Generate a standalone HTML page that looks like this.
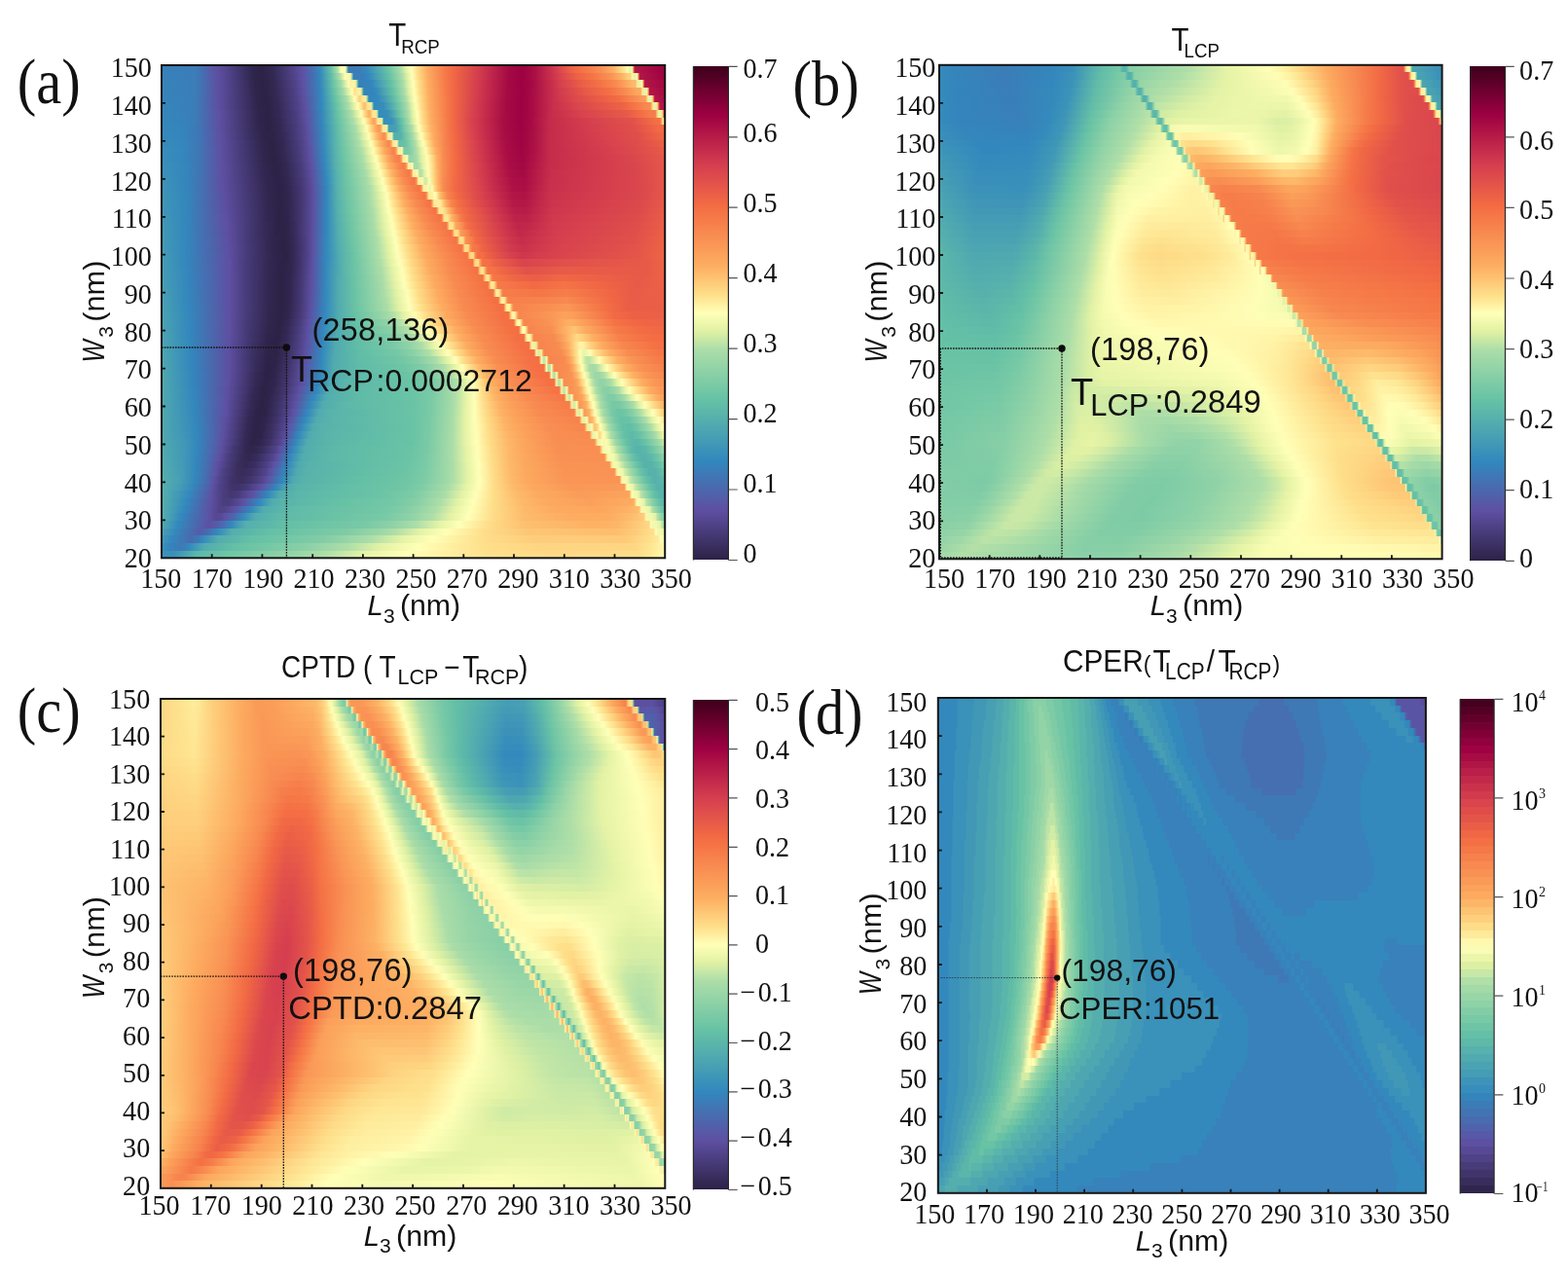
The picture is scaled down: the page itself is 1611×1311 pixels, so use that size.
<!DOCTYPE html>
<html lang="en"><head><meta charset="utf-8"><title>Figure</title>
<style>
html,body{margin:0;padding:0;background:#fff}
#fig{position:relative;width:1611px;height:1311px;overflow:hidden;background:#fff;font-family:"Liberation Sans",sans-serif}
.hm{position:absolute;overflow:hidden}
.hm i{position:absolute;left:0;width:100%;height:8.4px;display:block}
.cb{position:absolute}
#ov{position:absolute;left:0;top:0}
#ov text{fill:#111}
.s{font-family:"Liberation Serif",serif}
.a{font-family:"Liberation Sans",sans-serif}

</style></head>
<body>
<div id="fig">
<div class="hm" style="left:166.0px;top:67.0px;width:517.2px;height:506.3px"><i style="top:0.00px;background:linear-gradient(90deg,#3880b9 0%,#3a7db8 6.8%,#5b53a4 10.5%,#5c4d9e 11.5%,#433771 15.2%,#30264e 18%,#2c2246 19.8%,#332852 22%,#51438a 26.2%,#5e4fa2 27.8%,#4076b5 30.5%,#338abc 31.5%,#5ab5aa 33.2%,#6cc4a5 33.8%,#afdea8 35%,#c8e8a6 35.2%,#eef8ad 35.5%,#feffb8 35.8%,#fffdb4 36.5%,#97d5a7 36.8%,#4ba3b2 37%,#3d79b6 37.2%,#3a7db8 39.5%,#348abc 40.8%,#67c2a5 45%,#a9dca8 47.5%,#ddf0a4 48.5%,#fcfeb6 49.5%,#fffbb2 49.8%,#fede8a 50.8%,#fdab60 52.8%,#f67b49 56.2%,#f26b44 57.8%,#d1394e 63.5%,#a50944 69%,#9e0142 71.8%,#aa0f45 74.2%,#d53e4f 78.5%,#ec6046 81.2%,#f57245 83.5%,#f99153 87.5%,#fdae61 89.8%,#fee28d 91.8%,#fee795 92%,#fee795 92.2%,#fffbb3 92.5%,#ebf6aa 92.8%,#e7f4a8 93.2%,#ecf7ab 93.5%,#f7844e 93.8%,#b21747 94%,#9e0142 99.8%,#9e0142 100%)"></i><i style="top:7.67px;background:linear-gradient(90deg,#3781ba 0%,#3b7db8 6.8%,#5c52a3 10.8%,#5a4c9c 11.8%,#42366f 15.5%,#30254d 18.2%,#2c2246 20%,#332853 22.2%,#51448b 26.5%,#5d50a3 28%,#3d79b6 30.8%,#3288bd 31.5%,#63bfa6 33.8%,#a4daa8 35.2%,#b2e0a8 35.5%,#ddf0a4 36%,#ecf6ab 36.2%,#feffb7 36.5%,#fff7ad 36.8%,#fff8ad 37.5%,#9fd8a7 37.8%,#4fa9b0 38%,#3b7db8 38.2%,#397fb9 40.2%,#3389bd 41.2%,#65c1a5 45.2%,#a9dca8 47.8%,#def0a4 48.8%,#fdfeb7 49.8%,#fff2a5 50.2%,#fedc88 51%,#fdae61 52.8%,#f67b4a 56.2%,#f16844 58%,#cf384e 63.5%,#a50944 69%,#9e0142 71.8%,#ab0f45 74.2%,#d9434e 79.2%,#ec6146 82.5%,#f57145 85.2%,#f98f53 89%,#fdb164 91.5%,#fed07d 92.8%,#fed07e 93.2%,#fff0a2 93.5%,#ebf6aa 93.8%,#e7f4a8 94.2%,#f6fbb2 94.5%,#f67e4b 94.8%,#b21747 95%,#9e0242 100%)"></i><i style="top:15.34px;background:linear-gradient(90deg,#3683ba 0%,#3b7db8 6.8%,#5b53a4 10.8%,#5c4e9f 11.5%,#41356d 15.8%,#2f254c 18.5%,#2c2246 20.2%,#332953 22.5%,#504288 26.5%,#5e4fa1 28%,#3b7db8 31%,#3387bc 31.5%,#59b4ab 33.5%,#6dc5a5 34.2%,#a6dba8 35.8%,#c6e7a6 36.2%,#d9efa5 36.5%,#fffeb6 37.2%,#fff1a4 37.5%,#feefa1 37.8%,#fff3a6 38%,#fff3a6 38.5%,#a6dba8 38.8%,#54aead 39%,#3880b9 39.2%,#3683bb 41.2%,#3288bd 41.8%,#68c3a5 45.8%,#a9dca8 48%,#dff1a4 49%,#ffffb8 50%,#fee18d 51%,#fdac60 53%,#f67949 56.5%,#f16944 58%,#d0394e 63.2%,#a60a44 68.8%,#9e0142 71.5%,#a70b44 73.8%,#d7424e 79.5%,#eb6046 83.8%,#f57245 87.2%,#f88c51 90.5%,#fdb264 93.2%,#fdbb6c 93.8%,#fdbb6c 94.2%,#fee694 94.5%,#eaf5a9 94.8%,#e7f4a8 95.2%,#fffeb7 95.5%,#f57748 95.8%,#b21747 96%,#a20643 100%)"></i><i style="top:23.01px;background:linear-gradient(90deg,#3584bb 0%,#3b7db8 6.8%,#5c51a3 11%,#554792 12.8%,#30264e 18.5%,#2c2246 20.2%,#322851 22.5%,#4a3d7e 26%,#5d50a2 28.2%,#3880b9 31.2%,#348abc 31.8%,#65c1a5 34.2%,#a8dca8 36.2%,#e5f3a6 37.2%,#fbfdb5 37.8%,#fff7ac 38%,#fee998 38.2%,#fee18d 38.5%,#feee9f 39%,#feee9f 39.5%,#b1dfa8 39.8%,#58b3ab 40%,#3683bb 40.2%,#3485bc 42%,#368cbb 42.8%,#65c1a5 46%,#a8dca8 48.2%,#e1f1a4 49.2%,#fffeb6 50.2%,#fedf8a 51.2%,#fdae61 53%,#f67a49 56.5%,#f16944 58%,#d13a4e 63%,#a60a44 68.8%,#9e0142 71.8%,#a90e45 74%,#d23a4e 79%,#e75948 84.2%,#f57145 89.2%,#f88c51 92.2%,#fca85e 94.5%,#fca85e 95.2%,#fede89 95.5%,#e7f4a8 95.8%,#e7f4a8 96.2%,#fff4a8 96.5%,#f57145 96.8%,#b21747 97%,#a60a44 100%)"></i><i style="top:30.68px;background:linear-gradient(90deg,#3585bb 0%,#3a7eb8 6.5%,#5d50a2 11.2%,#41356c 16%,#2f244b 19%,#2c2246 20.8%,#342954 23%,#514389 27%,#5d4ea0 28.2%,#4076b4 30.8%,#3389bd 31.8%,#66c2a5 34.5%,#aadca8 36.8%,#e3f2a5 37.8%,#f7fbb2 38.2%,#fffdb4 38.5%,#fee28d 39%,#fed481 39.2%,#fed27f 39.5%,#fedd88 39.8%,#fee997 40%,#fee997 40.5%,#c0e5a6 40.8%,#5db8a9 41%,#3386bc 41.2%,#3389bd 43%,#469eb4 44.5%,#68c3a5 46.5%,#a8dca8 48.5%,#e2f2a4 49.5%,#fbfdb5 50.2%,#fffcb3 50.5%,#fedc87 51.5%,#fdac60 53.2%,#f67848 56.8%,#f16944 58%,#d0394e 63%,#a70b44 68.5%,#9e0142 71.5%,#a80c44 73.8%,#cb334d 78.2%,#dc484c 82%,#f36c43 90.8%,#f88d52 94.2%,#fa9a58 95.5%,#fb9d59 96.2%,#fed783 96.5%,#e7f4a8 96.8%,#e7f4a8 97.2%,#fee999 97.5%,#f26a44 97.8%,#b21747 98%,#aa0e45 100%)"></i><i style="top:38.36px;background:linear-gradient(90deg,#3486bc 0%,#3a7eb8 6.5%,#5d50a3 11.2%,#41356e 16%,#2f254c 19%,#2c2246 21%,#342955 23.2%,#51438a 27.2%,#5e4fa2 28.5%,#3288bd 31.8%,#67c3a5 34.8%,#abdda8 37.2%,#e0f1a4 38.2%,#fdfeb6 39%,#fff6ab 39.2%,#fedb87 39.8%,#fdbf6f 40.2%,#fdc373 40.5%,#fee694 41%,#fee694 41.5%,#cdeaa6 41.8%,#61bda7 42%,#3389bd 42.2%,#368cbb 44%,#4ea7b0 45.5%,#6bc4a5 47%,#a8dca8 48.8%,#e4f3a5 49.8%,#fdfeb6 50.5%,#fff1a3 51%,#fee08b 51.5%,#fdae61 53.2%,#f67948 56.8%,#f16944 58%,#d33c4f 62.5%,#a60a44 68.5%,#9e0142 71.5%,#a80c44 73.8%,#c82f4c 77.8%,#da464d 82.8%,#ee6445 91.8%,#f57145 93.5%,#f88b51 96.5%,#f88b51 97%,#f99254 97.2%,#fed17f 97.5%,#e7f4a8 97.8%,#e7f4a8 98.2%,#fedf8a 98.5%,#ee6445 98.8%,#b21747 99%,#ae1346 100%)"></i><i style="top:46.03px;background:linear-gradient(90deg,#3387bc 0%,#3a7eb8 6.5%,#5e4fa2 11.5%,#30264d 19%,#2c2246 21%,#332853 23.2%,#4b3e80 26.8%,#5d51a3 28.8%,#3386bc 31.8%,#68c3a5 35%,#acdda8 37.8%,#ddf0a4 38.8%,#f9fcb4 39.5%,#fffbb3 39.8%,#fee28d 40.2%,#fdad61 41.2%,#fdb668 41.5%,#fee796 42%,#fee796 42.5%,#d4eda5 42.8%,#65c1a6 43%,#358cbb 43.2%,#378dbb 44.8%,#479fb3 45.8%,#67c2a5 47.2%,#a8dca8 49%,#e6f4a7 50%,#ffffb7 50.8%,#fedd88 51.8%,#fdab60 53.5%,#f57346 57.2%,#ed6346 58.5%,#d0394e 62.8%,#a70c44 68.2%,#9e0142 71.5%,#a80c44 73.8%,#c62d4b 77.5%,#d9454d 84.2%,#e75a48 92.5%,#f57145 95.8%,#f67d4b 97.2%,#f67d4b 98%,#f88850 98.2%,#fecd7b 98.5%,#e7f4a8 98.8%,#e7f4a8 99.2%,#fed582 99.5%,#ea5d47 99.8%,#b21747 100%)"></i><i style="top:53.70px;background:linear-gradient(90deg,#3288bd 0%,#3a7eb8 6.5%,#5e50a2 11.5%,#30254d 19.2%,#2c2246 21.2%,#332853 23.5%,#4c3f81 27%,#5e4fa1 28.8%,#3485bc 31.8%,#388fba 32.2%,#64c0a6 35%,#addea8 38.2%,#e5f3a6 39.5%,#feffb7 40.2%,#fff5aa 40.5%,#fedb87 41%,#fdb265 41.8%,#fba15b 42.2%,#fdab60 42.5%,#fee998 43%,#fee998 43.5%,#dcf0a4 43.8%,#6ac4a5 44%,#388eba 44.2%,#3a91b9 45.8%,#50a9af 46.8%,#6ac4a5 47.8%,#a8dca8 49.2%,#dcf0a4 50%,#fafdb5 50.8%,#fffbb2 51%,#fee08c 51.8%,#fdad60 53.5%,#f47044 57.5%,#d8424e 61.5%,#a80d44 68%,#9e0142 71.2%,#a50944 73.2%,#c42b4b 77.2%,#d7424e 85.8%,#e2524a 93.8%,#f46f44 98.2%,#f46f44 99%,#f7804c 99.2%,#feca79 99.5%,#e7f4a8 99.8%,#e7f4a8 100%)"></i><i style="top:61.37px;background:linear-gradient(90deg,#3389bc 0%,#3683bb 4.8%,#3e78b6 7.2%,#5d50a2 11.5%,#31264e 19.2%,#2c2246 21.2%,#322751 23.5%,#463a76 26.5%,#584a98 28.5%,#5d50a3 29%,#3288bd 32%,#5fbaa8 34.8%,#7acaa6 36.2%,#a9dca8 38.5%,#def0a4 39.8%,#ffffb8 40.8%,#fedc87 41.5%,#fdac60 42.5%,#fa9656 43.2%,#fba25c 43.5%,#fdc675 43.8%,#feea99 44%,#feea99 44.5%,#e6f4a7 44.8%,#7acaa6 45%,#459db4 45.2%,#469fb4 46.5%,#5ab5aa 47.5%,#72c7a6 48.2%,#addea8 49.8%,#e3f2a5 50.5%,#ffffb8 51.2%,#fee390 52%,#fdb365 53.5%,#f7864f 56%,#f26a44 58%,#d63f4f 62%,#a80c44 68.2%,#9f0242 71.5%,#a90d45 73.8%,#c42b4b 77.2%,#d7414e 86.5%,#e1504a 94.2%,#f26944 98.8%,#f26944 100%)"></i><i style="top:69.04px;background:linear-gradient(90deg,#348bbc 0%,#3485bc 4.2%,#3e78b6 7.2%,#5d51a3 11.5%,#3b3062 17.5%,#2e2449 20.2%,#2d2347 22.2%,#362b59 24.5%,#54468f 28.2%,#5d4ea0 29%,#3b7cb7 31.5%,#3486bc 32%,#3e95b8 32.8%,#61bca7 35%,#8ed2a7 37.5%,#addea8 39%,#e2f2a4 40.2%,#fffdb6 41.2%,#fedc88 42%,#fdae61 43%,#f88c51 44.2%,#fa9b58 44.5%,#fdc171 44.8%,#feeb9b 45%,#feeb9b 45.5%,#eef7ac 45.8%,#8bd0a7 46%,#53adae 46.2%,#57b2ac 47.5%,#66c2a5 48.2%,#a7dba8 50%,#d9eea5 50.8%,#f0f8ae 51.2%,#fafdb4 51.5%,#fffbb2 51.8%,#fede89 52.5%,#fdac60 54%,#f7804c 56.5%,#f16944 58.2%,#d63f4f 62.2%,#a90d45 68.2%,#9f0342 71.5%,#aa0e45 73.8%,#c42c4b 77.2%,#d7414e 87.5%,#e04f4b 94.8%,#ee6545 99.2%,#ee6545 100%)"></i><i style="top:76.71px;background:linear-gradient(90deg,#368cbb 0%,#3486bc 4.2%,#3e78b5 7.2%,#5e4fa2 11.8%,#30264e 19.8%,#2c2246 22%,#322751 24%,#473b78 27%,#5b4c9c 29%,#5e4fa2 29.2%,#3389bd 32.2%,#59b4ab 34.5%,#6ec5a5 36%,#aadda8 39.2%,#e4f3a6 40.8%,#fafdb5 41.5%,#fffcb3 41.8%,#fedc88 42.5%,#fdb163 43.5%,#f88a50 45%,#f7864e 45.2%,#fa9656 45.5%,#fdbd6e 45.8%,#feec9d 46%,#feec9d 46.5%,#f5fbb1 46.8%,#9bd7a7 47%,#62bea7 47.2%,#65c1a5 48.2%,#7acaa6 49%,#b0dfa8 50.5%,#e1f1a4 51.2%,#fdfeb7 52%,#feed9e 52.5%,#fed985 53%,#fdac60 54.2%,#f7854e 56.2%,#f26a44 58.2%,#d53f4f 62.5%,#a90d45 68.5%,#a00343 71.5%,#aa0f45 73.8%,#c42c4b 77.2%,#d7414e 88.5%,#e1504a 95.8%,#eb6046 99.8%,#eb6046 100%)"></i><i style="top:84.38px;background:linear-gradient(90deg,#378ebb 0%,#3486bc 4.5%,#4076b4 7.5%,#5d50a2 11.8%,#30264e 20%,#2c2246 22.2%,#322851 24.2%,#483b79 27.2%,#594b99 29%,#5c51a3 29.5%,#3387bc 32.2%,#58b2ab 34.5%,#6fc6a5 36.2%,#aedea8 39.8%,#dff1a4 41%,#fcfdb6 42%,#fffab1 42.2%,#fedd88 43%,#fdac60 44.2%,#f88850 45.8%,#f7814c 46.2%,#f99254 46.5%,#fdba6b 46.8%,#feee9f 47%,#feee9f 47.5%,#fbfdb5 47.8%,#aadda8 48%,#79caa6 48.2%,#7ccba6 49%,#8fd2a7 49.8%,#b4e0a7 50.8%,#ddf0a4 51.5%,#fffdb5 52.5%,#fedf8a 53.2%,#fdac60 54.5%,#f88b51 56%,#f36b44 58.2%,#d6404e 62.5%,#aa0e45 68.5%,#a10443 71.5%,#ab0f45 73.8%,#c42c4b 77.2%,#d7424e 90%,#e2514a 97%,#e85b48 100%)"></i><i style="top:92.05px;background:linear-gradient(90deg,#388fba 0%,#3386bc 4.5%,#4076b4 7.5%,#5d50a3 11.8%,#30264e 20.2%,#2c2246 22.5%,#322851 24.5%,#493c7b 27.5%,#5a4c9b 29.2%,#5e4fa2 29.5%,#3585bb 32.2%,#348abc 32.5%,#57b1ac 34.5%,#6dc5a5 36.2%,#abdda8 40%,#e3f2a4 41.5%,#fdfeb7 42.5%,#fff9af 42.8%,#fedd88 43.5%,#fdae61 44.8%,#f88b51 46.2%,#f67d4a 47.2%,#f88d52 47.5%,#fdb668 47.8%,#feefa1 48%,#feefa1 48.5%,#fffeb7 48.8%,#c5e7a6 49%,#93d4a7 49.2%,#94d4a7 49.8%,#a4daa8 50.5%,#acdda8 50.8%,#d7eea5 51.5%,#e2f2a4 51.8%,#fefeb7 52.8%,#fff0a2 53.2%,#feda86 53.8%,#fdac60 54.8%,#f88c51 56%,#f36c43 58.2%,#d7424e 62.5%,#aa0e45 68.8%,#a20543 71.8%,#b01446 74.2%,#c52c4b 77.2%,#d9444e 92.5%,#e55749 100%)"></i><i style="top:99.73px;background:linear-gradient(90deg,#3a91b9 0%,#3486bc 4.8%,#4273b3 7.8%,#5e4fa2 12%,#31274f 20.2%,#2c2246 22.8%,#322852 24.8%,#493c7c 27.8%,#5d51a3 29.8%,#3288bd 32.5%,#56b0ac 34.5%,#6ec5a5 36.5%,#a9dca8 40.2%,#e5f3a6 42%,#feffb8 43%,#fedd89 44%,#fdb063 45.2%,#f88a50 47%,#f67a49 48.2%,#f88a50 48.5%,#fdb365 48.8%,#fff0a3 49%,#fff0a3 49.5%,#fffbb2 49.8%,#d9eea5 50%,#a4daa8 50.2%,#a4daa8 50.8%,#a9dca8 51%,#c7e8a6 51.5%,#e5f3a6 52%,#fbfdb5 52.8%,#fffbb2 53%,#fee08b 53.8%,#fdaf62 54.8%,#f99154 55.8%,#f36b43 58.2%,#d7424e 62.8%,#aa0e45 69%,#a40743 71.8%,#b11647 74.2%,#c52d4b 77.2%,#da464d 94%,#e55649 100%)"></i><i style="top:107.40px;background:linear-gradient(90deg,#3b92b9 0%,#3486bc 4.8%,#4471b2 8%,#5e4fa2 12%,#31264f 20.5%,#2c2246 23%,#322852 25%,#4a3d7d 28%,#5a4b9a 29.5%,#5d4ea1 29.8%,#3485bc 32.5%,#3990ba 33%,#58b2ab 34.8%,#6cc4a5 36.5%,#a7dca8 40.5%,#bde4a7 41.2%,#e1f1a4 42.2%,#fffeb7 43.5%,#fede89 44.5%,#fdac60 46%,#f88c51 47.5%,#f57748 49.2%,#f7864f 49.5%,#fdb063 49.8%,#fff1a4 50%,#fff1a4 50.5%,#fff9af 50.8%,#e6f4a7 51%,#b8e2a7 51.2%,#b3e0a7 51.5%,#bbe3a7 51.8%,#dff1a4 52.2%,#f6fbb2 52.8%,#ffffb8 53%,#fed985 54%,#fdb365 54.8%,#f99153 55.8%,#f57145 57.8%,#df4d4b 61.5%,#cd354d 64.5%,#ab0f45 69.2%,#a60a44 72%,#b91f48 75%,#c72f4c 77.5%,#da464d 94.5%,#e55649 100%)"></i><i style="top:115.07px;background:linear-gradient(90deg,#3c93b8 0%,#3386bc 4.8%,#4471b2 8%,#5d4ea1 12.2%,#31264f 20.8%,#2c2246 23.2%,#31274f 25%,#463976 27.8%,#584996 29.5%,#5d50a2 30%,#3389bd 32.8%,#57b1ac 34.8%,#6ec5a5 36.8%,#a6dba8 40.8%,#b9e3a7 41.5%,#e3f3a5 42.8%,#fbfdb5 43.8%,#fffdb5 44%,#fede89 45%,#fdae61 46.5%,#f88b51 48.2%,#f57547 50.2%,#f7834d 50.5%,#fdad61 50.8%,#fff0a2 51%,#fff2a5 51.5%,#fff6ab 51.8%,#f0f8ad 52%,#d3eca5 52.2%,#cfeba5 52.5%,#dff1a4 52.8%,#fdfeb7 53.2%,#fedd89 54%,#fdab60 55%,#f88a51 56%,#f26b44 58.2%,#da454d 62.8%,#c52c4b 65.8%,#ab0f45 69.8%,#a90d45 72.2%,#c72f4c 77.2%,#db474d 95%,#e55649 100%)"></i><i style="top:122.74px;background:linear-gradient(90deg,#3e95b8 0%,#3386bc 4.8%,#466fb1 8.2%,#5e4fa2 12.2%,#31264f 21%,#2c2246 23.5%,#312750 25.2%,#443873 27.8%,#594b99 29.8%,#5c52a3 30.2%,#3386bc 32.8%,#56b0ac 34.8%,#6cc4a5 36.8%,#a5dba8 41%,#b6e1a7 41.8%,#e5f4a6 43.2%,#fcfeb6 44.2%,#fffcb4 44.5%,#fedf8a 45.5%,#fdab60 47.2%,#f88d52 48.8%,#f57346 51.2%,#f7804c 51.5%,#fcaa5f 51.8%,#feeb9b 52%,#feefa1 52.2%,#fff2a5 52.8%,#fafdb4 53%,#e8f5a8 53.2%,#edf7ab 53.5%,#fffdb5 53.8%,#feeb9c 54%,#fedc88 54.2%,#fdb063 55%,#f88a50 56%,#f26a44 58.2%,#db474d 62.8%,#c9314c 65.5%,#ad1246 69.8%,#ab0f45 72.2%,#c8304c 77.2%,#db474d 95.2%,#e55649 100%)"></i><i style="top:130.41px;background:linear-gradient(90deg,#3e96b7 0%,#3387bc 4.8%,#496baf 8.8%,#5d4ea0 12.5%,#312750 21%,#2c2246 23.5%,#31264e 25.2%,#443772 27.8%,#594a98 29.8%,#5c51a3 30.2%,#3386bc 32.8%,#449cb5 33.8%,#5bb5aa 35.2%,#71c6a5 37.2%,#a6dba8 41.2%,#b7e2a7 42%,#e5f3a6 43.5%,#fffeb7 44.8%,#fedc88 46%,#fdac60 47.8%,#f88d52 49.5%,#f57346 52.2%,#f67b4a 52.5%,#fca55d 52.8%,#fee18d 53%,#feed9d 53.2%,#feed9e 53.8%,#fff8ad 54%,#fcfeb6 54.2%,#fffbb2 54.5%,#fee592 54.8%,#fdc675 55.2%,#fdaa5f 55.8%,#f7854e 56.8%,#f36c43 58.5%,#df4e4b 62.2%,#cd354d 65.5%,#b11646 69.8%,#ae1346 72.2%,#ca324c 77.2%,#db474d 95%,#e65749 100%)"></i><i style="top:138.08px;background:linear-gradient(90deg,#3f97b7 0%,#3387bc 4.8%,#4b67ae 9.2%,#5e4fa2 12.5%,#322750 21%,#2c2246 23.8%,#322750 25.5%,#463976 28%,#594a98 29.8%,#5c52a3 30.2%,#3387bc 32.8%,#54aead 34.8%,#6bc4a5 37%,#a7dba8 41.5%,#b9e2a7 42.2%,#e5f3a6 43.8%,#ffffb8 45%,#fee08b 46.2%,#fdad61 48.2%,#f88b51 50.5%,#f57346 53.2%,#f57647 53.5%,#fb9f5a 53.8%,#fed683 54%,#feea9a 54.2%,#feec9d 55.2%,#fee694 55.5%,#fed481 55.8%,#fdac60 56.5%,#f7864f 57.5%,#f46e43 59%,#e2524a 62.2%,#ce364d 66%,#b41947 70%,#b21747 72.2%,#cc344d 77.5%,#dc494c 95%,#e75948 100%)"></i><i style="top:145.75px;background:linear-gradient(90deg,#4097b7 0%,#3387bc 4.8%,#4f62ab 10%,#5d4ea1 12.8%,#332853 20.8%,#2c2246 23.5%,#30254d 25.2%,#41356c 27.5%,#594b99 29.8%,#5d4ea0 30%,#3f77b5 32%,#3387bd 32.8%,#56b0ad 35%,#6dc5a5 37.2%,#a8dca8 41.8%,#bae3a7 42.5%,#e6f4a6 44%,#feffb7 45.2%,#fedd88 46.8%,#fdae61 48.8%,#f88c51 51.2%,#f57245 54.5%,#fa9957 54.8%,#fecc7a 55%,#fee896 55.2%,#fee896 55.8%,#fed17f 56.5%,#fdb667 57%,#fca35c 57.5%,#f77f4c 58.5%,#f26a44 60%,#de4b4c 64%,#cd354d 66.8%,#b71d48 70.2%,#b71c48 72.5%,#ce364d 77.5%,#dd4a4c 94.8%,#e85b48 100%)"></i><i style="top:153.42px;background:linear-gradient(90deg,#4098b6 0%,#3387bc 4.8%,#5a55a5 12%,#5d4ea0 13%,#332853 20.8%,#2c2246 23.5%,#2f254c 25.2%,#41356c 27.5%,#594b99 29.8%,#5d4ea0 30%,#3288bd 32.8%,#55afad 35%,#6ec5a5 37.5%,#a9dca8 42%,#e1f2a4 44%,#fdfeb7 45.5%,#fff6ab 46%,#fee08b 47%,#fdac60 49.5%,#f88a50 52.2%,#f57245 55.5%,#f99354 55.8%,#fdc271 56%,#fee593 56.2%,#fee593 56.8%,#feda86 57%,#fdbc6d 57.5%,#fca85e 58%,#f67949 59.5%,#f16844 60.8%,#d0394e 67%,#bb2249 70.2%,#bb2149 72.5%,#d0394e 77.8%,#de4c4b 94.5%,#e95d47 100%)"></i><i style="top:161.10px;background:linear-gradient(90deg,#4199b6 0%,#3387bc 4.8%,#5e4fa1 13%,#372c5a 20%,#2d2348 23%,#2d2348 24.8%,#372c5b 26.5%,#564893 29.5%,#5d4ea1 30%,#3288bd 32.8%,#54adad 35%,#6cc4a5 37.5%,#aadca8 42.2%,#e1f2a4 44.2%,#fdfeb6 45.8%,#fffdb4 46%,#fedd89 47.5%,#fdac60 50%,#f88a51 53%,#f57346 56.5%,#f88d52 56.8%,#fdb869 57%,#fee38f 57.2%,#fee38f 57.8%,#fed682 58%,#fdbd6d 58.2%,#fca85e 58.5%,#f88b51 59.8%,#f57446 60.5%,#f06745 61.5%,#cf384e 67.8%,#be254a 70.8%,#c1284a 73.2%,#d23b4e 77.8%,#df4e4b 94.5%,#ea5e47 100%)"></i><i style="top:168.77px;background:linear-gradient(90deg,#429ab6 0%,#3387bc 4.8%,#5d4ea0 13.2%,#3b2f61 19.2%,#2d2349 22.8%,#2d2347 24.8%,#372c5a 26.5%,#564893 29.5%,#5e4fa1 30%,#3288bd 32.8%,#55afad 35.2%,#6dc5a5 37.8%,#aadda8 42.5%,#e2f2a4 44.5%,#fcfeb6 46%,#fffdb6 46.2%,#fee08b 47.8%,#fdad61 50.5%,#f88950 54%,#f57346 57.5%,#f8874f 57.8%,#fdae61 58%,#fee08b 58.2%,#fee08b 58.8%,#fed481 59%,#fdb264 59.2%,#fa9a58 59.5%,#f7834d 60.8%,#f46f44 61.5%,#e65848 64%,#ce374d 68.5%,#c1284a 71.2%,#cb324d 74.8%,#d53e4f 78.8%,#e04e4b 94%,#ec6046 100%)"></i><i style="top:176.44px;background:linear-gradient(90deg,#439ab5 0%,#3387bc 4.8%,#5e4fa2 13.2%,#463975 17.2%,#30264e 21.8%,#2c2246 24.5%,#322852 26%,#4a3d7e 28.5%,#5a4b9a 29.8%,#5e4fa2 30%,#3389bd 32.8%,#54aead 35.2%,#6ec5a5 38%,#abdda8 42.8%,#e2f2a4 44.8%,#fffeb7 46.5%,#fedd89 48.2%,#fdab60 51.2%,#f8884f 55%,#f57346 58.5%,#f7824d 58.8%,#fca85e 59%,#fede89 59.2%,#fede89 59.8%,#fed481 60%,#fdab60 60.2%,#f98f53 60.5%,#f67b49 61.8%,#f46d43 62.2%,#e75948 64.5%,#d0384e 69%,#c52d4b 71.5%,#d6404e 78.8%,#e1514a 94.2%,#ed6246 100%)"></i><i style="top:184.11px;background:linear-gradient(90deg,#439bb5 0%,#3387bd 4.8%,#5d4ea0 13.5%,#493c7b 16.8%,#312750 21.5%,#2c2246 24.2%,#30264e 25.8%,#42366e 27.8%,#5a4b9b 29.8%,#5e4fa2 30%,#3389bd 32.8%,#55b0ad 35.5%,#6ec5a5 38.2%,#acdea8 43%,#e2f2a4 45%,#ffffb8 46.8%,#fee08b 48.5%,#fdac60 51.8%,#f88850 55.8%,#f57346 59.5%,#f67d4a 59.8%,#fba25b 60%,#fed582 60.2%,#fedc87 60.5%,#fed783 61%,#fca75e 61.2%,#f7854e 61.5%,#f67a49 61.8%,#f57346 62.8%,#ef6545 63.5%,#cf384e 69.8%,#ca324c 72%,#d7424e 78.8%,#e3534a 94.2%,#ee6445 100%)"></i><i style="top:191.78px;background:linear-gradient(90deg,#449cb5 0%,#3387bd 4.8%,#5c51a3 13.2%,#5a4b9b 14%,#433771 17.8%,#30264d 22%,#2c2246 24.8%,#332954 26.2%,#504288 29%,#5d50a2 30%,#3585bb 32.5%,#3389bd 32.8%,#54aead 35.5%,#6fc6a5 38.5%,#addea8 43.2%,#e2f2a4 45.2%,#feffb8 47%,#fedd89 49%,#fdac60 52.2%,#f88950 56.5%,#f57346 60.5%,#f67848 60.8%,#fb9c59 61%,#fecc7a 61.2%,#feda86 61.5%,#feda86 62%,#fca55d 62.2%,#f67f4b 62.5%,#f46e43 62.8%,#f46d43 63.8%,#ec6146 64.8%,#d8424e 69.2%,#cf374d 71.5%,#da464d 80.5%,#e55649 95%,#ef6545 100%)"></i><i style="top:199.45px;background:linear-gradient(90deg,#459db4 0%,#3386bc 5%,#5e4fa2 13.5%,#4c3e80 16.2%,#322852 21.2%,#2c2246 24.2%,#30264e 25.8%,#43366f 27.8%,#574996 29.5%,#5d51a3 30%,#3485bc 32.5%,#378dbb 33%,#57b1ac 35.8%,#6ec5a5 38.5%,#addea8 43.5%,#e2f2a4 45.5%,#fdfeb7 47.2%,#fff9af 47.8%,#fedc87 49.5%,#fdac60 52.8%,#f88950 57%,#f57245 61.8%,#fa9857 62%,#fec776 62.2%,#fedd89 62.5%,#fedd89 63%,#fdad61 63.2%,#f8874f 63.5%,#f57145 63.8%,#f47044 64.8%,#ed6346 66.2%,#d9444d 71.8%,#e1514a 80.5%,#e75a48 96.5%,#ee6445 100%)"></i><i style="top:207.12px;background:linear-gradient(90deg,#459eb4 0%,#3387bc 5%,#5e4fa2 13.5%,#4a3d7e 16.5%,#322852 21.2%,#2c2246 24.2%,#31264f 25.8%,#463976 28%,#584a97 29.5%,#5c52a3 30%,#3486bc 32.5%,#3e95b7 33.5%,#5bb5aa 36.2%,#73c7a6 39%,#aedea8 43.8%,#e5f3a6 46%,#fffeb7 47.8%,#fede89 49.8%,#fdac60 53.2%,#f88950 57.5%,#f57145 62.8%,#f99355 63%,#fdc271 63.2%,#fee18c 63.5%,#fee18c 64%,#fdb86a 64.2%,#f98f53 64.5%,#f57446 64.8%,#f57346 65.8%,#ef6645 67.8%,#e1514a 72.5%,#e85b48 79.5%,#e75a48 96.5%,#ee6345 100%)"></i><i style="top:214.79px;background:linear-gradient(90deg,#469fb4 0%,#3387bd 5%,#5e4fa2 13.5%,#4a3d7e 16.5%,#322851 21.2%,#2c2246 24%,#30254d 25.5%,#41356d 27.5%,#594b99 29.5%,#5d4ea1 29.8%,#3386bc 32.5%,#52acae 35.2%,#6cc4a5 38.5%,#a9dca8 43.8%,#e5f3a6 46.2%,#ffffb8 48%,#fedc88 50.2%,#fdac60 53.8%,#f88a50 58%,#f47044 63.8%,#f98e52 64%,#fdbc6d 64.2%,#fee592 64.5%,#fee592 65%,#fdc474 65.2%,#fa9756 65.5%,#f57748 65.8%,#f57346 67%,#ee6545 70.5%,#ea5d47 74%,#f06745 79.5%,#e75a48 95.5%,#ed6246 100%)"></i><i style="top:222.47px;background:linear-gradient(90deg,#479fb3 0%,#3386bc 5.2%,#5e4fa2 13.5%,#4a3d7d 16.5%,#322751 21.2%,#2c2246 24%,#30264e 25.5%,#42366f 27.5%,#5a4c9b 29.5%,#5e4fa2 29.8%,#3387bc 32.5%,#52acae 35.2%,#6cc4a5 38.5%,#a9dca8 44%,#e4f3a5 46.5%,#fefeb7 48.2%,#fff1a4 49.2%,#fede89 50.5%,#fdab60 54.2%,#f88a50 58.5%,#f47044 64.8%,#f88950 65%,#fdb567 65.2%,#fee897 65.5%,#fee897 66%,#fed07d 66.2%,#fb9f5a 66.5%,#f67a49 66.8%,#f26944 73.8%,#f57346 80.2%,#ee6345 88.8%,#e75a48 94.5%,#ec6146 100%)"></i><i style="top:230.14px;background:linear-gradient(90deg,#48a0b3 0%,#3387bc 5.2%,#5e4fa2 13.5%,#4a3d7d 16.5%,#322751 21.2%,#2c2246 24%,#31264e 25.5%,#433770 27.5%,#5b4c9d 29.5%,#5d50a3 29.8%,#3287bd 32.5%,#52acae 35.2%,#6dc5a5 38.8%,#aadca8 44.2%,#e3f3a5 46.8%,#fffeb6 48.8%,#fedd88 51%,#fdab60 54.8%,#f88a51 59%,#f47044 65.5%,#f46f44 65.8%,#f7844d 66%,#fdaf62 66.2%,#feec9d 66.5%,#feec9d 67%,#fedb87 67.2%,#fca65d 67.5%,#f7814c 67.8%,#f67d4a 68.2%,#f57647 74.8%,#f67e4b 80.5%,#f16844 88.5%,#e85b48 93.5%,#ec6046 100%)"></i><i style="top:237.81px;background:linear-gradient(90deg,#49a1b3 0%,#3387bd 5.2%,#5e4fa2 13.5%,#493c7b 16.8%,#322750 21.2%,#2c2246 24%,#31264f 25.5%,#463a76 27.8%,#5c4d9e 29.5%,#5856a6 30%,#3288bd 32.5%,#52acae 35.2%,#6dc5a5 38.8%,#aadda8 44.5%,#e3f2a5 47%,#ffffb8 49%,#fede8a 51.2%,#fdab60 55.2%,#f88b51 59.5%,#f47044 66.2%,#f46f44 66.8%,#f67e4b 67%,#fcaa5f 67.2%,#feec9d 67.5%,#fff0a2 67.8%,#fff0a2 68%,#fee795 68.2%,#fdae61 68.5%,#f88950 68.8%,#f7804c 69%,#f7834d 76%,#f88a50 80.5%,#f16944 89%,#e95c47 93.2%,#eb5f47 100%)"></i><i style="top:245.48px;background:linear-gradient(90deg,#49a2b2 0%,#3288bd 5.2%,#5e4fa2 13.5%,#493c7b 16.8%,#322750 21.2%,#2c2246 24%,#312750 25.5%,#473a78 27.8%,#5d4ea0 29.5%,#3288bd 32.5%,#52acae 35.2%,#6cc4a5 38.8%,#aadda8 44.8%,#e3f2a4 47.2%,#fefeb7 49.2%,#fedd88 51.8%,#fdab5f 55.8%,#f88b51 60%,#f47044 67%,#f46f44 67.8%,#f67848 68%,#fca55d 68.2%,#fee694 68.5%,#fff4a8 68.8%,#fff3a6 69.2%,#fdba6b 69.5%,#f99154 69.8%,#f7834d 70%,#f98e52 76.2%,#fa9656 80.8%,#f46e44 88.5%,#ea5e47 92.5%,#ea5e47 100%)"></i><i style="top:253.15px;background:linear-gradient(90deg,#4aa3b2 0%,#3387bc 5.5%,#5e4fa2 13.5%,#483c7a 16.8%,#31274f 21.2%,#2c2246 23.8%,#31264f 25.2%,#463976 27.5%,#5d50a3 29.5%,#3485bc 32.2%,#368dbb 32.8%,#52acae 35.2%,#6bc4a5 39%,#9bd7a7 44.2%,#addea8 45.8%,#e5f3a6 48.2%,#fffeb7 50.2%,#fede89 52.5%,#fdab60 56.5%,#f88b51 60.8%,#f47044 67.8%,#f46e44 68.8%,#f57245 69%,#fba05a 69.2%,#fedf8a 69.5%,#fff7ad 69.8%,#fff7ad 70.2%,#fdc474 70.5%,#fa9857 70.8%,#f7864e 71%,#fa9556 76.8%,#fba25c 80.2%,#fb9e59 81.8%,#f36b44 89.8%,#ec6146 93.5%,#eb6046 100%)"></i><i style="top:260.82px;background:linear-gradient(90deg,#4ba4b2 0%,#3387bd 5.5%,#5e4fa1 13.5%,#463a76 17%,#31274f 21%,#2c2246 23.5%,#312750 25%,#493c7b 27.5%,#5e4fa2 29.2%,#3387bd 32.2%,#51abaf 35%,#68c3a5 39.2%,#8ed2a7 44.5%,#addea8 47.2%,#e2f2a4 49.5%,#feffb8 51.5%,#fede89 53.8%,#fdab60 57.5%,#f88c51 61.5%,#f47045 68.5%,#f46f44 70%,#fb9e5a 70.2%,#fede8a 70.5%,#fffbb2 70.8%,#fffbb2 71.2%,#feca78 71.5%,#fa9a58 71.8%,#f7854e 72%,#f99254 77%,#fdb062 81%,#fdad61 82%,#f57245 90.2%,#f06744 94.2%,#ee6345 100%)"></i><i style="top:268.49px;background:linear-gradient(90deg,#4ba4b1 0%,#3287bd 5.5%,#5e4fa1 13.5%,#463975 17%,#31274f 20.8%,#2c2246 23.2%,#322750 24.8%,#483c7a 27.2%,#5d4ea0 29%,#3389bd 32.2%,#50aaaf 34.8%,#66c2a5 39.5%,#88cfa6 45.2%,#addea8 48.8%,#e3f2a5 51%,#fffeb6 53%,#fede89 55%,#fdac60 58.5%,#f88c51 62.5%,#f47044 69.5%,#f46e43 71%,#fb9e59 71.2%,#fedf8a 71.5%,#ffffb8 71.8%,#ffffb8 72.2%,#fece7c 72.5%,#fb9c59 72.8%,#f7854e 73%,#f98f53 77.5%,#fdb466 80.5%,#fdc575 82%,#fdba6b 83%,#fdab60 84.2%,#f67a49 90.5%,#f46c43 95%,#f06744 100%)"></i><i style="top:276.16px;background:linear-gradient(90deg,#4ca5b1 0%,#3386bc 5.8%,#5d4fa1 13.5%,#42366e 17.5%,#2f254c 21%,#2c2247 23.2%,#352a57 25%,#594a98 28.5%,#5d51a3 29%,#3386bc 32%,#4fa8b0 34.5%,#63bea7 39%,#7dcba6 45.2%,#9ed8a7 49%,#aedea8 50.2%,#e4f3a6 52.5%,#feffb8 54.2%,#fede89 56.2%,#fdad60 59.5%,#f88c51 63.5%,#f47044 70.5%,#f46e43 72%,#fb9f5a 72.2%,#fee795 72.5%,#f4fab0 72.8%,#f4fab0 73.2%,#fed784 73.5%,#fb9f5a 73.8%,#f7854e 74%,#f88b51 78%,#fba35c 79.8%,#fdb769 80.8%,#fed985 82.5%,#fed481 83.2%,#fdad61 85.8%,#f7814c 90.8%,#f47045 95.8%,#f36b43 100%)"></i><i style="top:283.83px;background:linear-gradient(90deg,#4da6b1 0%,#3387bc 5.8%,#5d4ea1 13.5%,#3f3369 17.8%,#2f254c 20.8%,#2c2246 22.8%,#342954 24.5%,#554791 28%,#5d50a2 28.8%,#3288bd 32%,#50aaaf 34.5%,#62bea7 39.2%,#79c9a6 46%,#93d4a7 49.5%,#aedea8 51.8%,#e5f4a6 54%,#fdfeb6 55.5%,#fffdb6 55.8%,#fede8a 57.5%,#fdad61 60.5%,#f88d52 64.2%,#f57145 71.2%,#f46e43 73%,#fba15b 73.2%,#feeea0 73.5%,#e8f5a8 73.8%,#e8f5a8 74.2%,#fee18d 74.5%,#fba25c 74.8%,#f7854e 75%,#f88b51 78.8%,#fba25c 80.2%,#fdad61 80.8%,#fee38f 82.5%,#fff1a4 83%,#fff4a9 83.2%,#fff1a3 83.8%,#fed985 84.8%,#fdab60 87.5%,#f8874f 91.5%,#f57245 97.8%,#f47044 100%)"></i><i style="top:291.51px;background:linear-gradient(90deg,#4da7b0 0%,#3387bd 5.8%,#5d4ea0 13.5%,#3b3062 18.2%,#2e2449 21%,#2d2347 22.8%,#362b58 24.5%,#574996 28%,#5e4fa2 28.5%,#3486bc 31.8%,#3a91b9 32.5%,#51abaf 34.5%,#62bea7 39.8%,#75c8a6 46.8%,#8cd1a7 50.2%,#afdfa8 53.2%,#e3f2a4 55.2%,#ffffb8 57%,#feda86 59%,#fdae61 61.5%,#f88d52 65.2%,#f57145 72.2%,#f46e43 74%,#fba25c 74.2%,#fff6ab 74.5%,#d9efa5 74.8%,#d9efa5 75.2%,#feec9c 75.5%,#fca65d 75.8%,#f7854e 76%,#f88c51 79.5%,#fca45c 80.8%,#fdb365 81.2%,#fee18d 82.5%,#fff8ae 83%,#fbfdb5 83.2%,#ecf6ab 83.8%,#eaf6a9 84.2%,#fffeb7 85.2%,#fee18d 86.2%,#fdae61 89%,#f88d52 92.5%,#f57747 98.5%,#f57547 100%)"></i><i style="top:299.18px;background:linear-gradient(90deg,#4ea7b0 0%,#3288bd 5.8%,#5d4ea0 13.5%,#382d5d 18.5%,#2d2348 21%,#2e2349 22.8%,#3a2f60 24.8%,#5a4b9a 28%,#5c52a3 28.5%,#3288bd 31.8%,#50aaaf 34.2%,#60bba8 39%,#70c6a5 47.2%,#84cea6 51%,#aadda8 54.5%,#e4f3a5 56.8%,#fdfeb6 58.2%,#fffdb5 58.5%,#fed985 60.2%,#fdac60 62.8%,#f88d52 66.2%,#f57145 73%,#f46e43 75%,#fca35c 75.2%,#fffdb5 75.5%,#c5e7a6 75.8%,#c5e7a6 76.2%,#fff7ac 76.5%,#fca95f 76.8%,#f7854e 77%,#f88a50 80%,#fb9e5a 81%,#fdae61 81.5%,#fedd89 82.5%,#fdfeb7 83.2%,#e4f3a6 83.8%,#c6e7a6 84.2%,#bce4a7 84.5%,#b9e2a7 84.8%,#c0e5a6 85.2%,#dff1a4 86%,#f9fcb4 86.8%,#fffdb5 87%,#fee490 88%,#fdb163 90.5%,#f99555 93.2%,#f67d4a 98.5%,#f67b49 100%)"></i><i style="top:306.85px;background:linear-gradient(90deg,#4fa8b0 0%,#3386bc 6%,#5d4ea0 13.5%,#362b58 18.8%,#2c2247 21%,#2f254b 22.8%,#3f3368 25%,#5d51a3 28.2%,#3389bd 31.8%,#51abae 34.2%,#60bba8 39.5%,#6ec5a5 48.2%,#82cda6 52.2%,#abdda8 56%,#e5f3a6 58.2%,#ffffb8 59.8%,#fedf8a 61.2%,#fdb163 63.5%,#f99053 66.8%,#f57245 73.5%,#f46e43 76%,#fca45d 76.2%,#fbfdb5 76.5%,#b2e0a7 76.8%,#b2e0a7 77.2%,#fbfdb5 77.5%,#fdaf61 77.8%,#f8874f 78%,#f98e52 80.8%,#fb9f5a 81.5%,#fdb164 82%,#fee491 83%,#fffcb4 83.5%,#f6fbb1 83.8%,#daefa5 84.2%,#b6e1a7 84.8%,#aadda8 85%,#a3daa8 85.8%,#addea8 86.5%,#ddf0a4 87.5%,#ffffb8 88.5%,#fee18d 89.8%,#fdae61 92.2%,#f99455 95%,#f7804c 99.8%,#f7804c 100%)"></i><i style="top:314.52px;background:linear-gradient(90deg,#4fa9af 0%,#3387bc 6%,#5d4ea0 13.5%,#342955 18.8%,#2c2247 20.8%,#2f254c 22.5%,#3f3368 24.8%,#5e50a2 28%,#3387bc 31.5%,#53acae 34.2%,#60bba8 40%,#6cc4a5 49.2%,#7dcba6 53.2%,#a1d9a8 56.8%,#b1dfa8 57.8%,#e2f2a4 59.5%,#fdfeb6 61%,#fffdb5 61.2%,#fedf8a 62.5%,#fdb265 64.5%,#f99254 67.5%,#f57446 74%,#f46e43 77%,#fba25b 77.2%,#ffffb7 77.5%,#b7e1a7 77.8%,#b7e1a7 78.2%,#fafdb4 78.5%,#fdb365 78.8%,#f88950 79%,#f99455 81.5%,#fca85e 82.2%,#fdb365 82.5%,#fee796 83.5%,#fffeb7 84%,#e8f5a8 84.5%,#d9efa5 84.8%,#b5e1a7 85.2%,#a9dca8 85.5%,#9ad6a7 86.2%,#9cd7a7 87%,#aedea8 88%,#e0f1a4 89%,#ffffb8 90%,#fedd88 91.5%,#fdae61 93.8%,#fa9756 96.2%,#f8864f 100%)"></i><i style="top:322.19px;background:linear-gradient(90deg,#50a9af 0%,#3287bd 6%,#5e4fa2 13.2%,#332853 18.8%,#2c2246 20.8%,#31264e 22.5%,#463975 25.2%,#5d50a2 27.8%,#3387bd 31.2%,#51abaf 33.8%,#5bb6aa 37%,#6bc4a5 50.2%,#7bcaa6 54%,#9fd8a7 57.5%,#addea8 58.5%,#e4f3a5 60.5%,#ffffb8 62%,#fedc87 63.5%,#fdb466 65.2%,#fba25b 66.8%,#f88b51 69.8%,#f57145 76.5%,#f46f44 78%,#fba05b 78.2%,#fff8af 78.5%,#bee4a7 78.8%,#bee4a7 79.2%,#fafdb5 79.5%,#fdb668 79.8%,#f88c51 80%,#fa9756 82%,#fca95f 82.8%,#fdc372 83.2%,#fede8a 83.8%,#fdfeb7 84.5%,#e7f4a7 85%,#c5e7a6 85.5%,#a8dca8 86%,#92d3a7 87%,#91d3a7 87.8%,#a3daa8 89%,#b1dfa8 89.5%,#e2f2a4 90.5%,#feffb7 91.5%,#fede89 93%,#fdac60 95.5%,#fa9656 98%,#f98e52 100%)"></i><i style="top:329.86px;background:linear-gradient(90deg,#50a9af 0%,#3387bc 6.2%,#5d4ea0 13.2%,#332853 18.5%,#2c2246 20.2%,#30254d 22%,#42366e 24.5%,#5b4c9c 27%,#5e4fa2 27.2%,#3288bd 30.8%,#52acae 33.2%,#5eb9a9 38.2%,#6ac4a5 50%,#7acaa6 53.8%,#a1d9a8 57.5%,#b0dfa8 58.5%,#e5f3a6 60.5%,#fefeb7 62%,#fff7ad 62.5%,#fedc87 63.8%,#fdb567 65.8%,#fca55d 67.2%,#f88b51 71.2%,#f57446 78%,#f57346 79%,#fba05b 79.2%,#fff4a7 79.5%,#c6e7a6 79.8%,#c6e7a6 80.2%,#fbfdb5 80.5%,#fdb96a 80.8%,#f98f53 81%,#fb9c59 82.8%,#fca95f 83.2%,#fdb466 83.5%,#fee18d 84.2%,#fff8ae 84.8%,#fbfdb5 85%,#e5f3a6 85.5%,#b2e0a8 86.2%,#9fd8a7 86.8%,#8ad0a7 87.8%,#88cfa6 88.8%,#99d6a7 90%,#a9dca8 90.8%,#e3f3a5 92%,#fefeb7 93%,#fedf8a 94.5%,#fdac60 97%,#fa9857 99.2%,#fa9556 100%)"></i><i style="top:337.53px;background:linear-gradient(90deg,#50a9af 0%,#3288bd 6.2%,#5e4fa2 13%,#342955 18%,#2d2247 19.8%,#2e2449 21.2%,#3a2f60 23.2%,#594b9a 26.5%,#5c52a3 27%,#338abc 30.2%,#53adae 32.8%,#5fbaa8 38.8%,#6ac4a5 50%,#79c9a6 53.5%,#9fd8a7 57.2%,#acdda8 58.2%,#e5f3a6 60.5%,#fdfeb6 62%,#fffdb5 62.2%,#fedb87 64%,#fdb567 66.2%,#fca45d 68%,#f88b51 72.5%,#f57748 79.8%,#f57748 80%,#fba05b 80.2%,#feefa1 80.5%,#ceeaa5 80.8%,#ceeaa5 81.2%,#fbfdb6 81.5%,#fdbc6d 81.8%,#f99254 82%,#fba25b 83.5%,#fdb466 84%,#fee490 84.8%,#fffcb3 85.2%,#f7fcb3 85.5%,#e2f2a4 86%,#aedea8 86.8%,#90d2a7 87.8%,#7fcca6 88.8%,#7fcca6 89.8%,#94d4a7 91.2%,#aadda8 92.2%,#e4f3a5 93.5%,#fdfeb7 94.5%,#fff6ab 95%,#fee08b 96%,#fdac60 98.5%,#fb9e59 100%)"></i><i style="top:345.20px;background:linear-gradient(90deg,#50a9af 0%,#3387bc 6.5%,#5d50a3 12.8%,#332852 18%,#2c2246 19.8%,#30264e 21.5%,#443772 24%,#584a97 26%,#5d50a3 26.5%,#3387bc 29.5%,#52abae 32%,#5db8a9 36.5%,#6ac3a5 50%,#7acaa6 53.5%,#a3daa8 57.5%,#b4e1a7 58.5%,#e6f4a6 60.5%,#fffeb7 62.2%,#fedb87 64.2%,#fdb567 66.8%,#fca45d 68.8%,#f88b51 74%,#f67b49 81%,#fba05b 81.2%,#feeb9a 81.5%,#d6eda5 81.8%,#d6eda5 82.2%,#fcfeb6 82.5%,#fdc070 82.8%,#fa9656 83%,#fca85e 84.2%,#fdb264 84.5%,#fee694 85.2%,#ffffb8 85.8%,#dcf0a4 86.5%,#aadda8 87.2%,#82cda6 88.8%,#75c8a6 89.8%,#78c9a6 91%,#8fd2a7 92.5%,#abdda8 93.8%,#e4f3a5 95%,#fcfeb6 96%,#fffdb4 96.2%,#fee18c 97.5%,#fdac60 100%)"></i><i style="top:352.88px;background:linear-gradient(90deg,#50a9af 0%,#3288bd 6.5%,#5a54a4 12.2%,#5e4fa1 12.8%,#342955 17.5%,#2c2247 19.2%,#2e244a 20.8%,#3b3062 22.8%,#574995 25.5%,#5e4fa2 26%,#3288bd 29%,#51aaaf 31.2%,#59b3ab 33.5%,#6ac4a5 50.2%,#7acaa6 53.5%,#a7dca8 57.8%,#c3e6a6 59%,#e2f2a4 60.2%,#ffffb8 62.2%,#fedb87 64.5%,#fdb567 67.2%,#fca45c 69.5%,#f88c51 75%,#f67e4b 82%,#fba15b 82.2%,#fee795 82.5%,#ddf0a4 82.8%,#ddf0a4 83.2%,#fdfeb7 83.5%,#fdc373 83.8%,#fa9b58 84%,#fdaf62 85%,#fed582 85.5%,#fee998 85.8%,#fff7ac 86%,#fbfdb6 86.2%,#e5f3a6 86.8%,#b3e0a7 87.5%,#9fd8a7 88%,#79c9a6 89.5%,#6bc4a5 90.8%,#6fc6a5 92%,#8ad0a7 93.8%,#addea8 95.2%,#e4f3a5 96.5%,#fbfdb6 97.5%,#fffeb6 97.8%,#fedc87 99.2%,#fecb79 100%)"></i><i style="top:360.55px;background:linear-gradient(90deg,#50a9af 0%,#3387bc 6.8%,#5955a5 12%,#5c4d9e 12.8%,#342955 17.2%,#2c2246 19%,#2f244b 20.5%,#3c3064 22.5%,#554792 25%,#5d4ea0 25.5%,#3485bc 28.2%,#378ebb 28.8%,#52abae 30.8%,#5bb6aa 34.5%,#69c3a5 50%,#79caa6 53.2%,#a8dca8 57.8%,#e2f2a4 60.2%,#feffb7 62.2%,#fedb86 64.8%,#fdb567 67.8%,#fca55d 70%,#f88d52 76%,#f7824d 83%,#fba15b 83.2%,#fee38f 83.5%,#e4f3a5 83.8%,#e4f3a5 84.2%,#fbfdb6 84.5%,#fed07d 84.8%,#fca95f 85%,#fdb466 85.5%,#fdbe6f 85.8%,#fed17e 86%,#fff6ab 86.5%,#fcfeb6 86.8%,#e6f4a7 87.2%,#b4e0a7 88%,#9fd8a7 88.5%,#77c9a6 90%,#66c2a5 91.2%,#68c3a5 92.8%,#83cda6 94.5%,#aadca8 96.2%,#e1f2a4 97.5%,#feffb8 98.8%,#fee490 100%)"></i><i style="top:368.22px;background:linear-gradient(90deg,#50a9af 0%,#368dbb 6%,#3386bc 7%,#565aa7 11.5%,#5d4ea0 12.5%,#342955 17%,#2c2246 18.8%,#2f244b 20.2%,#3d3165 22.2%,#544690 24.5%,#5c4d9e 25%,#5857a6 25.5%,#3387bc 27.8%,#50aaaf 30%,#58b2ab 32%,#69c3a5 50%,#7acaa6 53.2%,#a9dca8 57.8%,#e3f2a4 60.2%,#fdfeb7 62.2%,#fffab1 62.8%,#fede89 64.8%,#fdb567 68.2%,#fca55d 70.8%,#f98e52 76.8%,#f7864e 84%,#fba25b 84.2%,#fedf8a 84.5%,#e9f5a9 84.8%,#e9f5a9 85.2%,#fafdb4 85.5%,#fedd89 85.8%,#fdbe6f 86%,#fecf7d 86.5%,#fee08b 86.8%,#fff3a6 87%,#feffb7 87.2%,#dbefa5 88%,#a9dca8 88.8%,#77c9a6 90.5%,#65c1a5 91.5%,#62bda7 93%,#6bc4a5 94.2%,#92d3a7 96.2%,#aadca8 97.2%,#e2f2a4 98.5%,#ffffb8 99.8%,#fffab1 100%)"></i><i style="top:375.89px;background:linear-gradient(90deg,#50a9af 0%,#3b92b9 5.2%,#3387bd 7%,#4e64ac 10.5%,#5e4fa2 12.2%,#362b58 16.5%,#2d2247 18.2%,#2e244a 19.8%,#3b3062 21.8%,#564893 24.2%,#5d50a3 24.8%,#3288bd 27.2%,#51abaf 29.5%,#5ab4ab 32.5%,#69c3a5 50%,#7bcaa6 53.2%,#aadda8 57.8%,#e3f2a5 60.2%,#fffeb7 62.5%,#fedd89 65%,#fdb567 68.8%,#fca35c 71.8%,#f98e52 77.8%,#f88a50 85%,#fba25c 85.2%,#fedc88 85.5%,#edf7ac 85.8%,#edf7ac 86.2%,#f8fcb3 86.5%,#feeb9b 86.8%,#fed683 87%,#fedf8a 87.2%,#ffffb7 87.8%,#e0f1a4 88.5%,#addea8 89.2%,#78c9a6 91%,#64c0a6 92%,#5eb9a9 93.5%,#69c3a5 95.2%,#98d5a7 97.5%,#aadca8 98.2%,#e2f2a4 99.5%,#eff8ad 100%)"></i><i style="top:383.56px;background:linear-gradient(90deg,#50a9af 0%,#3f96b7 4.8%,#3288bd 7%,#4a69ae 10%,#5d50a2 12%,#342955 16.5%,#2d2348 18%,#2f254c 19.5%,#3d3165 21.5%,#564793 23.8%,#5d50a3 24.2%,#3485bb 26.5%,#388eba 27%,#52acae 29%,#5cb7a9 34.2%,#68c3a5 49.8%,#7acaa6 53%,#abdda8 57.8%,#e3f2a5 60.2%,#ffffb8 62.5%,#fedd88 65.2%,#fdb668 69%,#fca65d 71.8%,#f98f53 78%,#f88d52 86%,#fba35c 86.2%,#fed985 86.5%,#f2f9af 86.8%,#f2f9af 87.2%,#f8fcb3 87.5%,#fff8ad 87.8%,#fff0a2 88%,#fffdb5 88.2%,#edf7ac 88.8%,#e4f3a5 89%,#b4e0a7 89.8%,#9fd8a7 90.2%,#6dc5a5 92%,#5fbaa8 93%,#5bb5aa 94.5%,#67c2a5 96.2%,#9ed8a7 98.8%,#aadda8 99.2%,#cceaa6 100%)"></i><i style="top:391.23px;background:linear-gradient(90deg,#51abaf 0%,#3f96b7 4.8%,#3387bc 7%,#4c67ad 10%,#5e4fa2 11.8%,#42366f 14.5%,#322751 16.8%,#30254c 18.2%,#382c5b 20%,#51448b 22.8%,#5d4ea0 23.5%,#3485bc 26%,#388fba 26.5%,#52acae 28.5%,#5db8a9 33.8%,#69c3a5 49.2%,#79c9a6 52.8%,#aadda8 57.8%,#e5f3a6 60.5%,#fffeb7 62.8%,#fedc87 65.5%,#fdb667 69.2%,#fca65d 72%,#f99053 78.5%,#f98e52 87%,#fca75e 87.2%,#fedd89 87.5%,#f3fab0 87.8%,#f6fbb2 88.5%,#fafdb5 88.8%,#eff8ad 89.2%,#ddf0a4 89.8%,#afdfa8 90.5%,#70c6a5 92.5%,#61bca7 93.2%,#57b1ac 94.5%,#5cb7a9 96.2%,#6ac4a5 97.5%,#a4daa8 100%)"></i><i style="top:398.90px;background:linear-gradient(90deg,#52acae 0%,#4098b6 4.5%,#3288bd 6.8%,#4b67ad 9.8%,#5e4fa1 11.5%,#4b3e7f 13.2%,#372c59 15.8%,#322751 17.2%,#372c5a 19%,#4c3f81 21.5%,#574996 22.5%,#5c51a3 23%,#3486bc 25.5%,#3c93b8 26.2%,#52acae 28%,#5db8a9 33.2%,#69c3a5 48.8%,#79c9a6 52.5%,#a7dca8 57.5%,#c4e7a6 59%,#e4f3a5 60.5%,#feffb7 62.8%,#fede89 65.5%,#fdb768 69.2%,#fca85e 72%,#f99154 78.8%,#f98f53 88%,#fdab60 88.2%,#fee38f 88.5%,#f3fab0 88.8%,#f3fab0 89.8%,#dbefa5 90.5%,#b1dfa8 91.2%,#78c9a6 93%,#61bda7 94%,#56b0ad 95.5%,#5db7a9 97.2%,#6bc4a5 98.5%,#8dd1a7 100%)"></i><i style="top:406.57px;background:linear-gradient(90deg,#53adae 0%,#429ab6 4.2%,#3287bd 6.8%,#4b68ae 9.5%,#5d4ea0 11.2%,#4c3f81 12.8%,#392d5d 15.2%,#342955 16.8%,#3a2e5f 18.5%,#504389 21.2%,#5e4fa2 22.2%,#3486bc 25%,#50a9af 27.2%,#58b2ac 29.2%,#63bea7 41%,#6bc4a5 49%,#7ccba6 52.8%,#aadda8 57.8%,#e5f4a6 60.8%,#ffffb7 63%,#fedc88 65.8%,#fdb869 69.2%,#fca95f 72%,#f99354 79.2%,#f99154 89%,#fdb063 89.2%,#fee998 89.5%,#f3fab0 89.8%,#f3f9af 90.5%,#e3f3a5 91%,#a7dba8 92.2%,#66c2a5 94.5%,#57b1ac 96%,#58b3ab 97.5%,#68c3a5 99.2%,#78c9a6 100%)"></i><i style="top:414.25px;background:linear-gradient(90deg,#54aead 0%,#449cb5 4%,#3387bc 6.8%,#4a69ae 9.2%,#5c51a3 10.8%,#4d4083 12.2%,#3b2f61 14.8%,#372c5a 16.2%,#3d3164 18%,#53458d 20.8%,#5c4e9f 21.5%,#5160aa 22.5%,#3386bc 24.5%,#50a9af 26.8%,#58b2ab 28.8%,#63bea6 40%,#6cc4a5 48.5%,#7ccba6 52.5%,#aadda8 57.8%,#e4f3a6 60.8%,#fefeb7 63%,#feeb9b 64.8%,#fedb87 66%,#fdb769 69.5%,#fca95f 72.2%,#f99455 79.8%,#f99254 90%,#fdb668 90.2%,#feefa1 90.5%,#f3fab0 90.8%,#f0f8ae 91.5%,#e6f4a7 91.8%,#d6eda5 92%,#a7dca8 93%,#68c3a5 95.2%,#57b2ac 96.8%,#58b2ac 98.2%,#66c2a5 100%)"></i><i style="top:421.92px;background:linear-gradient(90deg,#55afad 0%,#48a0b3 3.5%,#3386bc 6.8%,#496aaf 9%,#5d50a3 10.5%,#4f4186 11.8%,#3d3165 14.2%,#3a2e5f 16%,#41356c 17.8%,#554791 20.2%,#5d50a2 21%,#3387bc 24%,#50a9af 26.2%,#58b2ab 28.2%,#63bfa6 39.2%,#6dc5a5 48%,#7ccba6 52.2%,#a7dca8 57.5%,#c1e6a6 59%,#e3f3a5 60.8%,#ffffb8 63.2%,#fedd88 66%,#fdb96a 69.5%,#fca95f 72.5%,#fa9555 80.2%,#f99455 91%,#fdbd6d 91.2%,#fff5a9 91.5%,#f3fab0 91.8%,#f3fab0 92.2%,#eff8ad 92.5%,#e3f3a5 92.8%,#ceeaa5 93%,#a9dca8 93.8%,#65c1a6 96.2%,#57b1ac 97.8%,#5ab5ab 99.5%,#5eb9a9 100%)"></i><i style="top:429.59px;background:linear-gradient(90deg,#56b0ad 0%,#429ab6 4%,#3387bd 6.2%,#4e64ac 9%,#5e50a2 10.2%,#504288 11.5%,#40346c 13.8%,#3e3268 15.2%,#463a76 17%,#594b99 19.2%,#5c51a3 19.8%,#3387bd 22.8%,#50a9af 25%,#58b3ab 27%,#64c0a6 38%,#6fc5a5 47.5%,#7fcca6 51.8%,#abdda8 57.2%,#e6f4a6 60.5%,#ffffb8 63%,#fede89 66%,#fdb96a 70%,#fca95f 73.5%,#fa9857 81.5%,#fa9a58 91.8%,#fb9d59 92%,#fec776 92.2%,#fffbb3 92.5%,#f3fab0 92.8%,#f3fab0 93.2%,#e5f4a6 93.8%,#ceeaa5 94%,#a7dba8 94.8%,#66c2a5 97%,#57b1ac 98.5%,#58b3ab 100%)"></i><i style="top:437.26px;background:linear-gradient(90deg,#56b0ad 0%,#3389bd 5.5%,#545ca8 9.2%,#5d50a2 10%,#4a3d7d 12.2%,#443771 13.8%,#483b79 15.2%,#5d50a3 18%,#3485bc 21%,#378ebb 21.5%,#51abae 23.5%,#5cb7aa 27.5%,#6bc4a5 43.8%,#7ccba6 50%,#a2d9a8 55.2%,#aedea8 56.5%,#e5f3a6 59.8%,#ffffb8 62.5%,#fede89 66%,#fdb96a 70.8%,#fcaa5f 74.8%,#fa9c59 83.2%,#fba35c 92.5%,#fca45c 92.8%,#fca95f 93%,#fed481 93.2%,#fcfeb6 93.5%,#f3fab0 93.8%,#f3fab0 94.2%,#e9f5a9 94.8%,#c0e5a6 95.2%,#b0dfa8 95.5%,#76c8a6 97.2%,#63bfa6 98%,#56b0ac 99.5%,#56b0ac 100%)"></i><i style="top:444.93px;background:linear-gradient(90deg,#56b0ad 0%,#3288bd 5%,#5a54a5 9.5%,#5d4ea0 10%,#4b3e7f 12.2%,#4a3d7e 13.5%,#584a97 15.5%,#5d50a3 16.2%,#3288bd 19.5%,#51aaaf 21.8%,#59b4ab 24.2%,#66c2a5 35.8%,#74c8a6 46.2%,#88cfa6 50.8%,#addea8 55.5%,#e5f3a6 59%,#ffffb8 62%,#fedd89 66%,#fdb96a 71.5%,#fcaa5f 76.5%,#fba05b 85.2%,#fdab60 93%,#fdae61 93.8%,#fdb96a 94%,#fedf8a 94.2%,#f8fcb3 94.5%,#f3fab0 95%,#eef7ac 95.5%,#e0f1a4 96%,#c3e6a6 96.2%,#b1dfa8 96.5%,#82cda6 97.8%,#65c1a6 98.8%,#57b1ac 100%)"></i><i style="top:452.60px;background:linear-gradient(90deg,#56b0ad 0%,#3288bd 4.5%,#5956a5 9.2%,#5c4d9f 10%,#504288 11.5%,#504389 12.5%,#5d51a3 14.5%,#3782ba 17.5%,#3387bc 17.8%,#52acae 20.2%,#60bba8 26.2%,#73c7a6 43.8%,#85cea6 49%,#acdda8 54.5%,#e5f3a6 58.2%,#ffffb8 61.5%,#fedd88 66%,#fdba6b 72%,#fdaa5f 78.5%,#fca65d 87.5%,#fdb265 92.8%,#fdbc6d 94.8%,#fec978 95%,#feea99 95.2%,#f4fab1 95.5%,#f2f9af 96.2%,#e7f4a7 97%,#b3e0a7 97.5%,#9cd7a7 98%,#68c3a5 99.5%,#5fbaa8 100%)"></i><i style="top:460.27px;background:linear-gradient(90deg,#56b0ad 0%,#3387bd 4%,#5857a6 9%,#5d4fa1 9.8%,#554791 10.8%,#584996 11.8%,#5e4fa2 12.5%,#496aaf 14.5%,#3389bc 16.2%,#51abae 18.5%,#5db8a9 22.8%,#6ac3a5 34.8%,#79caa6 44.8%,#90d3a7 49.8%,#aedea8 53.8%,#e5f3a6 57.5%,#ffffb8 61%,#fedc88 66%,#fdbb6c 72.2%,#fdac60 81%,#fdac60 89.2%,#fdbd6e 93.5%,#fecb7a 95.8%,#fed885 96%,#fff3a7 96.2%,#f3fab0 96.5%,#f2f9af 97.2%,#e8f5a8 97.8%,#e7f4a8 98%,#dff1a4 98.2%,#b9e2a7 98.5%,#a6dba8 98.8%,#75c8a6 100%)"></i><i style="top:467.94px;background:linear-gradient(90deg,#51abae 0%,#3389bd 3.2%,#555ba8 8.2%,#5e4fa2 9.5%,#535ea9 11.2%,#3386bc 13.8%,#429ab6 15%,#55afad 16.8%,#65c0a6 25.5%,#79c9a6 40.5%,#90d2a7 46.2%,#b0dfa8 51%,#e5f4a6 55.2%,#ffffb8 59.2%,#fedc88 65.2%,#fdbf6f 72.5%,#fdb163 86%,#fdb567 90.5%,#fed27f 96%,#fed784 96.8%,#fee491 97%,#fffab0 97.2%,#f3fab0 97.5%,#f2f9af 98.2%,#e8f5a8 98.8%,#e7f4a8 99%,#ddf0a4 99.2%,#b7e2a7 99.5%,#a6dba8 99.8%,#9bd7a7 100%)"></i><i style="top:475.62px;background:linear-gradient(90deg,#4aa3b2 0%,#3387bc 2.8%,#535da9 7.5%,#4b68ae 9%,#3287bd 11%,#54aead 14%,#64c0a6 21.5%,#7ecba6 36.5%,#9dd8a7 43.8%,#afdea8 46.5%,#e5f3a6 51.5%,#ffffb7 56.5%,#fedd89 64.2%,#fdc675 72.8%,#fdbd6d 90%,#fecb7a 94.2%,#fee18d 97.8%,#feed9e 98%,#fffeb7 98.2%,#f3fab0 98.5%,#f1f9af 99.2%,#e7f4a8 99.8%,#e7f4a8 100%)"></i><i style="top:483.29px;background:linear-gradient(90deg,#439bb5 0%,#3288bd 2%,#486baf 5.8%,#3e78b5 7.2%,#3289bd 8.2%,#53acae 11.2%,#64c0a6 17.8%,#83cda6 32.5%,#addea8 41.8%,#e5f3a6 47.8%,#ffffb7 53.8%,#fede89 64%,#fecd7b 74%,#feca78 92.2%,#fedf8b 97%,#feeb9b 98.8%,#fcfeb6 99.2%,#f3fab0 99.5%,#f3fab0 100%)"></i><i style="top:490.96px;background:linear-gradient(90deg,#3b93b9 0%,#3386bc 1.5%,#3d7ab6 3.5%,#3b7db8 4.5%,#3389bd 5.5%,#52abae 8.5%,#64c0a6 14.5%,#8ad0a7 28.8%,#aedea8 37%,#e5f3a6 43.8%,#ffffb7 51%,#fedf8b 64.2%,#fed582 75.5%,#fed683 94%,#fee490 97%,#fff5aa 99.8%,#fffdb5 100%)"></i><i style="top:498.63px;background:linear-gradient(90deg,#3e95b7 0%,#388fba 2.2%,#4098b6 3.5%,#5cb7aa 7%,#6dc5a5 12.5%,#96d5a7 26.8%,#b0dfa8 33%,#e5f3a6 40.2%,#ffffb8 48.5%,#fee08c 64.5%,#fed985 77.2%,#fedc88 94.8%,#fee693 97%,#fff9af 100%)"></i></div>
<div class="hm" style="left:965.0px;top:66.8px;width:516.6px;height:507.5px"><i style="top:0.00px;background:linear-gradient(90deg,#358bbc 0%,#3485bc 3%,#3b7cb7 12.8%,#3386bc 22.2%,#388fba 26.5%,#4ca5b1 29.2%,#60bca8 32.2%,#74c8a6 35.8%,#61bca7 36.2%,#56b0ad 36.5%,#56b0ad 37%,#5bb6aa 37.2%,#6cc4a5 37.5%,#85cea6 37.8%,#afdea8 49.5%,#e5f3a6 57%,#fffeb7 65.5%,#feed9e 69%,#feda86 71.5%,#fdab60 76.8%,#f26a44 87.5%,#e2524a 91.5%,#e04f4b 92.2%,#f88950 92.5%,#fedf8a 92.8%,#fff2a6 93%,#fff6aa 93.5%,#90d3a7 93.8%,#4ca5b1 94%,#388fba 99.8%,#388fba 100%)"></i><i style="top:7.69px;background:linear-gradient(90deg,#358bbc 0%,#3485bc 3%,#3b7db8 13.2%,#3387bd 22.5%,#3d94b8 27%,#5fbaa8 31.5%,#77c9a6 35.5%,#7fcca6 36.8%,#75c8a6 37%,#63bfa6 37.2%,#56b0ad 37.5%,#56b0ad 38%,#5bb6aa 38.2%,#70c6a5 38.5%,#8dd1a7 38.8%,#b0dfa8 48.5%,#e5f3a6 57%,#fffeb6 67.2%,#feed9d 70.2%,#feda86 72.5%,#fdab60 77.2%,#f26a44 87.5%,#e2514a 91.8%,#df4d4b 93.2%,#f88c51 93.5%,#fee693 93.8%,#fff2a6 94%,#fff2a6 94.2%,#fffcb4 94.5%,#8bd0a7 94.8%,#4ca5b1 95%,#388fba 100%)"></i><i style="top:15.38px;background:linear-gradient(90deg,#358bbc 0%,#3486bc 3%,#3a7db8 13.5%,#3288bd 22.2%,#3c93b8 26.5%,#60bba8 31.2%,#7dcba6 35.8%,#8bd0a7 37.8%,#7fcca6 38%,#66c2a5 38.2%,#56b0ad 38.5%,#56b0ad 39%,#5bb6aa 39.2%,#74c7a6 39.5%,#94d4a7 39.8%,#9bd7a7 40.8%,#b1dfa8 47%,#e4f3a6 56.5%,#fffdb6 69%,#feda86 73.5%,#fcaa5f 77.8%,#f26a44 87.5%,#e2524a 91.8%,#de4b4c 94.2%,#f98f53 94.5%,#feed9d 94.8%,#fff2a6 95%,#fff2a6 95.2%,#fbfdb5 95.5%,#86cea6 95.8%,#4ca5b1 96%,#3c94b8 100%)"></i><i style="top:23.07px;background:linear-gradient(90deg,#358bbc 0%,#3485bc 3.2%,#3a7eb8 14.2%,#348abc 23%,#3d94b8 26.2%,#61bca8 31%,#89d0a7 36.8%,#97d5a7 38.8%,#8ad0a7 39%,#6bc4a5 39.2%,#56b0ad 39.5%,#56b0ad 40%,#5bb6aa 40.2%,#78c9a6 40.5%,#9cd7a7 40.8%,#a2d9a8 41%,#b4e0a7 45.5%,#e4f3a5 55.5%,#f1f9af 64.8%,#fafdb5 69.2%,#fffeb7 70.2%,#fed682 74.8%,#fdab60 78%,#f26a44 87.5%,#e2514a 92%,#de4b4c 95.2%,#f99355 95.5%,#fff2a6 95.8%,#fff2a6 96.2%,#f5fbb1 96.5%,#80cca6 96.8%,#4ca5b1 97%,#4098b6 100%)"></i><i style="top:30.76px;background:linear-gradient(90deg,#358bbc 0%,#3485bc 3.2%,#397eb8 14.8%,#348abc 22.8%,#3e95b8 26%,#62bda7 30.8%,#97d5a7 38%,#a1d9a8 39.8%,#94d4a7 40%,#70c6a5 40.2%,#56b0ad 40.5%,#56b0ad 41%,#5bb6aa 41.2%,#7bcaa6 41.5%,#a3daa8 41.8%,#abdda8 42%,#d3eca5 49.8%,#e6f4a7 55%,#eef7ac 63.5%,#f2f9af 69.2%,#fffeb6 71.5%,#fed884 75.2%,#fdac60 78.2%,#f57446 86%,#ef6545 88.2%,#e1504a 92.2%,#dc494c 96%,#e04e4b 96.2%,#fa9756 96.5%,#fff2a6 96.8%,#fff2a6 97.2%,#eff8ad 97.5%,#7bcaa6 97.8%,#4ca5b1 98%,#449cb5 100%)"></i><i style="top:38.45px;background:linear-gradient(90deg,#358bbc 0%,#3485bc 3.2%,#397fb9 15%,#338abc 22.2%,#3d94b8 25.5%,#63bea7 30.5%,#95d5a7 37%,#abdda8 40.8%,#9dd8a7 41%,#76c8a6 41.2%,#58b2ac 41.5%,#57b2ac 42%,#5cb7aa 42.2%,#7fcca6 42.5%,#aadca8 42.8%,#bce4a7 43%,#d5eda5 48%,#e6f4a7 53.8%,#edf7ab 62.5%,#eaf6aa 69%,#fffeb7 72.5%,#fee592 75%,#fdad61 78.5%,#f67948 85.2%,#f16944 87.8%,#e1504a 92.2%,#dc484c 97%,#e2524a 97.2%,#fa9b58 97.5%,#fff2a6 97.8%,#fff2a6 98.2%,#e9f5a9 98.5%,#76c8a6 98.8%,#4ca5b1 99%,#48a1b3 100%)"></i><i style="top:46.14px;background:linear-gradient(90deg,#358bbc 0%,#3485bc 3.5%,#3980b9 15.8%,#348abc 22%,#3e95b7 25.2%,#66c2a5 30.5%,#8fd2a7 35.2%,#b1dfa8 40.8%,#bbe3a7 41.8%,#a7dba8 42%,#7fcca6 42.2%,#5db8a9 42.5%,#5bb6aa 43%,#5fbaa8 43.2%,#85cea6 43.5%,#b6e1a7 43.8%,#ceeba5 44%,#dff1a4 47.8%,#edf7ac 59.5%,#e9f5a9 64.5%,#e3f2a5 68.8%,#f4fab0 72%,#fffeb7 73.5%,#feeb9b 75.2%,#fed683 76.5%,#fdad61 78.8%,#f67a49 85%,#f16944 87.8%,#e04f4b 92.5%,#db474d 98%,#e45549 98.2%,#fb9f5a 98.5%,#fff2a6 98.8%,#fff2a6 99.2%,#e3f2a4 99.5%,#71c6a5 99.8%,#4ca5b1 100%)"></i><i style="top:53.83px;background:linear-gradient(90deg,#358bbc 0%,#3485bc 3.8%,#3880b9 16.2%,#348abc 21.8%,#3f97b7 25%,#68c3a5 30.2%,#8ed2a7 34.2%,#b0dfa8 40%,#cae9a6 42.8%,#b5e1a7 43%,#88cfa6 43.2%,#62bda7 43.5%,#5fbaa8 44%,#62bda7 44.2%,#8bd0a7 44.5%,#c4e7a6 44.8%,#e0f1a4 45%,#e8f5a8 49%,#ecf6ab 63%,#dbefa4 67%,#dbefa5 69.2%,#e8f5a8 71.5%,#fffeb6 74.5%,#fee997 76%,#feda86 76.8%,#fdae61 79%,#f67c4a 84.8%,#f16944 87.8%,#e04e4b 92.8%,#da464d 99%,#e75948 99.2%,#fba35c 99.5%,#fff2a6 99.8%,#fff2a6 100%)"></i><i style="top:61.52px;background:linear-gradient(90deg,#378ebb 0%,#3486bc 4.5%,#3682ba 16.8%,#348abc 21%,#3f97b7 24.5%,#68c3a5 29.8%,#8fd2a7 33.8%,#b0dfa8 39.2%,#e0f1a4 43.8%,#cdeaa6 44%,#92d3a7 44.2%,#67c3a5 44.5%,#63bfa6 45%,#65c1a6 45.2%,#93d4a7 45.5%,#ddf0a4 45.8%,#f4fab0 46%,#f9fcb4 48.8%,#f1f9af 62.8%,#def1a4 67.8%,#e4f3a5 70.2%,#ffffb7 74.2%,#feefa1 75.5%,#fedc88 76.5%,#fdad61 78.8%,#f67848 84.5%,#f16844 87%,#e04f4b 92%,#da464d 99.5%,#da464d 100%)"></i><i style="top:69.20px;background:linear-gradient(90deg,#3990ba 0%,#3387bc 5.8%,#3485bc 17.5%,#358bbc 20.8%,#3f97b7 24%,#69c3a5 29.2%,#90d2a7 33.2%,#b1dfa8 38.5%,#e5f3a6 43.2%,#eef7ac 44.8%,#e4f3a5 45%,#9cd7a7 45.2%,#70c6a5 45.5%,#68c3a5 45.8%,#68c3a5 46.2%,#9cd7a7 46.5%,#eef7ac 46.8%,#fff6ab 47%,#feefa1 48.8%,#fff6ab 55.2%,#fefeb7 59.8%,#e4f3a5 68%,#ebf6ab 71%,#feffb8 73.8%,#fff3a7 75%,#fed783 76.5%,#fdac60 78.5%,#f57547 84%,#f16844 86%,#e04f4b 91.5%,#da464d 100%)"></i><i style="top:76.89px;background:linear-gradient(90deg,#3c93b9 0%,#3387bd 7.5%,#3287bd 17.8%,#3e96b7 23.2%,#69c3a5 28.8%,#90d3a7 32.8%,#afdfa8 37.5%,#e4f3a5 42%,#f5fab1 45.2%,#f6fbb2 45.8%,#edf7ac 46%,#a4daa8 46.2%,#7acaa6 46.5%,#6ec5a5 46.8%,#6ec5a5 47.2%,#a4daa8 47.5%,#fdfeb6 47.8%,#fee18d 48%,#feda86 50.2%,#fee28e 54.2%,#feffb7 61.8%,#e9f5a9 67.5%,#eef7ac 70.8%,#ffffb7 73.5%,#fff0a2 75%,#fed17f 76.5%,#fdae61 78%,#f57647 83%,#f16844 85%,#e1504a 90.5%,#da464d 100%)"></i><i style="top:84.58px;background:linear-gradient(90deg,#3e95b8 0%,#3288bd 8.8%,#338abc 18%,#4098b7 23%,#69c3a5 28.2%,#91d3a7 32.2%,#b0dfa8 36.8%,#e5f3a6 41%,#f5fab1 44%,#fafdb5 46.8%,#f4fab0 47%,#aedea8 47.2%,#86cfa6 47.5%,#78c9a6 47.8%,#78c9a6 48.2%,#b2e0a8 48.5%,#fff1a3 48.8%,#fecd7b 49%,#fdc575 51%,#fed17f 54.5%,#fee592 57.5%,#fffeb7 62.2%,#edf7ac 67.5%,#f2f9af 70.8%,#ffffb8 73%,#fff0a3 74.8%,#fed17f 76.2%,#fdac60 77.8%,#f57446 82.2%,#f06745 84.2%,#e1504a 90%,#da464d 100%)"></i><i style="top:92.27px;background:linear-gradient(90deg,#4098b6 0%,#348abc 8.5%,#358bbc 18%,#429ab6 22.8%,#6ac4a5 27.8%,#94d4a7 32%,#b1dfa8 36%,#e4f3a5 39.8%,#f4fab1 42.5%,#fdfeb7 47.8%,#fafdb4 48%,#c4e6a6 48.2%,#9ad6a7 48.5%,#8ad0a7 48.8%,#8ad0a7 49.2%,#cfeba5 49.5%,#fedf8a 49.8%,#fdba6b 50%,#fdb265 52%,#fdbf6f 55.5%,#fee592 62.2%,#fffbb3 66.8%,#fffeb7 69.2%,#fff3a7 72%,#fedb87 75%,#fdb668 76.8%,#fca45c 77.8%,#f57145 82.2%,#e35449 88.2%,#db464d 97.8%,#da464d 100%)"></i><i style="top:99.96px;background:linear-gradient(90deg,#429ab5 0%,#358cbb 8.2%,#368cbb 17.8%,#429ab6 22.2%,#6ac4a5 27.2%,#97d5a7 31.8%,#afdfa8 35%,#e5f3a6 38.8%,#f4fab0 41%,#fffeb6 48.2%,#fffeb7 49%,#daefa5 49.2%,#afdfa8 49.5%,#9bd7a7 49.8%,#9bd7a7 50.2%,#e8f5a8 50.5%,#fecf7d 50.8%,#fcaa5f 51%,#fca55d 53.5%,#fdb264 58%,#fee592 67.8%,#fee693 70%,#fed380 73.8%,#fdc473 75.2%,#fca95f 76.8%,#f57446 81.8%,#ef6645 84%,#e04f4b 89.8%,#da464d 100%)"></i><i style="top:107.65px;background:linear-gradient(90deg,#459db4 0%,#378ebb 7.8%,#378ebb 17.5%,#449cb5 22%,#6bc4a5 26.8%,#98d5a7 31.2%,#b0dfa8 34.2%,#e4f3a5 37.5%,#f3fab0 39.5%,#fffeb6 47%,#fff7ad 50%,#eaf6aa 50.2%,#d5eda5 50.5%,#aedea8 50.8%,#aedea8 51.2%,#f9fcb4 51.5%,#fdbf6f 51.8%,#fb9e5a 52%,#fa9957 54.5%,#fdae61 62.8%,#fece7c 68.2%,#fecd7b 71%,#fdb768 74.8%,#fba05b 76.8%,#f47044 82%,#e2524a 88.5%,#da464d 99.2%,#da464d 100%)"></i><i style="top:115.34px;background:linear-gradient(90deg,#479fb3 0%,#398fba 7.5%,#388fba 17.2%,#449cb5 21.5%,#6bc4a5 26.2%,#9bd7a7 31%,#b1dfa8 33.5%,#def0a4 36%,#f1f9af 37.8%,#ffffb8 45.2%,#fff3a6 51%,#f6fbb2 51.2%,#f1f9af 51.5%,#d1eba5 51.8%,#d1eba5 52.2%,#fff3a6 52.5%,#fdae61 52.8%,#f99254 53%,#f88c51 55.5%,#fb9d59 63.2%,#fdb668 68.2%,#fdb96a 70.8%,#fba05a 75.8%,#f46d43 82.2%,#e1504a 89%,#da464d 100%)"></i><i style="top:123.03px;background:linear-gradient(90deg,#49a2b2 0%,#3a91b9 7.2%,#3990ba 17%,#469fb4 21.2%,#6bc4a5 25.8%,#a0d9a8 31%,#aedea8 32.5%,#d9efa5 34.8%,#eaf6aa 35.8%,#f4fab1 37.2%,#fffeb7 44.2%,#fff2a6 49.8%,#fff2a6 52%,#fdfeb7 52.2%,#fff9af 52.5%,#e8f5a8 52.8%,#e8f5a8 53.2%,#fee390 53.5%,#fca45c 53.8%,#f7864e 54%,#f7804c 56.5%,#f88a50 63.5%,#fca65d 69.5%,#fba25c 72.8%,#f88950 77.8%,#f26a44 82.8%,#e04f4b 89.2%,#da464d 100%)"></i><i style="top:130.72px;background:linear-gradient(90deg,#4ba4b1 0%,#3c94b8 7.2%,#3b93b9 16.8%,#49a1b3 21%,#6bc4a5 25.2%,#a4daa8 31%,#b2e0a7 32.2%,#daefa5 34.2%,#eef7ac 35.5%,#f9fcb4 37.8%,#fffeb6 42.2%,#fff1a4 50%,#fff3a6 53%,#fffeb7 53.2%,#feed9e 53.5%,#ecf7ab 53.8%,#ecf7ab 54.2%,#fee593 54.5%,#fca55d 54.8%,#f7824d 55%,#f67c4a 57.5%,#f7834d 64%,#fb9f5a 70%,#fa9957 73.5%,#f57547 81%,#f06745 84%,#e1504a 90%,#dc484c 100%)"></i><i style="top:138.41px;background:linear-gradient(90deg,#4da7b0 0%,#3f96b7 7.2%,#3e95b7 16.5%,#4ba4b1 20.8%,#6bc4a5 24.8%,#b0dfa8 31.8%,#dbefa4 34%,#f1f9af 35.5%,#ffffb7 39.2%,#fff0a2 50%,#fff4a7 54%,#fffcb4 54.2%,#fee18c 54.5%,#f0f8ae 54.8%,#f0f8ae 55.2%,#feeb9b 55.5%,#fca95f 55.8%,#f7814c 56%,#f67b4a 58.5%,#f7814c 64.8%,#fa9957 70.2%,#f99254 74.2%,#f16944 84.2%,#e2524a 90.8%,#dd4b4c 100%)"></i><i style="top:146.10px;background:linear-gradient(90deg,#4fa9af 0%,#4199b6 7%,#4098b6 16.2%,#4ea7b0 20.5%,#6bc4a5 24.2%,#addea8 31.2%,#ddf0a4 33.8%,#f5fab1 35.5%,#fffeb6 38.2%,#fff3a6 43.5%,#feefa1 52.5%,#fff4a9 55%,#fffab1 55.2%,#fed581 55.5%,#f4fab0 55.8%,#f4fab0 56.2%,#fff1a4 56.5%,#fdad61 56.8%,#f7814c 57%,#f67a49 59%,#f7804c 65.5%,#f99355 70.8%,#f7864e 77.2%,#f26944 85%,#e35449 91.8%,#df4d4b 100%)"></i><i style="top:153.79px;background:linear-gradient(90deg,#52abae 0%,#439bb5 7%,#439bb5 16%,#50aaaf 20.2%,#6dc5a5 24%,#afdfa8 31%,#e4f3a5 33.8%,#f8fcb3 35.5%,#fffeb7 37.2%,#fff0a3 41.8%,#feee9f 53.2%,#fff5aa 56%,#fff9af 56.2%,#fec977 56.5%,#f8fcb3 56.8%,#f8fcb3 57.2%,#fff6ac 57.5%,#fdb365 57.8%,#f7854e 58%,#f67d4a 58.2%,#f67a49 62.5%,#f67f4b 66.5%,#f98e52 71.2%,#f57547 82.2%,#f06745 86.5%,#e45549 93%,#e1504a 100%)"></i><i style="top:161.48px;background:linear-gradient(90deg,#54adae 0%,#469eb4 7%,#459eb4 15.8%,#53adae 20%,#6dc5a5 23.5%,#acdea8 30.5%,#e5f3a6 33.5%,#fafdb5 35.5%,#fffdb6 36.8%,#feed9d 41.2%,#feea9a 47.8%,#feed9e 54.5%,#fff8ae 57.2%,#fffeb6 57.5%,#fcfeb6 58.2%,#fffcb3 58.5%,#fdb96a 58.8%,#f88a50 59%,#f67c4a 59.2%,#f67848 65.2%,#f8884f 72%,#f46f44 84.2%,#e65749 93.8%,#e3534a 100%)"></i><i style="top:169.17px;background:linear-gradient(90deg,#56b0ad 0%,#48a0b3 7%,#48a0b3 15.5%,#55afad 19.8%,#6dc5a5 23%,#aedea8 30.2%,#e6f4a6 33.2%,#fcfdb6 35.2%,#fffdb5 36.2%,#feea99 40.8%,#fee693 44.8%,#feec9c 55%,#fff8ae 58.2%,#fffcb3 58.5%,#feefa1 58.8%,#fffeb7 59%,#fffeb7 59.5%,#fdbf6f 59.8%,#f98e52 60%,#f67b49 60.2%,#f57748 66.8%,#f7824d 72.5%,#f36c43 85.8%,#e65948 95.5%,#e55649 100%)"></i><i style="top:176.86px;background:linear-gradient(90deg,#58b2ac 0%,#4aa3b2 7%,#4aa3b2 15.2%,#58b2ac 19.5%,#6fc6a5 22.8%,#b0dfa8 30%,#e3f3a5 32.8%,#fdfeb6 35%,#fffbb2 36%,#fee694 40.5%,#fee18d 44.2%,#feea99 55.2%,#fffab1 59.5%,#fee28f 59.8%,#fffab1 60%,#fffab1 60.5%,#fdc474 60.8%,#f99254 61%,#f67a49 61.2%,#f57547 67.5%,#f67c4a 73.2%,#f26a44 87%,#e75948 98.2%,#e65848 100%)"></i><i style="top:184.55px;background:linear-gradient(90deg,#5ab4ab 0%,#4ca5b1 7%,#4da6b1 15%,#5ab5aa 19.2%,#70c6a5 22.2%,#addea8 29.5%,#e4f3a6 32.5%,#feffb7 34.8%,#fee38f 40.2%,#fedd89 43.8%,#fee390 52.8%,#feec9d 57.2%,#fff9af 60.5%,#fed683 60.8%,#fff6ab 61%,#fff6ab 61.5%,#fec978 61.8%,#fa9756 62%,#f67948 62.2%,#f57346 68.2%,#f57446 74.8%,#f26944 87.2%,#e85b48 100%)"></i><i style="top:192.23px;background:linear-gradient(90deg,#5cb7aa 0%,#4fa8b0 7%,#4fa9af 14.8%,#5cb7a9 19%,#74c7a6 22.2%,#afdea8 29.2%,#e5f3a6 32.2%,#ffffb8 34.5%,#fee28e 39.5%,#feda86 43.5%,#fee28e 53.8%,#feed9d 58.2%,#fffbb2 61.2%,#fff9b0 61.5%,#fecc7a 61.8%,#fff3a7 62%,#fff3a7 62.5%,#fed07d 62.8%,#fa9b58 63%,#f67848 63.2%,#f57245 69.2%,#f26944 87.2%,#ea5e47 100%)"></i><i style="top:199.92px;background:linear-gradient(90deg,#5cb7a9 0%,#50aaaf 7%,#51abaf 14.5%,#5fbba8 19%,#7bcaa6 22.8%,#acdda8 28.8%,#e5f3a6 32%,#feffb7 34.2%,#fee38f 40%,#fedd88 43.8%,#fee390 52.5%,#feefa1 58.8%,#fffdb5 62.5%,#fecb79 62.8%,#fffab0 63%,#fffab0 63.5%,#fede8a 63.8%,#fca55d 64%,#f67e4b 64.2%,#f57547 70.2%,#f26b44 88.5%,#ed6246 100%)"></i><i style="top:207.61px;background:linear-gradient(90deg,#5db8a9 0%,#52abae 7.2%,#54aead 14.5%,#61bca7 18.8%,#9fd8a7 27%,#b1dfa8 28.8%,#e5f3a6 31.8%,#fbfdb6 33.8%,#fffdb5 34.8%,#fee694 39.8%,#fee08b 43.8%,#fee897 54%,#fff4a9 60.2%,#fefeb7 63.5%,#feca78 63.8%,#fefeb7 64%,#fefeb7 64.5%,#feee9f 64.8%,#fdb063 65%,#f8874f 65.2%,#f7814c 65.8%,#f67848 72.2%,#f06844 95.8%,#ef6545 100%)"></i><i style="top:215.30px;background:linear-gradient(90deg,#5eb9a9 0%,#53adae 7.5%,#56b0ad 14.2%,#63bfa6 18.8%,#aedea8 28.2%,#e5f3a6 31.5%,#fafdb5 33.5%,#fffdb5 34.8%,#fee998 39.8%,#fee390 44%,#feec9d 55%,#fff9af 61.5%,#feffb7 63.8%,#f7fcb3 65.5%,#fffdb5 65.8%,#fdc070 66%,#f99254 66.2%,#f8874f 66.5%,#f67c4a 73%,#f16944 99.2%,#f16944 100%)"></i><i style="top:222.99px;background:linear-gradient(90deg,#5fbaa8 0%,#55afad 7.8%,#58b3ab 14.2%,#66c2a5 18.8%,#afdfa8 28%,#e5f3a6 31.2%,#f9fcb4 33.2%,#fffeb6 34.8%,#feeb9b 40%,#fee795 44.8%,#fff2a5 57%,#feffb7 64%,#f9fcb4 65.5%,#f5fbb1 65.8%,#fbfdb5 66%,#f1f9af 66.2%,#f2f9af 66.8%,#fecf7c 67%,#fb9c59 67.2%,#f88d52 67.5%,#f67f4b 74.2%,#f46d43 100%)"></i><i style="top:230.68px;background:linear-gradient(90deg,#60bba8 0%,#57b1ac 8.2%,#5bb6aa 14.5%,#68c3a5 18.5%,#addea8 27.5%,#e5f3a6 31%,#f8fcb3 33%,#fffeb7 34.8%,#feed9e 40.2%,#feea9a 45.8%,#fff9af 60%,#fefeb7 64%,#f8fcb3 66.5%,#f2f9af 66.8%,#fdfeb6 67%,#ebf6aa 67.2%,#ebf6aa 67.8%,#fede89 68%,#fca65d 68.2%,#f99254 68.5%,#f7814c 75.8%,#f47044 100%)"></i><i style="top:238.37px;background:linear-gradient(90deg,#60bca8 0%,#59b3ab 8.5%,#5eb9a9 14.8%,#6ac4a5 18.2%,#aedea8 27.2%,#e5f3a6 30.8%,#f7fbb2 32.8%,#fffeb7 35%,#fff0a2 40.5%,#feeea0 47%,#fefeb7 63.5%,#f6fbb2 67.5%,#eff8ad 67.8%,#fefeb7 68%,#e5f3a6 68.2%,#e5f3a6 68.8%,#feed9e 69%,#fdb264 69.2%,#fa9756 69.5%,#f7834d 77%,#f57446 99%,#f57446 100%)"></i><i style="top:246.06px;background:linear-gradient(90deg,#61bda7 0%,#5bb5aa 9.2%,#63bea7 16%,#75c8a6 19.2%,#afdfa8 27%,#e5f3a6 30.5%,#f5fbb1 32.5%,#fffeb7 35.5%,#fff2a5 41.2%,#fff4a7 50%,#fefeb7 62.2%,#f5fab1 68.5%,#edf7ac 68.8%,#feffb8 69%,#dcf0a4 69.2%,#dcf0a4 69.8%,#fffcb4 70%,#fdc171 70.2%,#fb9c59 70.5%,#f7864e 78%,#f57748 98%,#f57748 100%)"></i><i style="top:253.75px;background:linear-gradient(90deg,#62bea7 0%,#5cb7a9 10%,#67c2a5 16.5%,#acdea8 26.5%,#e3f3a5 30.2%,#f3fab0 32.2%,#fffeb6 36.5%,#fff4a8 42.8%,#fffab1 56%,#fdfeb7 63.8%,#f8fcb3 69.5%,#eef7ac 69.8%,#fdfeb7 70%,#cdeaa6 70.2%,#cdeaa6 70.8%,#f1f9ae 71%,#fed17e 71.2%,#fba15b 71.5%,#f88b51 79%,#f67c4a 96.8%,#f67b4a 100%)"></i><i style="top:261.44px;background:linear-gradient(90deg,#63bfa6 0%,#5eb9a9 10.5%,#69c3a5 16.2%,#addea8 26.2%,#e3f3a5 30.2%,#f2f9af 32.5%,#fffeb7 38%,#fff8ad 44.8%,#fffdb5 70.5%,#f2f9af 70.8%,#f6fbb2 71%,#b8e2a7 71.2%,#b8e2a7 71.8%,#e3f2a4 72%,#fedc88 72.2%,#fca45d 72.5%,#f98f52 83.5%,#f7804c 98.8%,#f7804c 100%)"></i><i style="top:269.13px;background:linear-gradient(90deg,#64c0a6 0%,#60bca8 10.8%,#69c3a5 15.8%,#acdea8 26%,#e5f3a6 30.5%,#f2f9af 33%,#fffeb7 40.5%,#fffab1 52.2%,#fff7ac 68%,#fff4a8 71.5%,#f6fbb2 71.8%,#eef7ac 72%,#a7dca8 72.2%,#a7dca8 72.8%,#cdeaa5 73%,#fee795 73.2%,#fca85e 73.5%,#f7854e 100%)"></i><i style="top:276.82px;background:linear-gradient(90deg,#65c1a5 0%,#62bea7 11.2%,#6bc4a5 15.5%,#acdea8 25.8%,#e5f3a6 30.5%,#f1f9ae 33.5%,#ffffb8 45.5%,#fff5a9 66.2%,#feeb9a 72.5%,#fbfdb5 72.8%,#e6f4a7 73%,#9dd7a7 73.2%,#9dd7a7 73.8%,#b8e2a7 74%,#fff2a5 74.2%,#fdad61 74.5%,#f99254 95.8%,#f88950 100%)"></i><i style="top:284.51px;background:linear-gradient(90deg,#66c2a5 0%,#65c0a6 11.5%,#70c6a5 15.8%,#afdfa8 25.8%,#e4f3a5 30.5%,#f0f8ad 33.8%,#fffeb7 52.2%,#fff3a7 66%,#fee18d 73.5%,#fffdb6 73.8%,#dbefa4 74%,#93d3a7 74.2%,#93d3a7 74.8%,#a6dba8 75%,#fffdb5 75.2%,#fdb466 75.5%,#fdaf62 76%,#fcaa5f 88.2%,#f98f53 99.8%,#f98e52 100%)"></i><i style="top:292.20px;background:linear-gradient(90deg,#68c3a5 0%,#67c2a5 11.5%,#74c8a6 16%,#afdea8 25.5%,#e3f3a5 30.5%,#eef7ac 34%,#fffeb6 56.2%,#fff0a2 67%,#fed885 74.5%,#fff7ad 74.8%,#ceeaa5 75%,#88cfa6 75.2%,#88cfa6 75.8%,#9bd7a7 76%,#f6fbb2 76.2%,#fdbd6d 76.5%,#fdb668 76.8%,#fdbb6c 85.5%,#fca35c 95.5%,#f99354 100%)"></i><i style="top:299.89px;background:linear-gradient(90deg,#69c3a5 0%,#68c3a5 10.8%,#75c8a6 15.5%,#aedea8 25.2%,#e1f2a4 30.2%,#ecf6ab 33.5%,#fffeb6 58.5%,#feed9d 68%,#fed783 73.8%,#fed07d 75.5%,#fff0a3 75.8%,#c2e6a6 76%,#7ecba6 76.2%,#7ecba6 76.8%,#90d2a7 77%,#ebf6aa 77.2%,#fdc575 77.5%,#fdbc6d 77.8%,#fec978 85%,#fdbd6e 91.2%,#fca65d 97%,#fa9757 100%)"></i><i style="top:307.58px;background:linear-gradient(90deg,#6bc4a5 0%,#6bc4a5 11%,#78c9a6 15.5%,#aedea8 25%,#dcf0a4 29.8%,#e8f5a8 32.2%,#fbfdb5 56.5%,#fffeb6 60.2%,#fee998 69%,#fed380 74%,#fdc776 76.5%,#fee998 76.8%,#b5e1a7 77%,#74c7a6 77.2%,#74c7a6 77.8%,#84cea6 78%,#def1a4 78.2%,#fece7c 78.5%,#fdc373 78.8%,#fece7c 82.5%,#fed683 85.8%,#fecb79 91.5%,#fca65e 98.2%,#fa9c59 100%)"></i><i style="top:315.27px;background:linear-gradient(90deg,#6cc4a5 0%,#6fc5a5 11.2%,#7ccba6 15.8%,#addea8 24.8%,#d7eea5 29.2%,#e6f4a7 31.8%,#f6fbb2 55.8%,#fffeb6 61.5%,#fee694 70%,#fdbe6e 77.5%,#fee08b 77.8%,#b2e0a8 78%,#71c6a5 78.2%,#71c6a5 78.8%,#7fcca6 79%,#d3eca5 79.2%,#fed783 79.5%,#fec978 79.8%,#fed481 82.8%,#fee390 86.2%,#feda86 91.5%,#fdbe6f 96.2%,#fca85e 99%,#fba15b 100%)"></i><i style="top:322.95px;background:linear-gradient(90deg,#6ec5a5 0%,#72c7a6 11.5%,#80cca6 16%,#abdda8 24.2%,#cdeaa6 27.8%,#e3f2a5 32.8%,#f0f8ae 55%,#fffeb7 62.8%,#fee38f 71%,#fdba6b 78.5%,#feda86 78.8%,#c0e5a6 79%,#6fc5a5 79.2%,#6fc5a5 79.8%,#7bcaa6 80%,#c8e8a6 80.2%,#fedf8a 80.5%,#fed07d 80.8%,#feda86 83.5%,#feee9f 87%,#fee998 90.8%,#fed27f 95.2%,#fca95f 99.8%,#fca75e 100%)"></i><i style="top:330.64px;background:linear-gradient(90deg,#6fc6a5 0%,#74c8a6 11.8%,#85cea6 16.5%,#aadda8 23.8%,#cdeaa6 27%,#d4eda5 30%,#e6f4a7 52.5%,#fffeb6 64%,#fed683 74.5%,#fdbe6e 79.5%,#fedc87 79.8%,#bfe4a7 80%,#6ec5a5 80.2%,#6dc5a5 80.8%,#77c9a6 81%,#bee4a7 81.2%,#fee795 81.5%,#fed682 81.8%,#fedf8a 84.2%,#fff2a6 87.5%,#fff1a3 90.8%,#fee38f 94.2%,#fdc272 98.5%,#fdb164 100%)"></i><i style="top:338.33px;background:linear-gradient(90deg,#70c6a5 0%,#77c9a6 11.8%,#87cfa6 16.5%,#acdea8 23.8%,#d0eba5 27%,#d6eda5 29%,#c9e8a6 38.5%,#d7eea5 49.5%,#e7f4a7 56.5%,#ffffb7 64.8%,#fedb87 74.5%,#fdc272 80.5%,#fedd89 80.8%,#bde4a7 81%,#6ec5a5 81.2%,#6bc4a5 81.8%,#73c7a6 82%,#b4e0a7 82.2%,#feefa1 82.5%,#fedb87 82.8%,#fee18d 84.8%,#fff8ad 88.2%,#fff7ac 91.2%,#feea9a 94.8%,#fec978 99%,#fdbf6f 100%)"></i><i style="top:346.02px;background:linear-gradient(90deg,#71c6a5 0%,#7acaa6 12%,#8ed2a7 17.5%,#afdea8 23.8%,#d4eda5 27.2%,#d9efa5 29.2%,#c8e8a6 34.8%,#bae3a7 39.5%,#c4e6a6 47.5%,#ddf0a4 56%,#f4fab1 62.5%,#fffeb6 65.8%,#fedd88 75%,#fdc675 81.5%,#fedf8a 81.8%,#bce3a7 82%,#6ec5a5 82.2%,#69c3a5 82.5%,#69c3a5 82.8%,#70c6a5 83%,#aadda8 83.2%,#fff7ac 83.5%,#fee18d 83.8%,#fee694 85.5%,#fffdb6 89.2%,#fffbb3 92.5%,#feed9e 96%,#fecc7a 100%)"></i><i style="top:353.71px;background:linear-gradient(90deg,#73c7a6 0%,#7ccba6 12.2%,#98d5a7 19%,#afdfa8 23.5%,#d8eea5 27.5%,#ddf0a4 29.5%,#ceeaa5 33.8%,#aedea8 40%,#aedea8 44.5%,#cae9a6 54.5%,#e5f3a6 59.8%,#fffeb7 66.2%,#fedd88 76%,#feca79 82.5%,#fee18c 82.8%,#bae3a7 83%,#6dc5a5 83.2%,#67c2a5 83.5%,#6cc4a5 84%,#a5dba8 84.2%,#ffffb8 84.5%,#fee896 84.8%,#feec9c 86.5%,#ffffb8 89.2%,#fbfdb5 91.8%,#fffeb6 94.5%,#feec9d 97.8%,#fed985 100%)"></i><i style="top:361.40px;background:linear-gradient(90deg,#74c7a6 0%,#80cca6 12.8%,#addea8 22.8%,#ddf0a4 28%,#e0f1a4 30.2%,#cdeaa6 34.5%,#a9dca8 40.2%,#a5daa8 45.5%,#afdfa8 51.2%,#cceaa6 57.2%,#e5f4a6 61%,#ffffb7 66.8%,#fede89 76.8%,#fece7c 83.5%,#fee38f 83.8%,#b8e2a7 84%,#6dc5a5 84.2%,#65c1a5 84.5%,#68c3a5 85%,#a1d9a8 85.2%,#f8fcb3 85.5%,#feee9f 85.8%,#fff2a5 87.5%,#feffb7 89.5%,#f5fbb1 91.8%,#fffeb7 96.5%,#fee897 99.8%,#fee693 100%)"></i><i style="top:369.09px;background:linear-gradient(90deg,#75c8a6 0%,#83cda6 13%,#aedea8 22.2%,#e1f2a4 28.2%,#e1f1a4 31.5%,#c4e7a6 36.2%,#a8dca8 40.2%,#9dd7a7 45.8%,#a8dca8 52.8%,#bce3a7 56.8%,#e6f4a6 62%,#ffffb8 67.2%,#fedf8a 77.5%,#fed27f 84.5%,#fee592 84.8%,#b7e1a7 85%,#6cc5a5 85.2%,#64c0a6 85.5%,#65c1a5 86%,#9cd7a7 86.2%,#f1f9ae 86.5%,#fff4a8 86.8%,#fff8ae 88.5%,#ffffb8 89.5%,#f0f8ae 92.2%,#f8fcb3 96.8%,#ffffb8 98.2%,#fff2a6 100%)"></i><i style="top:376.78px;background:linear-gradient(90deg,#76c8a6 0%,#86cfa6 13.2%,#aedea8 21.8%,#e2f2a4 28%,#e4f3a6 31.2%,#d6eda5 34.5%,#a8dca8 40.5%,#96d5a7 46.8%,#9bd7a7 51.5%,#b0dfa8 57%,#e5f3a6 62.8%,#fffeb7 68%,#fee08b 78.5%,#fed683 85.5%,#fee795 85.8%,#b5e1a7 86%,#6cc4a5 86.2%,#63bfa6 86.5%,#63bfa6 87%,#97d5a7 87.2%,#eaf5a9 87.5%,#fffab1 87.8%,#fdfeb6 90%,#ecf6ab 93%,#f2f9af 97.5%,#ffffb7 100%)"></i><i style="top:384.47px;background:linear-gradient(90deg,#78c9a6 0%,#88cfa6 13.2%,#aedea8 21.2%,#e1f2a4 27.2%,#e6f4a7 30.2%,#dcf0a4 33.5%,#a7dca8 40.5%,#91d3a7 47.2%,#92d3a7 51.5%,#addea8 58.2%,#e5f3a6 63.5%,#ffffb8 68.5%,#fee18c 79.2%,#fed885 86.5%,#fee795 86.8%,#b5e1a7 87%,#6bc4a5 87.2%,#62bda7 87.5%,#62bda7 88%,#92d3a7 88.2%,#e0f1a4 88.5%,#fbfdb5 88.8%,#f3fab0 91%,#e3f3a5 94%,#ebf6aa 98.5%,#f3fab0 100%)"></i><i style="top:392.16px;background:linear-gradient(90deg,#79caa6 0%,#85cea6 12.2%,#addea8 20.5%,#e1f2a4 26.5%,#e1f1a4 29.8%,#c8e8a6 34%,#a8dca8 38.2%,#8ed2a7 45.5%,#8ed2a7 50.5%,#addea8 59.5%,#e4f3a5 64.5%,#ffffb8 69.2%,#fedf8a 79.5%,#fed481 87.5%,#fee998 87.8%,#afdea8 88%,#66c2a5 88.2%,#62bea7 88.8%,#63bfa6 89%,#90d2a7 89.2%,#d0eba5 89.5%,#eaf6aa 89.8%,#def1a4 92%,#c9e9a6 94.2%,#cdeaa6 97.2%,#e0f1a4 100%)"></i><i style="top:399.85px;background:linear-gradient(90deg,#7bcaa6 0%,#82cda6 11.2%,#a4daa8 18.2%,#b4e0a7 20.5%,#ddf0a4 25%,#dcf0a4 27.8%,#c6e7a6 32%,#a8dca8 36%,#8bd0a7 44%,#8ad0a7 49.2%,#a4daa8 58.5%,#afdfa8 61%,#e4f3a6 65.8%,#ffffb8 70.2%,#fede8a 79.5%,#fed07e 87.8%,#fed07e 88.5%,#feec9d 88.8%,#a9dca8 89%,#64c0a6 89.2%,#63bea7 89.8%,#66c2a5 90%,#8ed2a7 90.2%,#c0e5a6 90.5%,#d3eca5 90.8%,#aedea8 94.8%,#afdfa8 97.2%,#c2e6a6 100%)"></i><i style="top:407.54px;background:linear-gradient(90deg,#7dcba6 0%,#80cca6 10.5%,#90d3a7 14%,#afdfa8 19.2%,#d6eda5 23%,#d9efa5 25%,#c9e9a6 29%,#a7dba8 34%,#88cfa6 42.5%,#86cfa6 48.2%,#9dd7a7 57.5%,#b0dfa8 62.2%,#e5f3a6 67%,#ffffb7 71.2%,#fede89 79.8%,#fecd7b 88%,#fecc7a 89.5%,#fff0a3 89.8%,#84cea6 90%,#63bfa6 90.2%,#63bfa6 90.8%,#69c3a5 91%,#acdda8 91.5%,#b6e1a7 91.8%,#a3daa8 94.2%,#9ed8a7 96.8%,#a7dba8 100%)"></i><i style="top:415.23px;background:linear-gradient(90deg,#7fcca6 0%,#7ecca6 10%,#8dd1a7 13%,#aedea8 18.2%,#d0eba5 21.2%,#d4eda5 23.2%,#c4e7a6 27.2%,#a7dba8 31.8%,#85cea6 40.8%,#82cda6 46.5%,#94d4a7 55.8%,#aedea8 63.2%,#d5eda5 66.8%,#e6f4a7 68.2%,#ffffb8 72%,#fede89 80%,#fec978 88.5%,#fec776 90.5%,#fff4a9 90.8%,#7ccba6 91%,#64bfa6 91.2%,#64bfa6 91.8%,#6bc4a5 92%,#a0d9a8 92.5%,#8fd2a7 96.8%,#97d5a7 100%)"></i><i style="top:422.92px;background:linear-gradient(90deg,#80cca6 0%,#7dcba6 9.2%,#85cea6 11.2%,#afdea8 17.2%,#cceaa6 19.8%,#ceeaa5 22%,#bbe3a7 26.2%,#a6dba8 29.8%,#81cda6 39.5%,#7ecca6 45.5%,#90d2a7 55.2%,#afdfa8 64.5%,#cfeba5 67.5%,#e5f3a6 69.2%,#ffffb8 73%,#fede89 80.2%,#fdc675 88.8%,#fdc373 91.5%,#fff9af 91.8%,#75c8a6 92%,#64c0a6 92.2%,#64c0a6 92.8%,#6cc4a5 93%,#93d4a7 93.5%,#81cda6 97%,#87cfa6 100%)"></i><i style="top:430.61px;background:linear-gradient(90deg,#82cda6 0%,#7ecba6 8.8%,#8ad0a7 11%,#addea8 16%,#cae9a6 18.5%,#cceaa6 20.8%,#b9e2a7 25%,#a6dba8 28.2%,#81cca6 38.2%,#7dcba6 44.2%,#8ed2a7 54.2%,#afdea8 64.2%,#c9e8a6 67%,#e5f3a6 69.2%,#ffffb8 73%,#fede89 80.8%,#fec776 89.2%,#fdc574 92.5%,#fcfeb6 92.8%,#73c7a6 93%,#65c1a6 93.2%,#65c1a6 93.8%,#6dc5a5 94%,#8ed2a7 94.5%,#7dcba6 97.8%,#81cda6 100%)"></i><i style="top:438.30px;background:linear-gradient(90deg,#83cda6 0%,#81cca6 8%,#8cd1a7 10.2%,#afdea8 15%,#cbe9a6 17.5%,#cceaa6 19.8%,#b9e2a7 24%,#a6dba8 27.2%,#81cca6 37.2%,#7dcba6 43.2%,#8ed2a7 53.2%,#b0dfa8 63.5%,#cbe9a6 66.5%,#e6f4a7 68.8%,#ffffb8 72.8%,#fede89 81.5%,#fecb79 90.8%,#fec978 93.5%,#f2f9af 93.8%,#71c6a5 94%,#65c1a5 94.2%,#65c1a5 94.8%,#70c6a5 95%,#8dd1a7 95.5%,#7fcca6 98.2%,#81cda6 100%)"></i><i style="top:445.98px;background:linear-gradient(90deg,#84cea6 0%,#84cea6 7.5%,#97d5a7 10.8%,#b1dfa8 14%,#cbe9a6 16.5%,#cbe9a6 19%,#b8e2a7 23.2%,#a5dba8 26.5%,#81cca6 36.2%,#7dcba6 42.2%,#8ed2a7 52.2%,#afdea8 62.5%,#cbe9a6 65.8%,#e6f4a7 68.2%,#ffffb8 72.2%,#fedf8a 82.5%,#fecf7c 92.5%,#fece7c 94.5%,#e8f5a8 94.8%,#70c6a5 95%,#66c2a5 95.2%,#66c2a5 95.8%,#8dd1a7 96.5%,#81cda6 99%,#82cda6 100%)"></i><i style="top:453.67px;background:linear-gradient(90deg,#85cea6 0%,#87cfa6 6.8%,#9ad6a7 10%,#b6e1a7 13.2%,#cceaa6 15.8%,#c9e8a6 19%,#addea8 23.8%,#82cda6 34.8%,#7dcba6 40.5%,#8bd1a7 50.2%,#aedea8 61.5%,#cae9a6 65%,#e5f3a6 67.5%,#ffffb8 72%,#fee08b 83.5%,#fed380 94.8%,#fed380 95.5%,#dcf0a4 95.8%,#6fc5a5 96%,#67c2a5 96.2%,#67c2a5 96.8%,#83cda6 97.2%,#8cd1a7 97.5%,#83cda6 99.5%,#84cea6 100%)"></i><i style="top:461.36px;background:linear-gradient(90deg,#86cea6 0%,#8ad0a7 6.2%,#a2daa8 10%,#cbe9a6 14.5%,#cbe9a6 17.2%,#b5e1a7 21.8%,#a2daa8 25.2%,#80cca6 34.5%,#7dcba6 40.5%,#8fd2a7 50.8%,#afdfa8 60.8%,#cceaa6 64.5%,#e6f4a7 67%,#ffffb8 71.5%,#fee18c 85%,#fed784 96.2%,#fedc87 96.5%,#cdeaa6 96.8%,#6ec5a5 97%,#68c3a5 97.2%,#68c3a5 97.8%,#85cea6 98.2%,#8cd1a7 98.5%,#85cea6 100%)"></i><i style="top:469.05px;background:linear-gradient(90deg,#89d0a7 0%,#90d2a7 5.8%,#afdfa8 10%,#c8e8a6 13%,#c5e7a6 16.2%,#a2daa8 23.5%,#81cda6 33.2%,#7fcca6 39.8%,#93d4a7 50.2%,#afdea8 58.8%,#cfeba5 63.2%,#e6f4a7 65.8%,#fdfeb7 70.2%,#fffbb1 73%,#fee491 86.2%,#fede89 96.2%,#fede89 97.2%,#fee795 97.5%,#c1e5a6 97.8%,#6fc5a5 98%,#6bc4a5 98.5%,#6bc4a5 98.8%,#87cfa6 99.2%,#8cd1a7 99.5%,#88cfa6 100%)"></i><i style="top:476.74px;background:linear-gradient(90deg,#8ed2a7 0%,#97d5a7 5%,#c1e5a6 11%,#bbe3a7 15%,#a1d9a8 21.5%,#83cda6 31.8%,#82cda6 38.8%,#99d6a7 49.5%,#b0dfa8 56.2%,#d7eea5 62%,#e8f5a8 64.2%,#fdfeb6 69%,#fffcb4 72%,#feea99 87.2%,#fee593 98.2%,#fff3a6 98.5%,#b8e2a7 98.8%,#72c7a6 99%,#6fc5a5 99.8%,#7ccba6 100%)"></i><i style="top:484.43px;background:linear-gradient(90deg,#93d3a7 0%,#a0d9a8 4.5%,#bae3a7 9%,#b2e0a7 13.8%,#86cfa6 29.2%,#84cea6 36.2%,#98d5a7 46.2%,#b0dfa8 53.5%,#dff1a4 60.8%,#fafdb4 66.5%,#fffeb6 71.5%,#feefa1 89.5%,#feed9e 99.2%,#fffdb6 99.5%,#afdfa8 99.8%,#74c8a6 100%)"></i><i style="top:492.12px;background:linear-gradient(90deg,#97d5a7 0%,#b3e0a7 6.5%,#acdda8 11.5%,#86cfa6 29%,#88cfa6 36.5%,#a5dba8 48%,#b4e0a7 51.2%,#e6f4a6 59.8%,#f9fdb4 65.5%,#fffeb6 74.2%,#fff5aa 96.8%,#fff5a9 100%)"></i><i style="top:499.81px;background:linear-gradient(90deg,#9fd8a7 0%,#b0dfa8 4.5%,#a5daa8 13.5%,#8ad0a7 28%,#8dd1a7 36%,#acdda8 48.2%,#e5f3a6 58.5%,#f9fcb4 64.5%,#fffeb6 77.8%,#fff9af 100%)"></i></div>
<div class="hm" style="left:165.0px;top:718.0px;width:518.3px;height:502.8px"><i style="top:0.00px;background:linear-gradient(90deg,#fed884 0%,#fee38f 4%,#feed9d 6.5%,#fee693 7.8%,#fed280 9.8%,#fdb164 15%,#fa9b58 19%,#fb9e59 22.5%,#fdb164 28.5%,#fdba6b 30.8%,#fecd7b 32%,#fee08b 32.8%,#fff9af 33.5%,#fbfdb5 33.8%,#dcf0a4 34.5%,#9dd7a7 35.5%,#83cda6 36.2%,#76c8a6 36.5%,#a9dca8 36.8%,#feefa0 37%,#fdb566 37.2%,#fa9757 37.8%,#fa9957 40%,#fdb265 43%,#fed985 45.5%,#fee896 46.2%,#fffdb5 47.2%,#f2f9af 48%,#def0a4 49%,#aadda8 51%,#78c9a6 55.5%,#63bfa6 58.8%,#449db5 68.8%,#49a2b2 72.2%,#64c0a6 76%,#91d3a7 79%,#b2e0a8 80.8%,#e3f2a5 82.8%,#fefeb7 84.8%,#feed9e 86%,#fedd88 87%,#fdaa5f 89.5%,#f7844e 92%,#f7834d 92.2%,#fba25b 92.5%,#fed581 92.8%,#fedd89 93%,#fedc87 93.2%,#fee08b 93.5%,#62bda7 93.8%,#5d4e9f 94%,#5e4fa2 97.5%,#53458e 99%,#4c3f82 100%)"></i><i style="top:7.62px;background:linear-gradient(90deg,#fed884 0%,#fee28e 4%,#feeb9c 6.5%,#fee38f 8%,#fece7c 10.5%,#fdb164 15%,#fa9a58 19.2%,#fb9d59 22.8%,#fdab60 27.5%,#fdb163 30.2%,#fdc373 31.8%,#fee08b 33%,#ffffb7 34%,#def1a4 35%,#abdda8 36%,#9bd7a7 36.5%,#90d3a7 37%,#73c7a6 37.5%,#a4daa8 37.8%,#fff5aa 38%,#fdb869 38.2%,#fa9555 38.8%,#f99455 40.5%,#fdad61 43.5%,#fed683 46%,#fee694 46.8%,#fffdb5 47.8%,#f6fbb2 48.2%,#dcf0a4 49.5%,#a8dca8 51.5%,#77c9a6 55.8%,#63bea7 58.8%,#429ab6 68.5%,#459eb4 72%,#5bb6aa 75.2%,#6ec5a5 77%,#afdea8 81.2%,#e2f2a4 83.5%,#feffb8 85.8%,#fed985 88.2%,#fdad60 90.5%,#f88a50 93%,#f88850 93.2%,#fca55d 93.5%,#fed17e 93.8%,#fed481 94%,#fed27f 94.2%,#fedf8b 94.5%,#62bea7 94.8%,#5857a6 95%,#5659a7 97.5%,#5c4e9f 99%,#504288 100%)"></i><i style="top:15.24px;background:linear-gradient(90deg,#fed885 0%,#fee38f 4.2%,#feea9a 6.5%,#fee28e 8%,#fecb79 11%,#fca75e 16.5%,#fa9957 20%,#fb9f5a 24%,#fca75e 27.2%,#fdad60 30.2%,#fdbe6f 31.8%,#fedf8a 33.2%,#fdfeb7 34.5%,#e3f2a5 35.5%,#aedea8 36.8%,#9bd7a7 37.5%,#9bd7a7 37.8%,#95d4a7 38%,#70c6a5 38.5%,#9fd8a7 38.8%,#fffcb4 39%,#fdbb6c 39.2%,#fca55d 39.5%,#f99355 39.8%,#f99154 41.2%,#fca75e 43.8%,#fdb769 45%,#fee08b 47%,#fffeb6 48.2%,#e2f2a4 49.8%,#aadda8 51.8%,#79caa6 55.8%,#63bea7 58.8%,#3f97b7 68.5%,#4299b6 71.8%,#54aead 74.8%,#6ec5a5 77.2%,#b1dfa8 82%,#e4f3a5 84.5%,#ffffb8 86.8%,#fed985 89.2%,#fdac60 91.8%,#f88d52 94%,#f88b51 94.2%,#fca55d 94.5%,#fec978 94.8%,#fdc574 95.2%,#fedd89 95.5%,#63bfa6 95.8%,#5160aa 96%,#535ea9 98%,#5c4d9f 99.5%,#564793 100%)"></i><i style="top:22.85px;background:linear-gradient(90deg,#fed985 0%,#fee38f 4.5%,#fee998 6.8%,#fecd7b 10.5%,#fca85e 16.5%,#fa9857 20.2%,#fb9e5a 24.2%,#fca35c 27.2%,#fca85e 30%,#fdb567 31.5%,#fee38f 33.8%,#feffb7 35%,#e2f2a4 36.2%,#aadda8 37.8%,#9bd7a7 38.5%,#9fd8a7 38.8%,#9ad6a7 39%,#6ec5a5 39.5%,#99d6a7 39.8%,#fbfdb5 40%,#fdbe6f 40.2%,#fca55d 40.5%,#f99154 40.8%,#f98e52 42%,#fb9f5a 44%,#fdb365 45.5%,#fedf8a 47.5%,#ffffb8 48.8%,#e0f1a4 50.2%,#abdda8 52%,#79c9a6 56%,#63bea7 58.8%,#3d94b8 68.5%,#3f96b7 71.8%,#52abae 74.8%,#6ec5a5 77.5%,#aedea8 82.5%,#e6f4a6 85.5%,#ffffb8 87.8%,#fedb87 90.2%,#fca85e 93.2%,#f99254 94.8%,#f98e52 95.2%,#fca55d 95.5%,#fdc271 95.8%,#fdbc6c 96.2%,#fee08b 96.5%,#61bda7 96.8%,#4e64ac 97%,#565aa7 98.8%,#5c4d9e 99.8%,#594a99 100%)"></i><i style="top:30.47px;background:linear-gradient(90deg,#fed985 0%,#fee38f 4.5%,#fee897 6.8%,#fecc7a 10.8%,#fca85e 16.5%,#fa9756 20.5%,#fb9d59 24.5%,#fba25c 29.5%,#fdb063 31.5%,#fee491 34.2%,#fffeb6 35.5%,#ddf0a4 37.2%,#a1d9a8 39%,#9ad6a7 39.2%,#9ad6a7 39.5%,#a1d9a8 39.8%,#9ed8a7 40%,#6bc4a5 40.5%,#94d4a7 40.8%,#f5fab1 41%,#fdc272 41.2%,#fca55d 41.5%,#f98f53 41.8%,#f88b51 42.2%,#f98f52 43.5%,#fdaf62 46%,#fedf8a 48%,#fffab1 49%,#fefeb7 49.2%,#ddf0a4 50.8%,#a9dca8 52.5%,#76c8a6 56.5%,#62bda7 59%,#3a91b9 68.5%,#3c93b8 71.8%,#51abaf 75%,#6ec5a5 77.8%,#a9dca8 82.8%,#e4f3a6 86.2%,#ffffb8 88.8%,#fedb87 91.5%,#fdb567 93.8%,#fa9c59 95.2%,#fa9656 96.2%,#fca85e 96.5%,#fdbf6f 96.8%,#fdbc6d 97.2%,#feeea0 97.5%,#5ab4ab 97.8%,#5160aa 98%,#5d4ea0 99.8%,#5a4c9b 100%)"></i><i style="top:38.09px;background:linear-gradient(90deg,#fed985 0%,#fee38f 4.8%,#fee795 6.8%,#fec978 11.2%,#fca85e 16.5%,#fa9756 20.5%,#fa9b58 24.5%,#fb9c59 29%,#fdae61 31.8%,#fee390 34.8%,#ffffb7 36.2%,#e2f2a4 38%,#b5e1a7 39.2%,#a3daa8 39.8%,#95d4a7 40.2%,#98d5a7 40.5%,#a3daa8 40.8%,#a3daa8 41%,#6cc4a5 41.5%,#92d3a7 41.8%,#f1f9ae 42%,#fdc473 42.2%,#fca55d 42.5%,#f98e52 42.8%,#f88850 43%,#f88b51 44.2%,#fdb163 46.8%,#fee08b 48.5%,#fffdb5 49.5%,#f5fbb1 50%,#e0f1a4 51%,#a9dca8 52.8%,#75c8a6 56.8%,#62bda7 59%,#388eba 68.5%,#3990ba 71.8%,#4ea8b0 75%,#6ec5a5 78%,#a0d9a8 82.5%,#b2e0a7 84%,#e5f3a6 87.2%,#feffb7 89.8%,#fed985 93%,#fca95f 95.8%,#fba15b 97%,#fba25b 97.2%,#fdb264 97.5%,#fdc675 97.8%,#fdc675 98.2%,#f8fcb3 98.5%,#4ea7b0 98.8%,#5856a5 99%,#5e4fa1 99.8%,#5b4c9c 100%)"></i><i style="top:45.71px;background:linear-gradient(90deg,#feda86 0%,#fee38f 4.8%,#fee694 6.8%,#fec776 11.5%,#fca75e 16.8%,#fa9556 21%,#fa9756 26.8%,#fa9957 29%,#fdb063 32.2%,#fee18d 35.2%,#ffffb7 37%,#def0a4 39%,#b8e2a7 40%,#abdda8 40.2%,#90d2a7 41.2%,#96d5a7 41.5%,#a6dba8 41.8%,#abdda8 42%,#73c7a6 42.5%,#93d4a7 42.8%,#f2f9af 43%,#fdc373 43.2%,#fca45c 43.5%,#f88c51 43.8%,#f7854e 44%,#f8874f 45%,#fdae61 47.2%,#fee38f 49%,#fffab0 49.8%,#fefeb7 50%,#e1f2a4 51.2%,#a9dca8 53%,#74c7a6 57%,#62bda7 59%,#368dbb 68.2%,#368cbb 71.5%,#479fb3 74.5%,#6dc5a5 78.2%,#99d6a7 82.2%,#afdfa8 84.5%,#e3f3a5 88%,#ffffb8 91%,#fee694 93.5%,#fdb567 96.8%,#fdb062 98%,#fdb365 98.2%,#fed17f 98.8%,#fed380 99.2%,#def1a4 99.5%,#4199b6 99.8%,#5c4d9f 100%)"></i><i style="top:53.33px;background:linear-gradient(90deg,#feda86 0%,#fee38f 5%,#fee693 6.8%,#fdc373 12.2%,#fca85e 16.8%,#f99555 21%,#f99254 27.2%,#fa9756 29.5%,#fdad61 32.5%,#fee390 36%,#fffeb7 37.8%,#e1f2a4 39.8%,#c6e7a6 40.5%,#acdda8 41%,#8bd0a7 42.2%,#94d4a7 42.5%,#b9e2a7 43%,#96d5a7 43.2%,#79c9a6 43.5%,#95d5a7 43.8%,#f2f9af 44%,#fdc272 44.2%,#fba35c 44.5%,#f88a51 44.8%,#f7834d 45%,#f7834d 45.8%,#fb9c59 47%,#fdb366 48%,#fede8a 49.2%,#fffeb7 50.2%,#e2f2a4 51.5%,#aedea8 53%,#7ecba6 56.2%,#63bfa6 58.8%,#348abc 68.2%,#3389bc 71.5%,#449cb5 74.5%,#6cc4a5 78.5%,#94d4a7 82.2%,#b0dfa8 85.2%,#e4f3a5 89%,#ffffb8 92.5%,#feee9f 94.5%,#fedb87 96%,#fdc675 98%,#feca78 99.2%,#fedb87 99.8%,#fedc87 100%)"></i><i style="top:60.95px;background:linear-gradient(90deg,#fed985 0%,#fee38f 6.8%,#fdab60 16%,#f99254 21.2%,#f98e52 28.5%,#fca45c 32%,#fdb466 33.2%,#fee28e 36.5%,#fffeb7 38.5%,#e0f1a4 40.5%,#c3e6a6 41.2%,#abdda8 41.8%,#88cfa6 43.2%,#94d4a7 43.5%,#cbe9a6 44%,#9ed8a7 44.2%,#80cca6 44.5%,#95d4a7 44.8%,#eaf6aa 45%,#fed07e 45.2%,#fcaa5f 45.5%,#f99053 45.8%,#f7864f 46%,#f88950 46.8%,#fdad61 48.5%,#fede8a 50%,#fffdb4 51%,#fbfdb5 51.2%,#e3f2a4 52.2%,#acdda8 53.8%,#7ccba6 57%,#62bea7 59.5%,#368cbb 68.2%,#358bbc 71.5%,#459eb4 74.5%,#6bc4a5 78.2%,#97d5a7 82.2%,#b0dfa8 84.8%,#e4f3a6 88.8%,#ffffb8 93%,#fee998 95.8%,#fedb87 97.2%,#fed27f 98.8%,#fed380 100%)"></i><i style="top:68.56px;background:linear-gradient(90deg,#fed783 0%,#fee08b 7%,#fca85e 16.5%,#f99053 21.5%,#f88950 28.2%,#fa9b58 31.5%,#fdb365 33.5%,#fed884 36.2%,#fee390 37.2%,#fffeb7 39.2%,#e1f2a4 41.2%,#acdda8 42.5%,#87cfa6 44.2%,#96d5a7 44.5%,#ddf0a4 45%,#a5dba8 45.2%,#87cfa6 45.5%,#95d4a7 45.8%,#e1f2a4 46%,#fee08b 46.2%,#fdb567 46.5%,#fa9656 46.8%,#f88b51 47%,#f99053 47.8%,#fdad61 49.2%,#fee28e 51%,#ffffb8 52%,#ddf0a4 53.2%,#acdda8 54.5%,#82cda6 57.2%,#63bfa6 60%,#3990ba 68%,#368dbb 71.2%,#439bb5 74%,#68c3a5 77.8%,#93d3a7 81.2%,#b2e0a7 84.2%,#e3f2a4 88%,#ffffb7 93.5%,#fedd89 98.2%,#fedb87 100%)"></i><i style="top:76.18px;background:linear-gradient(90deg,#fed582 0%,#fedd89 7%,#fca95f 16.2%,#f98e52 21.8%,#f7844d 27.8%,#f88d52 30.2%,#fca45c 32.8%,#fdb668 34%,#fee491 38%,#feffb8 40.2%,#e4f3a5 42%,#a9dca8 43.5%,#87cfa6 45.2%,#96d5a7 45.5%,#e6f4a7 46%,#acdda8 46.2%,#8ed2a7 46.5%,#96d5a7 46.8%,#d4eda5 47%,#fff2a5 47.2%,#fdc373 47.5%,#fb9d59 47.8%,#f99053 48%,#fa9756 48.8%,#fdae61 50%,#fede89 51.8%,#fffbb2 52.8%,#fcfdb6 53%,#def0a4 54%,#aadca8 55.2%,#76c8a6 58.8%,#62bda7 60.8%,#3c93b8 68%,#3990ba 71.5%,#49a1b3 74.5%,#6dc5a5 77.8%,#a5dba8 82.5%,#e3f2a4 87.5%,#fffeb7 94%,#fee18c 99.2%,#fee18c 100%)"></i><i style="top:83.80px;background:linear-gradient(90deg,#fed481 0%,#fedb87 7%,#fca85e 16.2%,#f88b51 22%,#f67e4b 26.8%,#f7854e 29.8%,#fba05a 32.8%,#fdb567 34.2%,#fee38f 38.8%,#ffffb8 41.2%,#e5f3a6 42.8%,#a9dca8 44.2%,#8cd1a7 45.8%,#86cea6 46.2%,#95d4a7 46.5%,#ecf6ab 47%,#b9e2a7 47.2%,#97d5a7 47.5%,#99d6a7 47.8%,#cdeaa6 48%,#feffb7 48.2%,#fecf7d 48.5%,#fca45c 48.8%,#fa9556 49%,#fca65d 50.2%,#fdb466 51%,#fee08b 52.8%,#fff9af 53.5%,#fdfeb6 53.8%,#e4f3a6 54.5%,#abdda8 55.8%,#78c9a6 59%,#63bfa6 61%,#3f96b7 68%,#3b92b9 71.5%,#4aa3b2 74.5%,#6ac3a5 77.2%,#a2daa8 81.5%,#e2f2a4 87%,#ffffb7 94.5%,#fee795 99.8%,#fee795 100%)"></i><i style="top:91.42px;background:linear-gradient(90deg,#fed280 0%,#fed985 7%,#fca95f 16%,#f67e4b 24.2%,#f67a49 27.5%,#f7824c 30%,#fb9f5a 33%,#fdc272 36%,#fee38f 40%,#fff8ae 41.8%,#fdfeb7 42.2%,#e3f2a5 43.5%,#afdfa8 44.8%,#8fd2a7 46.2%,#84cea6 47.2%,#93d3a7 47.5%,#bee4a7 47.8%,#f1f9ae 48%,#cae9a6 48.2%,#a6dba8 48.5%,#a3daa8 48.8%,#d1eca5 49%,#f7fcb3 49.2%,#fed884 49.5%,#fdab60 49.8%,#fa9c59 50%,#fdb466 51.8%,#fed481 53.2%,#fee490 53.8%,#fefeb7 54.5%,#e3f2a5 55.2%,#c1e5a6 56%,#a9dca8 56.8%,#7ccaa6 60%,#62bea7 62.8%,#459eb4 68.5%,#439bb5 71.8%,#55afad 75%,#6ec5a5 77%,#a0d9a8 81%,#e2f2a4 87%,#feffb7 94.8%,#feec9d 100%)"></i><i style="top:99.04px;background:linear-gradient(90deg,#fed17e 0%,#fed683 7%,#fcaa5f 15.8%,#f57647 25.2%,#f67948 29.2%,#f99154 32.2%,#fdb869 35.5%,#fed783 40%,#fee38f 41%,#ffffb8 42.8%,#e5f3a6 44%,#acdda8 45.5%,#90d2a7 47%,#83cda6 48.2%,#91d3a7 48.5%,#bfe5a7 48.8%,#f6fbb2 49%,#dbefa5 49.2%,#bde4a7 49.5%,#afdfa8 49.8%,#dcf0a4 50%,#f8fcb3 50.2%,#feda86 50.5%,#fdac60 50.8%,#fb9d59 51%,#fdb466 52.5%,#fed07e 53.8%,#fee18c 54.2%,#ffffb8 55%,#def1a4 56%,#aedea8 57.5%,#8bd0a7 60.2%,#61bca7 65%,#4da6b1 69.2%,#4da7b0 72.2%,#62bda7 75.5%,#89d0a7 78.5%,#bbe3a7 83.2%,#e3f3a5 87.2%,#fffeb7 95.5%,#feed9e 100%)"></i><i style="top:106.65px;background:linear-gradient(90deg,#fed07d 0%,#fed481 7.2%,#fcaa5f 15.5%,#f57145 25%,#f57446 29.2%,#f88d52 32.2%,#fdab60 34.8%,#fdbd6e 38%,#fecf7c 40%,#fee28e 41.5%,#fffeb6 43.2%,#edf7ab 44.2%,#e1f2a4 44.8%,#aadda8 46.2%,#91d3a7 47.8%,#84cea6 49.2%,#91d3a7 49.5%,#c1e6a6 49.8%,#fbfdb5 50%,#e8f5a8 50.2%,#d9efa5 50.5%,#c6e7a6 50.8%,#e6f4a7 51%,#fbfdb5 51.2%,#fed985 51.5%,#fdad60 51.8%,#fb9e5a 52%,#fdb466 53.2%,#fed07d 54.2%,#fee28e 54.8%,#feffb7 55.5%,#e6f4a7 56.5%,#c5e7a6 57.8%,#a9dca8 59%,#62bda7 66.8%,#55afad 70.2%,#59b4ab 73%,#68c3a5 75.2%,#8bd1a7 78%,#b7e2a7 82.8%,#e3f3a5 87.2%,#ffffb8 95.5%,#feed9e 100%)"></i><i style="top:114.27px;background:linear-gradient(90deg,#fecf7d 0%,#fed17f 7.2%,#fdaa5f 15.2%,#f7804c 22%,#f46d43 24.8%,#f46e43 28.8%,#f67c4a 31%,#fb9c59 33.8%,#fca95f 35.2%,#fdb466 38%,#fedb87 41.5%,#feed9e 42.8%,#fffdb5 43.8%,#f8fcb3 44.2%,#ddf0a4 45.5%,#a9dca8 47%,#93d4a7 48.5%,#84cea6 50.2%,#91d3a7 50.5%,#c2e6a6 50.8%,#fefeb7 51%,#f0f8ae 51.2%,#edf7ac 51.5%,#dbefa4 51.8%,#feffb8 52.2%,#fed884 52.5%,#fdb063 52.8%,#fba25c 53%,#fdb869 54%,#fedb87 55%,#fff8ae 55.8%,#feffb7 56%,#e1f1a4 57.8%,#b1dfa8 60.2%,#75c8a6 66.5%,#63bfa6 68.8%,#5fbaa8 71.8%,#6bc4a5 74.2%,#92d3a7 78%,#b4e1a7 82.2%,#e5f3a6 87.5%,#fffeb7 95.8%,#feed9e 100%)"></i><i style="top:121.89px;background:linear-gradient(90deg,#fece7c 0%,#fed07d 7.2%,#fdab5f 15%,#f8874f 20.8%,#f26a44 24.2%,#f06745 27.5%,#f57145 30.2%,#f99354 33.5%,#fba15b 35%,#fdb264 38.2%,#fedf8a 42.2%,#feffb7 44.5%,#e3f2a5 46%,#aadda8 47.8%,#93d3a7 49.5%,#83cea6 51.2%,#8fd2a7 51.5%,#bee4a7 51.8%,#fafdb5 52%,#f4fab0 52.2%,#f9fcb4 52.5%,#e7f4a7 52.8%,#fffeb7 53.2%,#fedd89 53.5%,#fdbc6d 53.8%,#fca95f 54%,#fdb869 54.5%,#fedf8a 55.5%,#fff1a4 56%,#feffb7 56.8%,#dff1a4 59.2%,#a4daa8 64%,#70c6a5 69.2%,#69c3a5 71.5%,#77c9a6 74%,#99d6a7 78%,#b2e0a7 81.8%,#e4f3a6 87.5%,#fffeb6 96%,#feed9e 100%)"></i><i style="top:129.51px;background:linear-gradient(90deg,#fecc7a 0%,#fecd7b 7.2%,#fcaa5f 14.8%,#f88a50 20%,#f26b44 23.5%,#ed6246 26%,#f26b44 29.8%,#f99053 33.5%,#fb9e5a 35.2%,#fdb265 38.8%,#fee28e 43%,#feffb8 45%,#dff1a4 46.8%,#a9dca8 48.5%,#8fd2a7 50.8%,#84cea6 52.2%,#8bd1a7 52.5%,#b5e1a7 52.8%,#f4fab1 53%,#f4fab1 53.2%,#ffffb7 53.5%,#e7f4a8 53.8%,#f5fab1 54.2%,#feeea0 54.5%,#fecc7a 54.8%,#fdb063 55%,#fee08b 56.2%,#fff1a4 56.8%,#ffffb8 57.5%,#e0f1a4 60.5%,#bce3a7 63.8%,#a6dba8 65.2%,#7bcaa6 69.5%,#75c8a6 71.8%,#86cfa6 74.8%,#9ed8a7 78.5%,#b1dfa8 81.8%,#e5f3a6 88%,#fffeb6 96.2%,#feee9f 100%)"></i><i style="top:137.13px;background:linear-gradient(90deg,#fecb79 0%,#feca78 7.5%,#fcaa5f 14.2%,#f98e52 19%,#f26a44 23%,#eb5f47 25.5%,#f06844 29.5%,#f57346 31%,#fa9957 34.8%,#fdb365 39.2%,#fee38f 43.5%,#feffb7 45.5%,#e1f2a4 47.2%,#a9dca8 49.2%,#8dd1a7 52%,#84cea6 53.2%,#87cfa6 53.5%,#abdda8 53.8%,#edf7ab 54%,#f5fab1 54.2%,#fff7ac 54.5%,#e9f5a9 54.8%,#eaf6aa 55.2%,#feffb7 55.5%,#fedb87 55.8%,#fdb96a 56%,#fedb87 57%,#fff5aa 57.8%,#fffeb6 58.2%,#e4f3a5 61.2%,#cbe9a6 64%,#a7dba8 66.2%,#84cea6 70%,#80cca6 72.2%,#9fd8a7 78.2%,#afdfa8 81.8%,#e5f3a6 88.5%,#fffeb7 96.5%,#feefa1 100%)"></i><i style="top:144.75px;background:linear-gradient(90deg,#feca78 0%,#fdc676 7.8%,#fca95f 14%,#f88d52 18.8%,#f36b44 22.5%,#e95d47 25%,#ed6246 28.5%,#f47044 30.8%,#fa9756 35%,#fdb365 39.8%,#fee390 44%,#fefeb7 46%,#e2f2a4 47.8%,#a9dca8 50%,#88cfa6 53.8%,#83cda6 54.5%,#a5dba8 54.8%,#e6f4a6 55%,#f5fbb1 55.2%,#feeea0 55.5%,#ebf6aa 55.8%,#e1f2a4 56.2%,#edf7ac 56.5%,#feeb9b 56.8%,#fdc373 57%,#fed784 57.8%,#fee08c 58%,#fff3a6 58.5%,#ffffb8 59.2%,#e9f5a9 61.8%,#d9efa5 64.2%,#b4e1a7 66.5%,#a6dba8 67.5%,#8cd1a7 70.5%,#8bd1a7 72.8%,#a2daa8 78%,#b0dfa8 81.8%,#e5f3a6 89%,#fffeb7 96.8%,#fff0a2 100%)"></i><i style="top:152.36px;background:linear-gradient(90deg,#fec877 0%,#fdc373 8%,#fca75e 14%,#f88850 19%,#f16944 22.2%,#e75948 25%,#eb6046 28.5%,#f46e44 30.8%,#f99455 35%,#fdb365 40.2%,#fee08c 44.2%,#fffdb5 46.2%,#fafdb4 46.8%,#def1a4 48.5%,#a9dca8 50.8%,#84cea6 55.5%,#a1d9a8 55.8%,#ddf0a4 56%,#f5fbb1 56.2%,#fee694 56.5%,#edf7ac 56.8%,#e6f4a7 57%,#d6eea5 57.2%,#d8eea5 57.5%,#fffbb2 57.8%,#fed27f 58%,#fecf7d 58.2%,#fedc88 58.8%,#fff6ab 59.5%,#fffdb6 60%,#ebf6aa 63%,#def1a4 65.2%,#a7dca8 68.5%,#94d4a7 71.2%,#99d6a7 74%,#a7dca8 78.2%,#b1dfa8 81.5%,#e5f3a6 89.5%,#fffeb7 97%,#fff1a4 100%)"></i><i style="top:159.98px;background:linear-gradient(90deg,#fec776 0%,#fdc070 8.2%,#fca65d 13.8%,#f7854e 19%,#f26a44 21.8%,#e55749 24.8%,#e85b48 27.8%,#f16844 30.2%,#f57748 31.8%,#fa9857 36%,#fdb063 40.5%,#fee18d 44.8%,#fffdb5 46.8%,#fafdb4 47.2%,#e1f2a4 49%,#aadda8 51.5%,#85cea6 56.5%,#9dd7a7 56.8%,#d3eca5 57%,#f6fbb2 57.2%,#f4fab1 57.8%,#e8f5a8 58%,#cfeba5 58.2%,#bde4a7 58.5%,#f4fab0 58.8%,#fee08b 59%,#fed683 59.2%,#fee18c 59.8%,#fff2a5 60.2%,#fffbb2 60.8%,#fefeb7 61.2%,#e2f2a4 66.2%,#aadca8 69.5%,#9ed8a7 71.8%,#b8e2a7 82.2%,#e6f4a6 90%,#fffeb7 97.2%,#fff2a5 100%)"></i><i style="top:167.60px;background:linear-gradient(90deg,#fdc675 0%,#fdbd6d 8.5%,#fb9f5a 14.8%,#f67d4a 19.5%,#f16944 21.5%,#e45549 24.5%,#e55749 27.2%,#f06745 30.2%,#f57647 31.8%,#fa9957 36.5%,#fdb163 41%,#fee18d 45.2%,#feffb7 47.5%,#dff1a4 49.8%,#abdda8 52.2%,#87cfa6 57.5%,#99d6a7 57.8%,#cbe9a6 58%,#f7fbb2 58.2%,#f5fab1 58.5%,#fefeb7 58.8%,#ecf6ab 59%,#cbe9a6 59.2%,#a8dca8 59.5%,#e5f3a6 59.8%,#feefa1 60%,#fedd88 60.2%,#fee592 60.8%,#fff4a8 61.2%,#ffffb8 62.2%,#eaf6aa 66.5%,#dcf0a4 67.8%,#afdea8 70.5%,#a8dca8 72.2%,#b0dfa8 75.2%,#b7e2a7 78%,#bfe5a7 82.8%,#e5f3a6 90.2%,#ffffb7 97.5%,#fff3a7 100%)"></i><i style="top:175.22px;background:linear-gradient(90deg,#fdc574 0%,#fdb96b 8.8%,#fa9857 15.5%,#f57748 19.8%,#f06844 21.2%,#e2524a 24.5%,#e3534a 27%,#ef6545 30.2%,#f57245 31.5%,#fa9656 36.5%,#fdb163 41.5%,#fee18d 45.8%,#ffffb8 48%,#def0a4 50.5%,#aadca8 53.2%,#88cfa6 58.5%,#96d5a7 58.8%,#c3e6a6 59%,#f7fcb3 59.2%,#f7fbb3 59.5%,#fff6ab 59.8%,#f2f9af 60%,#cbe9a6 60.2%,#a3daa8 60.5%,#ceeaa5 60.8%,#fffeb6 61%,#fee491 61.2%,#fee998 61.8%,#fff6aa 62.2%,#ffffb8 63.5%,#f2f9af 66.8%,#ddf0a4 68.8%,#bde4a7 71%,#b7e2a7 73%,#c3e6a6 77.5%,#c5e7a6 82.8%,#e5f4a6 90.5%,#fffeb6 98%,#fff4a8 100%)"></i><i style="top:182.84px;background:linear-gradient(90deg,#fdc473 0%,#fdb567 9.2%,#fb9c59 14.5%,#f67848 19.2%,#f16944 20.8%,#e1504a 24.2%,#e04f4b 26.5%,#ec6146 30%,#f57346 31.8%,#fa9555 36.8%,#fdae61 41.8%,#fee18d 46.2%,#fffeb7 48.5%,#ddf0a4 51.2%,#abdda8 54%,#8ad0a7 59.5%,#93d4a7 59.8%,#bde4a7 60%,#f4fab0 60.2%,#f9fcb4 60.5%,#feec9c 60.8%,#f9fdb4 61%,#ceeba5 61.2%,#9fd8a7 61.5%,#b4e1a7 61.8%,#f2f9af 62%,#feeb9b 62.2%,#feed9e 62.8%,#fff6ab 63.2%,#ffffb7 65.5%,#f0f8ae 68%,#dff1a4 69.8%,#cdeaa6 71.5%,#cae9a6 74%,#ceeaa5 77.8%,#cceaa6 83.2%,#e6f4a6 90.5%,#fffeb7 98.2%,#fff5aa 100%)"></i><i style="top:190.45px;background:linear-gradient(90deg,#fdc373 0%,#fdb264 9.5%,#fb9e5a 14%,#f57547 19.2%,#f16844 20.5%,#e04f4b 24%,#de4c4b 26.2%,#eb6046 30%,#f57145 31.8%,#f99254 36.8%,#fdaf62 42.2%,#fee28e 46.8%,#fffeb6 49%,#dcf0a4 52%,#aadda8 55%,#8cd1a7 60.5%,#91d3a7 60.8%,#b7e2a7 61%,#f0f8ae 61.2%,#fbfdb6 61.5%,#fee18d 61.8%,#fffdb5 62%,#d5eda5 62.2%,#9ed8a7 62.5%,#a4daa8 62.8%,#e5f3a6 63%,#fff2a6 63.2%,#fff0a2 63.8%,#fff7ac 64.5%,#fdfeb6 67.5%,#e0f1a4 71.2%,#daefa5 74.2%,#d9efa5 78.2%,#d5eda5 84%,#e6f4a7 90.2%,#fcfeb6 97.8%,#fffdb6 98.8%,#fff7ac 100%)"></i><i style="top:198.07px;background:linear-gradient(90deg,#fdc474 0%,#fdaf62 9.8%,#fb9d59 13.8%,#f57446 19%,#f16844 20.2%,#df4e4b 23.8%,#dd4a4c 26%,#e95c47 29.8%,#f47145 31.8%,#f99154 36.5%,#fdaf62 42.2%,#fee390 47%,#ffffb8 49.2%,#e0f1a4 52%,#aadda8 55.2%,#8dd1a7 61.5%,#8dd1a7 61.8%,#b2e0a7 62%,#eef7ac 62.2%,#ffffb8 62.5%,#fedb87 62.8%,#fffbb3 63%,#e1f2a4 63.2%,#a5daa8 63.5%,#a1d9a8 63.8%,#dff1a4 64%,#fff2a5 64.2%,#fff0a2 64.8%,#fff5aa 65.5%,#fffcb3 68%,#fdfeb7 68.8%,#e7f4a8 72.2%,#e2f2a4 81%,#e3f2a5 86%,#f5fbb1 97%,#ffffb7 99.5%,#fffcb4 100%)"></i><i style="top:205.69px;background:linear-gradient(90deg,#fdc575 0%,#fca95f 11%,#fa9656 14.5%,#f57245 19%,#ea5e47 21%,#dc484c 24.5%,#de4c4c 27%,#ea5e47 30%,#f57145 32%,#f99254 36.5%,#fdae61 42.2%,#fee28e 47%,#feffb8 49.5%,#e0f1a4 52.2%,#abdda8 55.5%,#90d2a7 61.5%,#8cd1a7 62.8%,#acdda8 63%,#ecf6ab 63.2%,#fffcb4 63.5%,#fed581 63.8%,#fffab1 64%,#e8f5a8 64.2%,#aadda8 64.5%,#9dd7a7 64.8%,#d6eda5 65%,#fff7ac 65.2%,#fff0a3 65.5%,#fffcb3 69.2%,#fefeb7 70%,#eef7ac 73.2%,#ecf6ab 79.5%,#e9f5a9 86.5%,#f0f8ae 96.5%,#fcfeb6 100%)"></i><i style="top:213.31px;background:linear-gradient(90deg,#fdc675 0%,#fca45c 12%,#f57647 18.2%,#f06744 19.8%,#dd4b4c 23.5%,#da464d 25.8%,#e85b48 29.8%,#f47045 32%,#f99153 36.2%,#fdae61 42.2%,#fee491 47.2%,#fffeb6 49.5%,#eef7ac 51.2%,#dcf0a4 52.8%,#a9dca8 56%,#91d3a7 61.8%,#8dd1a7 63.8%,#a8dca8 64%,#e9f5a9 64.2%,#fff9af 64.5%,#fff9af 65%,#edf7ac 65.2%,#b3e0a7 65.5%,#98d6a7 65.8%,#cceaa6 66%,#fffeb7 66.2%,#fff2a5 66.5%,#fffcb3 70.5%,#fdfeb7 71.5%,#f4fab0 74.8%,#f5fab1 79.8%,#e9f5a9 93.5%,#f6fbb2 99.5%,#f7fcb3 100%)"></i><i style="top:220.93px;background:linear-gradient(90deg,#fec776 0%,#fb9f5a 12.5%,#f57446 18.2%,#ef6545 19.8%,#db474d 23.8%,#da454d 26%,#e85a48 29.8%,#f47044 32%,#f99053 36%,#fdb164 42.5%,#fee38f 47.2%,#ffffb8 49.8%,#e0f1a4 52.8%,#aadda8 56.2%,#95d4a7 61%,#8cd1a7 64.8%,#a3daa8 65%,#e4f3a6 65.2%,#fff7ac 65.5%,#fff9af 65.8%,#fff4a8 66%,#f2f9af 66.2%,#bbe3a7 66.5%,#93d4a7 66.8%,#c0e5a6 67%,#f8fcb3 67.2%,#fff5a9 67.5%,#fffcb4 72%,#fdfeb7 73.5%,#fefeb7 77.2%,#fafdb5 81.8%,#e7f4a7 93.8%,#f2f9af 100%)"></i><i style="top:228.55px;background:linear-gradient(90deg,#fec977 0%,#fca85e 10%,#f99354 14%,#f46c43 18.8%,#dc494c 23%,#d8424e 25.2%,#e3534a 29%,#f46f44 32%,#f98f53 35.8%,#fdb164 42.5%,#fee28e 47.2%,#feffb7 50%,#dff1a4 53%,#aadda8 56.5%,#98d5a7 60.5%,#8bd1a7 65.8%,#9ed8a7 66%,#dcf0a4 66.2%,#fff5a9 66.5%,#fff9af 66.8%,#fff1a3 67%,#f5fbb1 67.2%,#c0e5a6 67.5%,#95d4a7 67.8%,#b3e0a7 68%,#eff8ad 68.2%,#fff9af 68.5%,#fffab1 74%,#fffab1 76.8%,#fff7ac 80%,#fefeb7 83.5%,#e4f3a5 93%,#edf7ac 100%)"></i><i style="top:236.16px;background:linear-gradient(90deg,#feca78 0%,#fcaa5f 9%,#f99555 13.5%,#f26a44 18.8%,#db474d 23%,#d7404e 25.2%,#e45549 29.2%,#f57145 32.2%,#f98e52 35.5%,#fdb264 42.5%,#fee491 47.5%,#fffeb7 50%,#dff1a4 53.2%,#a9dca8 57%,#97d5a7 61%,#8ad0a7 66.8%,#97d5a7 67%,#d1eba5 67.2%,#fff7ac 67.5%,#fff9b0 67.8%,#feefa0 68%,#f7fbb3 68.2%,#c4e6a6 68.5%,#97d5a7 68.8%,#a8dca8 69%,#e5f3a6 69.2%,#fffeb6 69.5%,#feed9e 80%,#fff8ae 83.2%,#feffb8 85%,#e0f1a4 92.5%,#e8f5a8 100%)"></i><i style="top:243.78px;background:linear-gradient(90deg,#fecb79 0%,#fcaa5f 8.5%,#f99455 13.2%,#f26a44 18.5%,#da454d 23%,#d63f4f 25.2%,#e45449 29.2%,#f46f44 32%,#f98f52 35.5%,#fdb365 42.5%,#fee390 47.5%,#feffb7 50.2%,#def1a4 53.5%,#a9dca8 57.2%,#97d5a7 61%,#87cfa6 67.8%,#8fd2a7 68%,#c3e6a6 68.2%,#fffeb7 68.5%,#fffbb2 68.8%,#feed9f 69%,#f8fcb3 69.2%,#c6e7a6 69.5%,#98d6a7 69.8%,#a0d9a8 70%,#d7eea5 70.2%,#fbfdb5 70.5%,#fffeb6 72%,#fee998 77.2%,#fee491 80.5%,#feefa0 83%,#ffffb8 85.8%,#dff1a4 91.2%,#dbefa5 93.8%,#e2f2a4 100%)"></i><i style="top:251.40px;background:linear-gradient(90deg,#fecc7a 0%,#fcaa5f 8%,#f99455 13%,#f26a44 18.2%,#d8434e 23%,#d53e4f 25.2%,#e45549 29.2%,#f47044 32%,#f98e52 35.2%,#fdb265 43%,#fee28e 48%,#fffeb7 50.8%,#ddf0a4 54.2%,#a9dca8 58%,#98d6a7 61.8%,#87cfa6 68.8%,#8ad0a7 69%,#bbe3a7 69.2%,#fbfdb6 69.5%,#fffab0 69.8%,#feeea0 70%,#f2f9af 70.2%,#c3e6a6 70.5%,#97d5a7 70.8%,#96d5a7 71%,#c5e7a6 71.2%,#f7fbb2 71.5%,#fffeb7 73.8%,#fee08b 79%,#fede89 81.2%,#ffffb8 86%,#dff1a4 91%,#d7eea5 93.5%,#ddf0a4 100%)"></i><i style="top:259.02px;background:linear-gradient(90deg,#fecc7a 0%,#fdab60 7.5%,#f99455 12.8%,#f26a44 18%,#d8424e 22.8%,#d53e4f 25%,#e45449 29%,#f47044 31.8%,#f98f53 35%,#fdb164 44%,#fee28e 49.2%,#fffeb7 52%,#dff1a4 55.2%,#a9dca8 59.2%,#98d6a7 63.5%,#8ad0a7 70%,#bde4a7 70.2%,#feffb8 70.5%,#fff7ac 70.8%,#fff4a8 71%,#e9f5a9 71.2%,#b7e1a7 71.5%,#8fd2a7 71.8%,#8bd0a7 72%,#b2e0a8 72.2%,#eff8ad 72.5%,#ffffb8 76.8%,#fedf8a 80%,#fed985 81.8%,#fff4a8 85.2%,#feffb7 86.8%,#dff1a4 91.2%,#d6eda5 94%,#daefa5 100%)"></i><i style="top:266.64px;background:linear-gradient(90deg,#fecd7b 0%,#fdab60 7.2%,#f99254 12.8%,#f26a44 17.8%,#d8424e 22.5%,#d53e4f 24.8%,#e35449 28.8%,#f46f44 31.5%,#f99154 35%,#fdb264 45.2%,#fee18c 50.5%,#fefeb7 53.5%,#e0f1a4 56.5%,#a9dca8 60.5%,#97d5a7 65.5%,#8cd1a7 71%,#c3e6a6 71.2%,#fffbb2 71.5%,#fff3a7 71.8%,#fffab1 72%,#e0f1a4 72.2%,#aadda8 72.5%,#87cfa6 72.8%,#81cda6 73%,#a6dba8 73.2%,#e8f5a8 73.5%,#f4fab1 77.5%,#fffeb7 78.5%,#fee18d 80.5%,#fed481 82%,#fee28e 83.8%,#feffb7 87%,#dff1a4 90.8%,#d1eba5 93%,#cfeba5 97%,#d8eea5 100%)"></i><i style="top:274.25px;background:linear-gradient(90deg,#fecd7b 0%,#fdab5f 7%,#f99254 12.5%,#f26a44 17.5%,#d8424e 22.2%,#d53e4f 24.5%,#e35449 28.5%,#f46f44 31.2%,#f99254 34.8%,#fca35c 41%,#fdb265 46.5%,#fedd88 51.5%,#ffffb8 54.8%,#dcf0a4 58%,#a9dca8 61.8%,#95d4a7 68.5%,#8fd2a7 72%,#cceaa6 72.2%,#fff1a4 72.5%,#feea99 72.8%,#fffab0 73%,#dbefa5 73.2%,#a6dba8 73.5%,#81cda6 73.8%,#78c9a6 74%,#9ed8a7 74.2%,#e0f1a4 74.5%,#ebf6aa 78.2%,#fdfeb7 79.5%,#fff8ad 80%,#fee18c 81.2%,#fed07e 82.5%,#fed783 83.5%,#feed9e 85.5%,#fffeb6 87%,#e0f1a4 90.2%,#cbe9a6 92.5%,#c5e7a6 96%,#d3eca5 99.8%,#d5eda5 100%)"></i><i style="top:281.87px;background:linear-gradient(90deg,#fece7c 0%,#fdab5f 6.8%,#f99154 12.5%,#f26a44 17.2%,#d8424e 22%,#d53e4f 24.2%,#e3534a 28.2%,#f57145 31.2%,#f99455 34.8%,#fca45c 41.2%,#fdb163 47.5%,#fed17f 51.8%,#fee38f 53.5%,#feffb8 56.2%,#ddf0a4 59.2%,#abdda8 62.8%,#98d6a7 68.8%,#93d4a7 73%,#d6eda5 73.2%,#fee796 73.5%,#fedf8a 73.8%,#fff9af 74%,#d8eea5 74.2%,#a4daa8 74.5%,#7bcaa6 74.8%,#6fc5a5 75%,#97d5a7 75.2%,#d5eda5 75.5%,#dbefa5 76%,#e0f1a4 78.8%,#f9fcb4 80.2%,#feffb8 80.5%,#fede8a 82%,#feca79 83%,#fecb7a 83.8%,#fee998 85.8%,#feffb7 87.5%,#e1f2a4 90%,#c7e8a6 92%,#bce3a7 94.8%,#c3e6a6 97.8%,#d3eca5 100%)"></i><i style="top:289.49px;background:linear-gradient(90deg,#fece7c 0%,#fdab60 6.5%,#f98f53 12.5%,#f26a44 17%,#d8424e 21.8%,#d53e4f 24%,#e3534a 28%,#f57145 31%,#f99555 34.5%,#fca35c 40.8%,#fdb063 48.8%,#fecd7b 52.8%,#fee390 55%,#fffeb6 57.5%,#edf7ab 59.2%,#ddf0a4 60.5%,#abdda8 64%,#99d6a7 70.8%,#97d5a7 74%,#e0f1a4 74.2%,#fedd88 74.5%,#fed380 74.8%,#fff7ac 75%,#d5eda5 75.2%,#a1d9a8 75.5%,#76c8a6 75.8%,#66c2a5 76%,#90d3a7 76.2%,#cae9a6 76.5%,#d2eca5 76.8%,#d4eda5 79.2%,#e3f2a5 80%,#fffdb6 81.2%,#fee38f 82.2%,#fdc171 83.5%,#fdbb6c 84%,#fdc372 84.8%,#fee997 86.8%,#ffffb8 88.2%,#e1f2a4 90.5%,#c3e6a6 92.5%,#b8e2a7 95%,#bde4a7 97.5%,#d2eca5 100%)"></i><i style="top:297.11px;background:linear-gradient(90deg,#fecf7c 0%,#fdab60 6.2%,#f98e52 12.5%,#f26b44 16.8%,#d9444e 21.2%,#d53e4f 23.5%,#e04f4b 27.2%,#f47044 30.8%,#fa9756 34.5%,#fca45d 41.2%,#fdb062 50%,#fecb7a 54%,#fee490 56.5%,#fffeb7 59%,#def0a4 61.8%,#acdda8 65.2%,#9bd7a7 71.8%,#9bd7a7 75%,#e8f5a8 75.2%,#fed280 75.5%,#fec776 75.8%,#fff4a9 76%,#d4eda5 76.2%,#a0d9a8 76.5%,#72c7a6 76.8%,#61bda7 77%,#8ad0a7 77.2%,#c0e5a6 77.5%,#cae9a6 77.8%,#cceaa6 80%,#e1f2a4 80.8%,#ffffb8 81.8%,#fee08b 82.8%,#fdb466 84.2%,#fdaf62 84.8%,#fdbb6c 85.8%,#fee897 87.8%,#fffeb6 89%,#ddf0a4 91.2%,#c0e5a6 93%,#b4e1a7 95%,#b7e2a7 97.2%,#cbe9a6 99.5%,#d2eca5 100%)"></i><i style="top:304.73px;background:linear-gradient(90deg,#fecf7d 0%,#fdab60 6%,#f88c52 12.5%,#f36b44 16.5%,#d9444d 21%,#d63f4f 23.5%,#e3534a 27.5%,#f47044 30.5%,#fa9957 34.5%,#fca55d 41.8%,#fdb062 51.5%,#fecb7a 55.5%,#fee390 58%,#ffffb8 60.5%,#def0a4 63%,#afdea8 66.2%,#a4daa8 69%,#9fd8a7 75%,#a0d9a8 76%,#eff8ad 76.2%,#fec877 76.5%,#fdba6b 76.8%,#fff1a4 77%,#d3eca5 77.2%,#6fc6a5 77.8%,#5db8a9 78%,#85cea6 78.2%,#b9e2a7 78.5%,#c7e8a6 78.8%,#cceaa6 80.8%,#e4f3a6 81.5%,#fdfeb7 82.2%,#fedb87 83.5%,#fdb668 84.8%,#fdad60 85.5%,#fdb264 86.2%,#fed985 88%,#fffdb6 89.8%,#f0f8ad 90.8%,#dff1a4 91.8%,#bde4a7 93.5%,#b1dfa8 95%,#b5e1a7 97.2%,#cceaa6 99.8%,#d0eba5 100%)"></i><i style="top:312.35px;background:linear-gradient(90deg,#fecf7d 0%,#fdab60 5.8%,#f88b51 12.5%,#f16944 16.5%,#d9454d 20.8%,#d6404e 23.2%,#e3534a 27.2%,#f46f44 30.2%,#fa9a58 34.5%,#fca65d 42.2%,#fdae61 52.8%,#fec977 56.8%,#fee38f 59.5%,#ffffb8 62%,#dff1a4 64.2%,#b2e0a7 67.2%,#a9dca8 68.8%,#a2d9a8 74.8%,#a5dba8 77%,#f2f9af 77.2%,#fdc574 77.5%,#fdb667 77.8%,#fff5a9 78%,#cce9a6 78.2%,#70c6a5 78.8%,#5db7a9 79%,#83cda6 79.2%,#b6e1a7 79.5%,#c6e7a6 79.8%,#cfeba5 81.5%,#e1f2a4 82%,#fafdb4 82.8%,#fffcb3 83%,#fee08b 84%,#fdb96a 85.5%,#fdaf62 86.2%,#fdb668 87.2%,#fedc88 89%,#ffffb8 90.5%,#ddf0a4 92.5%,#bae3a7 94.2%,#aedea8 95.8%,#b7e2a7 97.8%,#d0eba5 100%)"></i><i style="top:319.96px;background:linear-gradient(90deg,#fed07d 0%,#fdab60 5.8%,#f88950 12.5%,#f16944 16.2%,#da454d 20.5%,#d7414e 23.2%,#e45549 27.2%,#f57145 30%,#fa9c59 34%,#fca75e 41%,#fdaf62 53.5%,#fec877 57.5%,#fee490 60.5%,#feffb7 63%,#def1a4 65.2%,#b6e1a7 68.2%,#aadda8 70.2%,#a6dba8 76.2%,#a9dca8 78%,#f4fab0 78.2%,#fdc675 78.5%,#fdb567 78.8%,#fff1a4 79%,#c4e7a6 79.2%,#71c6a5 79.8%,#5db7a9 80%,#83cda6 80.2%,#b3e0a7 80.5%,#c6e7a6 80.8%,#cfeba5 82%,#def0a4 82.5%,#fffeb6 83.5%,#fee28e 84.5%,#fdba6b 86.2%,#fdb163 87.2%,#fdbe6e 88.5%,#fedf8a 90%,#fffeb7 91.2%,#def0a4 93.2%,#bce4a7 95%,#b0dfa8 96.5%,#b4e0a7 97.8%,#d0eba5 100%)"></i><i style="top:327.58px;background:linear-gradient(90deg,#fecf7d 0%,#fdab60 5.8%,#f8874f 12.5%,#f16944 16%,#da464d 20%,#d7414e 22.8%,#e1514a 26.5%,#f46f44 29.2%,#fb9f5a 33.2%,#fdaa5f 38.8%,#fdb163 52.8%,#fdc675 56.8%,#fee491 60.2%,#ffffb8 63%,#dff1a4 65.8%,#bae3a7 69.2%,#abdda8 73%,#aadda8 79%,#f1f9ae 79.2%,#fecb7a 79.5%,#fdb96a 79.8%,#fff5aa 80%,#bfe5a7 80.2%,#9bd7a7 80.5%,#71c6a5 80.8%,#5db8a9 81%,#82cda6 81.2%,#b1dfa8 81.5%,#c7e8a6 81.8%,#d3eca5 82.8%,#e5f3a6 83.2%,#fffeb7 84%,#fee897 84.8%,#fed683 85.5%,#fdb86a 87%,#fdb063 88%,#fdbb6c 89.2%,#fedf8b 91%,#ffffb8 92.2%,#def1a4 94.2%,#c1e5a6 96%,#b6e1a7 97.5%,#bde4a7 99%,#cbe9a6 100%)"></i><i style="top:335.20px;background:linear-gradient(90deg,#fecf7d 0%,#fdab60 5.8%,#f8874f 12.2%,#f36b44 15.5%,#da464d 19.8%,#d7424e 22.2%,#e2524a 26.2%,#f57245 29%,#fba15b 32.8%,#fdb062 38.5%,#fdb668 52.8%,#fecd7b 57%,#fee38f 59.8%,#ffffb8 63%,#e0f1a4 66.2%,#bde4a7 70.5%,#acdda8 76.5%,#addea8 80%,#eff8ad 80.2%,#fed17e 80.5%,#fdbd6e 80.8%,#fff9af 81%,#bae3a7 81.2%,#9ad6a7 81.5%,#72c7a6 81.8%,#5db8a9 82%,#82cda6 82.2%,#b1dfa8 82.5%,#cae9a6 82.8%,#d7eea5 83.5%,#e2f2a4 83.8%,#ffffb8 84.5%,#feefa0 85%,#fedd88 85.8%,#fdbb6c 87.5%,#fdb163 88.8%,#fdba6b 90%,#fee18c 92%,#ffffb7 93.2%,#e4f3a6 95%,#c6e7a6 97.5%,#c2e6a6 99.2%,#c7e8a6 100%)"></i><i style="top:342.82px;background:linear-gradient(90deg,#fece7c 0%,#fcaa5f 6%,#f7854e 12.2%,#f26b44 15.2%,#db484d 19.2%,#d8424e 21.8%,#e2524a 25.8%,#f57145 28.5%,#fb9f5a 32%,#fdb668 38.8%,#fdbb6c 52.8%,#fed582 57.5%,#fee491 59.5%,#ffffb8 63%,#dff1a4 67%,#bfe5a7 71.8%,#b0dfa8 79%,#b0dfa8 81%,#ecf7ab 81.2%,#fed783 81.5%,#fdc271 81.8%,#fffdb5 82%,#b3e0a7 82.2%,#98d5a7 82.5%,#72c7a6 82.8%,#5db8a9 83%,#83cda6 83.2%,#b1dfa8 83.5%,#ceeaa5 83.8%,#dbefa5 84.2%,#e6f4a7 84.5%,#fdfeb6 85%,#fee38f 86%,#fdc171 87.8%,#fdb265 89.2%,#fdb768 90.5%,#fed280 92.2%,#fee28e 93%,#fffdb5 94.2%,#f8fcb3 94.8%,#e6f4a7 96.2%,#d1eba5 99.2%,#cfeba5 100%)"></i><i style="top:350.44px;background:linear-gradient(90deg,#fece7c 0%,#fcaa5f 6%,#f7854e 12%,#f26a44 15%,#db474d 19%,#d8424e 21.5%,#e3544a 25.5%,#f47045 28%,#fb9e5a 31.5%,#fdbd6e 40.2%,#fdbf70 52.5%,#feda86 57.5%,#feea99 59.8%,#ffffb8 63%,#e1f2a4 67.5%,#c1e5a6 73%,#b2e0a7 81.5%,#b2e0a7 82%,#eaf6a9 82.2%,#fedd88 82.5%,#fdc675 82.8%,#fcfeb6 83%,#addea8 83.2%,#95d5a7 83.5%,#72c7a6 83.8%,#5eb9a9 84%,#83cea6 84.2%,#b3e0a7 84.5%,#d4eda5 84.8%,#dff1a4 85%,#f9fcb4 85.5%,#fff9af 85.8%,#fee390 86.5%,#feca78 87.8%,#fdb567 89.5%,#fdb667 91%,#fecb79 92.8%,#fee28d 94%,#fffdb5 95.5%,#f6fbb2 96.2%,#eaf5a9 98%,#e2f2a4 100%)"></i><i style="top:358.05px;background:linear-gradient(90deg,#fecd7b 0%,#fcaa5f 6%,#f8874f 11.5%,#f26a44 14.8%,#db474d 18.8%,#d8424e 21.2%,#e3534a 25%,#f57145 27.5%,#fb9d59 31%,#fdb567 37.2%,#fdc574 43%,#fdc575 52.5%,#fee28e 58%,#feffb8 63%,#e0f1a4 68.5%,#c1e6a6 74.5%,#b3e0a7 83%,#e7f4a7 83.2%,#fee38f 83.5%,#fecc7a 83.8%,#f7fcb3 84%,#a8dca8 84.2%,#94d4a7 84.5%,#77c9a6 84.8%,#63bea7 85%,#8bd1a7 85.2%,#c2e6a6 85.5%,#e5f3a6 85.8%,#feffb7 86.2%,#fee28e 87.2%,#fdc675 88.8%,#fdb769 90.5%,#fdbb6c 92%,#fed885 94.2%,#fee592 95%,#fffdb5 96.5%,#f8fcb3 97.2%,#edf7ab 99.2%,#eaf6aa 100%)"></i><i style="top:365.67px;background:linear-gradient(90deg,#fecd7b 0%,#fca95f 6%,#f88950 11%,#f26a44 14.5%,#db474d 18.5%,#d8434e 21.2%,#e3534a 24.5%,#f46f44 26.8%,#fb9c59 30.5%,#fdb466 37.2%,#fec978 44%,#fecd7b 52.8%,#fee28f 57.2%,#fffeb7 62.5%,#dff1a4 69.5%,#c2e6a6 75.8%,#b4e0a7 84%,#e4f3a5 84.2%,#feea99 84.5%,#fed27f 84.8%,#f2f9af 85%,#a3daa8 85.2%,#92d3a7 85.5%,#6ac4a5 86%,#94d4a7 86.2%,#d4eca5 86.5%,#f5fbb1 86.8%,#fffdb6 87%,#fee38f 88%,#fec877 89.5%,#fdba6b 91.2%,#fdbf70 93%,#fedf8a 95.5%,#ffffb8 97.8%,#f1f9ae 99.8%,#f1f9ae 100%)"></i><i style="top:373.29px;background:linear-gradient(90deg,#fecc7b 0%,#fca85e 6.2%,#f88b51 10.5%,#f26944 14.2%,#da464d 18.2%,#d8434e 21%,#e35449 24.2%,#f47044 26.2%,#fa9958 29.8%,#fdb466 37.8%,#fecf7c 45.8%,#fed683 53.5%,#fee38f 56.2%,#ffffb8 62%,#def0a4 70.5%,#c1e6a6 76.8%,#b6e1a7 84.5%,#b4e0a7 85%,#dff1a4 85.2%,#fff1a4 85.5%,#fed985 85.8%,#ebf6aa 86%,#9ed8a7 86.2%,#73c7a6 87%,#9dd7a7 87.2%,#e6f4a7 87.5%,#fffdb5 87.8%,#fedf8a 89%,#fdc574 90.8%,#fdbc6d 92.5%,#fdc474 94.2%,#fee38f 96.8%,#fffeb7 99%,#f8fcb3 100%)"></i><i style="top:380.91px;background:linear-gradient(90deg,#fecc7a 0%,#fdb365 4.5%,#f98e52 10%,#f36b43 13.8%,#db474d 17.8%,#d9444e 20.5%,#e3534a 23.8%,#f47045 25.8%,#fa9757 29%,#fdb365 37.5%,#fed380 46.5%,#fee08b 54.2%,#ffffb8 61%,#def1a4 71%,#c1e5a6 77.5%,#b8e2a7 84.8%,#b3e0a7 86%,#d9efa5 86.2%,#fff8ae 86.5%,#fedf8a 86.8%,#e5f3a6 87%,#98d5a7 87.2%,#82cda6 87.8%,#7ccba6 88%,#a6dba8 88.2%,#ecf6ab 88.5%,#fffab1 88.8%,#fee08b 90%,#fdc574 92%,#fdbe6f 93.8%,#fecd7b 96%,#fee491 98%,#fffcb4 100%)"></i><i style="top:388.53px;background:linear-gradient(90deg,#fecc7b 0%,#fdb567 4.2%,#fb9d59 8%,#f26b44 13.5%,#dd4a4c 17.2%,#da464d 20%,#e3534a 23%,#f47044 25.2%,#fa9b58 28.8%,#fdb466 35.8%,#fed582 44.5%,#fee18c 53.5%,#feffb7 60%,#ddf0a4 71.5%,#c4e7a6 78.2%,#bfe5a7 85%,#b5e1a7 87%,#dff1a4 87.2%,#fff6aa 87.5%,#fee592 87.8%,#dbefa5 88%,#91d3a7 88.2%,#85cea6 88.8%,#87cfa6 89%,#abdda8 89.2%,#ebf6ab 89.5%,#fdfeb7 89.8%,#fff8ae 90.2%,#fede89 91.8%,#fec876 93.8%,#fdc776 95.5%,#fede89 98.2%,#fff3a6 100%)"></i><i style="top:396.15px;background:linear-gradient(90deg,#fecd7b 0%,#fdb769 4%,#fca55d 6.8%,#f88950 10.2%,#f26a44 13.2%,#de4c4b 16.8%,#dc484c 19.5%,#e65748 22.8%,#f47044 24.8%,#fa9b58 28%,#fdb466 34%,#fed682 42.2%,#fede89 48.8%,#fee28e 53%,#fffab1 58.2%,#fdfeb7 59.5%,#eaf6aa 66%,#daefa5 72.2%,#c8e8a6 78.8%,#c5e7a6 85.2%,#b7e2a7 88%,#e4f3a6 88.2%,#fff2a5 88.5%,#feec9c 88.8%,#cfeba5 89%,#8bd0a7 89.2%,#86cfa6 89.8%,#8dd1a7 90%,#addea8 90.2%,#e7f4a7 90.5%,#f3fab0 90.8%,#ffffb8 91.5%,#fede89 93.5%,#fecd7b 95.2%,#fed07e 97.2%,#fee18d 99.2%,#feea99 100%)"></i><i style="top:403.76px;background:linear-gradient(90deg,#fecd7b 0%,#fdba6b 3.8%,#fca85e 6.2%,#f88c51 9.8%,#f36b43 12.8%,#df4e4b 16.2%,#dd4a4c 19%,#e55649 22%,#f57145 24.2%,#fb9d59 27.5%,#fdb567 32.5%,#fed783 40.2%,#fee18c 46.5%,#fee38f 52%,#fff3a7 56.5%,#fefeb7 59%,#ebf6aa 64%,#def1a4 70%,#cae9a6 79%,#cae9a6 85.5%,#b8e2a7 89%,#e8f5a8 89.2%,#feefa0 89.5%,#fff2a6 89.8%,#a0d9a8 90%,#86cfa6 90.2%,#88cfa6 90.8%,#92d3a7 91%,#addea8 91.2%,#e1f2a4 91.5%,#eef7ac 92%,#fefeb7 93%,#feefa1 94%,#fedc88 95.2%,#fed27f 96.8%,#feda86 99%,#fee38f 100%)"></i><i style="top:411.38px;background:linear-gradient(90deg,#fecd7b 0%,#fdbf6f 3.2%,#fca95f 6%,#f88d52 9.5%,#f26a44 12.5%,#e04f4b 15.8%,#de4c4c 18.5%,#e45549 21.2%,#f47045 23.5%,#fba05b 27%,#fdb667 31%,#fed884 38.2%,#fee491 44.5%,#fee694 52%,#fff8ad 56.8%,#fefeb7 58.5%,#dff1a4 66%,#d8eea5 69.5%,#d3eca5 73.8%,#cceaa6 80.5%,#ceeaa5 86%,#bee4a7 89.5%,#bae3a7 90%,#edf7ab 90.2%,#feea9a 90.5%,#fff8ae 90.8%,#98d6a7 91%,#85cea6 91.2%,#8bd0a7 91.8%,#96d5a7 92%,#aedea8 92.2%,#d9efa5 92.5%,#e2f2a4 92.8%,#ffffb8 94.5%,#fedf8a 96.5%,#fed783 98%,#fedf8a 100%)"></i><i style="top:419.00px;background:linear-gradient(90deg,#fece7c 0%,#fdc272 3%,#fca95f 6%,#f98e52 9.2%,#f26b44 12%,#e1504a 15.2%,#de4c4b 18.2%,#e45549 20.5%,#f47045 22.8%,#fca65d 26.8%,#fdb96a 30%,#feda86 36.8%,#fee795 42.8%,#fee999 52%,#fffbb2 56.8%,#fdfeb7 58%,#ddf0a4 65%,#cfeba5 68.2%,#d2eca5 73.5%,#ceeaa5 80.8%,#d3eca5 86.2%,#c3e6a6 90.2%,#bfe4a7 91%,#f2f9af 91.2%,#fee593 91.5%,#fffdb5 91.8%,#92d3a7 92%,#85cea6 92.2%,#8dd1a7 92.8%,#99d6a7 93%,#acdda8 93.2%,#cfeba5 93.5%,#e3f2a4 94.2%,#feffb7 95.8%,#fee08c 97.8%,#fedd88 99.5%,#fedf8a 100%)"></i><i style="top:426.62px;background:linear-gradient(90deg,#fecd7b 0%,#fdbc6d 3.2%,#fca95f 5.5%,#f88c52 9%,#f36b43 11.5%,#e2524a 14.5%,#e14f4b 17.5%,#e75a48 19.5%,#f46f44 21.2%,#fca65d 25.5%,#fdb769 28.5%,#feda86 35.2%,#fee999 41.5%,#feec9d 51.2%,#fffdb6 56.2%,#fafdb5 57.8%,#def0a4 64.8%,#d2eca5 68.2%,#d6eea5 73.8%,#d4eda5 81.8%,#d6eda5 87.2%,#c8e8a6 91.8%,#cceaa6 92%,#f8fcb3 92.2%,#fee28e 92.5%,#fbfdb5 92.8%,#90d3a7 93%,#86cea6 93.2%,#8dd1a7 93.8%,#aedea8 94.2%,#cdeaa6 94.5%,#e4f3a5 95.2%,#fdfeb7 96.5%,#fff7ac 97%,#fee18d 98.2%,#feda86 99.8%,#feda86 100%)"></i><i style="top:434.24px;background:linear-gradient(90deg,#fecd7b 0%,#fca95f 4.8%,#f8864f 9%,#f26a44 11.2%,#e45549 13.8%,#e45549 16.5%,#eb5f47 18.2%,#f57145 19.8%,#fca45c 23.8%,#fdb567 27%,#fedb87 34.2%,#feeb9b 40.5%,#feefa1 50.5%,#feffb8 55.5%,#e0f1a4 64.5%,#dbefa5 68.8%,#ddf0a4 74%,#d9efa5 83.8%,#d6eda5 90.5%,#d4eca5 92.8%,#ddf0a4 93%,#fefeb7 93.2%,#fee08c 93.5%,#f5fab1 93.8%,#91d3a7 94%,#88cfa6 94.2%,#8ed2a7 94.8%,#9dd8a7 95%,#d2eca5 95.5%,#e4f3a5 96%,#fffeb7 97.2%,#fedf8a 98.8%,#fed581 100%)"></i><i style="top:441.85px;background:linear-gradient(90deg,#fecc7a 0%,#fdab60 3.8%,#f7864f 8.5%,#f26b44 10.8%,#e65848 13%,#e85c47 15.8%,#f46d43 17.8%,#fba35c 22%,#fdb567 25.8%,#fede89 33.5%,#feec9d 39.2%,#fff2a5 49.8%,#feffb7 54.2%,#e4f3a6 62.8%,#e0f1a4 67.8%,#e1f2a4 75.8%,#ddf0a4 88.2%,#e1f2a4 93.8%,#e9f5a9 94%,#fffab1 94.2%,#fede8a 94.5%,#f0f8ad 94.8%,#92d3a7 95%,#8bd0a7 95.2%,#91d3a7 95.8%,#9dd8a7 96%,#d7eea5 96.5%,#e8f5a8 97%,#fbfdb5 97.8%,#fffdb5 98%,#fedf8a 99.2%,#fed481 100%)"></i><i style="top:449.47px;background:linear-gradient(90deg,#fecb7a 0%,#fdac60 3%,#f7834d 8.2%,#f36b43 10.2%,#e85b48 12%,#ec6246 14.8%,#f47044 16.2%,#fca35c 20.5%,#fdb466 24.2%,#fee08b 32.8%,#feee9f 38%,#fff4a9 48.8%,#fefeb7 53%,#e5f4a6 61.8%,#e4f3a5 68%,#e0f1a4 89.2%,#ebf6aa 94.8%,#f3fab0 95%,#fff4a8 95.2%,#fedd89 95.5%,#ebf6aa 95.8%,#93d4a7 96%,#8ed2a7 96.2%,#94d4a7 96.8%,#9ed8a7 97%,#daefa5 97.5%,#ebf6aa 98%,#fffeb7 98.8%,#fee28e 99.8%,#fedd88 100%)"></i><i style="top:457.09px;background:linear-gradient(90deg,#fecb79 0%,#fdab60 2.5%,#f7804c 8%,#f16844 10%,#ea5e47 11.2%,#f26b44 14%,#fba25c 18.8%,#fdb466 23%,#fee28e 32.2%,#feefa1 37.2%,#fff7ac 48%,#feffb7 51.5%,#e6f4a7 61%,#e6f4a6 68%,#e3f2a5 89.8%,#f3f9af 95.5%,#f4fab0 95.8%,#fdfeb6 96%,#fee08b 96.5%,#e7f4a8 96.8%,#94d4a7 97%,#91d3a7 97.2%,#97d5a7 97.8%,#a1d9a8 98%,#b5e1a7 98.2%,#d9efa5 98.5%,#edf7ab 99%,#fcfeb6 99.5%,#fffab1 99.8%,#fff1a4 100%)"></i><i style="top:464.71px;background:linear-gradient(90deg,#fdc272 0%,#fdaa5f 1.8%,#f67f4b 7.2%,#f26a44 9%,#f06745 10.2%,#f57245 12.2%,#fca45c 16.8%,#fdb567 21%,#fee694 31.8%,#fff2a5 37.2%,#fffdb6 45.8%,#fafdb5 48.2%,#e5f3a6 58.2%,#e6f4a7 65.5%,#e8f5a8 72%,#e5f4a6 91%,#f9fcb4 96.8%,#fffcb4 97%,#feed9d 97.2%,#fee795 97.5%,#e4f3a5 97.8%,#97d5a7 98%,#98d5a7 98.5%,#9ad7a7 98.8%,#a5daa8 99%,#bce3a7 99.2%,#ddf0a4 99.5%,#eff8ad 100%)"></i><i style="top:472.33px;background:linear-gradient(90deg,#fdb366 0%,#fb9d59 2.2%,#f67848 6.8%,#f47044 8%,#f67d4a 10.2%,#fca65d 14.2%,#fdb667 18.2%,#fee694 30%,#ffffb8 40.2%,#e5f3a6 53%,#e8f5a8 62.8%,#eef7ac 69.5%,#e8f4a8 92%,#fcfeb6 97.8%,#fffab0 98%,#feed9f 98.2%,#feed9f 98.5%,#e1f1a4 98.8%,#99d6a7 99%,#9bd7a7 99.5%,#9ed8a7 99.8%,#a8dca8 100%)"></i><i style="top:479.95px;background:linear-gradient(90deg,#fca85e 0%,#f67948 6%,#f7854e 8%,#fca55d 11.5%,#fdb668 15.8%,#fee592 28.2%,#feffb7 37%,#e8f5a8 48.2%,#eaf6aa 59.5%,#f3fab0 67.5%,#eaf6aa 93.2%,#feffb8 98.8%,#feefa1 99.2%,#fff4a8 99.5%,#dcf0a4 99.8%,#9cd7a7 100%)"></i><i style="top:487.56px;background:linear-gradient(90deg,#fb9e5a 0%,#f7844d 3.5%,#f7844d 4.8%,#fca75e 9%,#fdb86a 13.5%,#fee490 26.2%,#ffffb8 34.2%,#eef7ac 44.8%,#f4fab1 59%,#f9fcb4 66.2%,#edf7ab 94.2%,#fffeb6 99.8%,#fff8ae 100%)"></i><i style="top:495.18px;background:linear-gradient(90deg,#fb9c59 0%,#f99053 2.2%,#fa9b58 4.2%,#fdb063 7.8%,#fed27f 17.5%,#fee491 24%,#ffffb7 33%,#f4fab1 44.5%,#fdfeb7 65.5%,#eef7ac 94.8%,#fffeb6 100%)"></i></div>
<div class="hm" style="left:963.8px;top:717.0px;width:501.1px;height:508.8px"><i style="top:0.00px;background:linear-gradient(90deg,#3389bc 0%,#3389bc 3.8%,#3a91b9 4%,#3a91b9 7.2%,#4098b6 7.5%,#4098b6 9.8%,#479fb3 10%,#479fb3 11.8%,#4da6b0 12%,#4da6b0 13.2%,#54aead 13.5%,#54aead 14.5%,#5ab5aa 14.8%,#5ab5aa 15.8%,#61bca7 16%,#61bca7 16.5%,#68c3a5 16.8%,#68c3a5 17.5%,#73c7a6 17.8%,#73c7a6 18.2%,#7ecba6 18.5%,#7ecba6 19.2%,#88d0a6 19.5%,#88d0a6 22%,#7ecba6 22.2%,#7ecba6 23.5%,#73c7a6 23.8%,#73c7a6 25.2%,#68c3a5 25.5%,#68c3a5 27%,#61bca7 27.2%,#61bca7 28.5%,#5ab5aa 28.8%,#5ab5aa 29.8%,#54aead 30%,#54aead 31%,#4da6b0 31.2%,#4da6b0 32%,#479fb3 32.2%,#479fb3 32.8%,#4098b6 33%,#4098b6 33.5%,#3a91b9 33.8%,#3a91b9 34.2%,#3389bc 34.5%,#3389bc 35.2%,#3881ba 35.5%,#3881ba 36.8%,#3389bc 37%,#3a91b9 37.2%,#3a91b9 38%,#479fb3 38.2%,#479fb3 40.8%,#4098b6 41%,#4098b6 43%,#3a91b9 43.2%,#3a91b9 45.5%,#3389bc 45.8%,#3389bc 48%,#3881ba 48.2%,#3881ba 52.5%,#3e78b5 52.8%,#3e78b5 65.5%,#456fb1 65.8%,#456fb1 70.8%,#3e78b5 71%,#3e78b5 77.5%,#3881ba 77.8%,#3881ba 82.8%,#3389bc 83%,#3389bc 88.5%,#3a91b9 88.8%,#3a91b9 92.5%,#3389bc 92.8%,#3389bc 93.5%,#456fb1 93.8%,#535da9 94%,#5a54a5 94.2%,#5a54a5 98.8%,#5b4c9c 99%,#5b4c9c 100%)"></i><i style="top:7.71px;background:linear-gradient(90deg,#3389bc 0%,#3389bc 3.8%,#3a91b9 4%,#3a91b9 7%,#4098b6 7.2%,#4098b6 9.5%,#479fb3 9.8%,#479fb3 11.5%,#4da6b0 11.8%,#4da6b0 13.2%,#54aead 13.5%,#54aead 14.5%,#5ab5aa 14.8%,#5ab5aa 15.8%,#61bca7 16%,#61bca7 16.5%,#68c3a5 16.8%,#68c3a5 17.5%,#73c7a6 17.8%,#73c7a6 18.2%,#7ecba6 18.5%,#7ecba6 19.2%,#88d0a6 19.5%,#88d0a6 20.5%,#93d4a7 20.8%,#93d4a7 21%,#88d0a6 21.2%,#88d0a6 22.2%,#7ecba6 22.5%,#7ecba6 23.8%,#73c7a6 24%,#73c7a6 25.2%,#68c3a5 25.5%,#68c3a5 27%,#61bca7 27.2%,#61bca7 28.5%,#5ab5aa 28.8%,#5ab5aa 30%,#54aead 30.2%,#54aead 31.2%,#4da6b0 31.5%,#4da6b0 32.2%,#479fb3 32.5%,#479fb3 33%,#4098b6 33.2%,#4098b6 33.8%,#3a91b9 34%,#3a91b9 34.5%,#3389bc 34.8%,#3389bc 36%,#3881ba 36.2%,#3881ba 37.8%,#3389bc 38%,#3a91b9 38.2%,#3a91b9 39%,#479fb3 39.2%,#479fb3 41.8%,#4098b6 42%,#4098b6 43.8%,#3a91b9 44%,#3a91b9 46%,#3389bc 46.2%,#3389bc 48.5%,#3881ba 48.8%,#3881ba 53%,#3e78b5 53.2%,#3e78b5 64.5%,#456fb1 64.8%,#456fb1 71.8%,#3e78b5 72%,#3e78b5 77.8%,#3881ba 78%,#3881ba 83.5%,#3389bc 83.8%,#3389bc 89.5%,#3a91b9 89.8%,#3a91b9 93.5%,#3389bc 93.8%,#3389bc 94.5%,#456fb1 94.8%,#535da9 95%,#5a54a5 95.2%,#5a54a5 99.8%,#5b4c9c 100%)"></i><i style="top:15.42px;background:linear-gradient(90deg,#3389bc 0%,#3389bc 3.8%,#3a91b9 4%,#3a91b9 7%,#4098b6 7.2%,#4098b6 9.5%,#479fb3 9.8%,#479fb3 11.5%,#4da6b0 11.8%,#4da6b0 13%,#54aead 13.2%,#54aead 14.5%,#5ab5aa 14.8%,#5ab5aa 15.5%,#61bca7 15.8%,#61bca7 16.5%,#68c3a5 16.8%,#68c3a5 17.5%,#73c7a6 17.8%,#73c7a6 18.5%,#7ecba6 18.8%,#7ecba6 19.5%,#88d0a6 19.8%,#88d0a6 20.5%,#93d4a7 20.8%,#93d4a7 21.5%,#88d0a6 21.8%,#88d0a6 22.8%,#7ecba6 23%,#7ecba6 24%,#73c7a6 24.2%,#73c7a6 25.5%,#68c3a5 25.8%,#68c3a5 27.2%,#61bca7 27.5%,#61bca7 28.8%,#5ab5aa 29%,#5ab5aa 30%,#54aead 30.2%,#54aead 31.2%,#4da6b0 31.5%,#4da6b0 32.2%,#479fb3 32.5%,#479fb3 33.2%,#4098b6 33.5%,#4098b6 34%,#3a91b9 34.2%,#3a91b9 35%,#3389bc 35.2%,#3389bc 36.5%,#3881ba 36.8%,#3881ba 38.2%,#3e78b5 38.5%,#3389bc 39%,#3a91b9 39.2%,#3a91b9 40%,#479fb3 40.2%,#479fb3 42.5%,#4098b6 42.8%,#4098b6 44.5%,#3a91b9 44.8%,#3a91b9 46.5%,#3389bc 46.8%,#3389bc 49%,#3881ba 49.2%,#3881ba 53.2%,#3e78b5 53.5%,#3e78b5 63.5%,#456fb1 63.8%,#456fb1 72.5%,#3e78b5 72.8%,#3e78b5 78%,#3881ba 78.2%,#3881ba 84.2%,#3389bc 84.5%,#3389bc 90.8%,#3a91b9 91%,#3a91b9 94.5%,#3389bc 94.8%,#3389bc 95.5%,#456fb1 95.8%,#535da9 96%,#5a54a5 96.2%,#5a54a5 100%)"></i><i style="top:23.13px;background:linear-gradient(90deg,#3389bc 0%,#3389bc 3.8%,#3a91b9 4%,#3a91b9 6.8%,#4098b6 7%,#4098b6 9.2%,#479fb3 9.5%,#479fb3 11.2%,#4da6b0 11.5%,#4da6b0 13%,#54aead 13.2%,#54aead 14.2%,#5ab5aa 14.5%,#5ab5aa 15.5%,#61bca7 15.8%,#61bca7 16.5%,#68c3a5 16.8%,#68c3a5 17.5%,#73c7a6 17.8%,#73c7a6 18.5%,#7ecba6 18.8%,#7ecba6 19.5%,#88d0a6 19.8%,#88d0a6 20.5%,#93d4a7 20.8%,#93d4a7 22%,#88d0a6 22.2%,#88d0a6 23%,#7ecba6 23.2%,#7ecba6 24.2%,#73c7a6 24.5%,#73c7a6 25.8%,#68c3a5 26%,#68c3a5 27.2%,#61bca7 27.5%,#61bca7 28.8%,#5ab5aa 29%,#5ab5aa 30%,#54aead 30.2%,#54aead 31.2%,#4da6b0 31.5%,#4da6b0 32.5%,#479fb3 32.8%,#479fb3 33.5%,#4098b6 33.8%,#4098b6 34.5%,#3a91b9 34.8%,#3a91b9 35.2%,#3389bc 35.5%,#3389bc 36.5%,#3881ba 36.8%,#3881ba 39.2%,#3e78b5 39.5%,#3389bc 40%,#3a91b9 40.2%,#3a91b9 40.8%,#479fb3 41.2%,#479fb3 43.2%,#4098b6 43.5%,#4098b6 45%,#3a91b9 45.2%,#3a91b9 47%,#3389bc 47.2%,#3389bc 49.5%,#3881ba 49.8%,#3881ba 53.5%,#3e78b5 53.8%,#3e78b5 63%,#456fb1 63.2%,#456fb1 73.2%,#3e78b5 73.5%,#3e78b5 78.2%,#3881ba 78.5%,#3881ba 85.2%,#3389bc 85.5%,#3389bc 92.2%,#3a91b9 92.5%,#3a91b9 95.5%,#3389bc 95.8%,#3389bc 96.5%,#456fb1 96.8%,#535da9 97%,#5a54a5 97.2%,#5a54a5 100%)"></i><i style="top:30.84px;background:linear-gradient(90deg,#3389bc 0%,#3389bc 3.5%,#3a91b9 3.8%,#3a91b9 6.8%,#4098b6 7%,#4098b6 9%,#479fb3 9.2%,#479fb3 11.2%,#4da6b0 11.5%,#4da6b0 12.8%,#54aead 13%,#54aead 14.2%,#5ab5aa 14.5%,#5ab5aa 15.5%,#61bca7 15.8%,#61bca7 16.5%,#68c3a5 16.8%,#68c3a5 17.5%,#73c7a6 17.8%,#73c7a6 18.5%,#7ecba6 18.8%,#7ecba6 19.5%,#88d0a6 19.8%,#88d0a6 20.5%,#93d4a7 20.8%,#93d4a7 22.2%,#88d0a6 22.5%,#88d0a6 23.2%,#7ecba6 23.5%,#7ecba6 24.5%,#73c7a6 24.8%,#73c7a6 26%,#68c3a5 26.2%,#68c3a5 27.5%,#61bca7 27.8%,#61bca7 28.8%,#5ab5aa 29%,#5ab5aa 30.2%,#54aead 30.5%,#54aead 31.5%,#4da6b0 31.8%,#4da6b0 32.8%,#479fb3 33%,#479fb3 33.8%,#4098b6 34%,#4098b6 34.8%,#3a91b9 35%,#3a91b9 35.8%,#3389bc 36%,#3389bc 37%,#3881ba 37.2%,#3881ba 40.2%,#3e78b5 40.5%,#3389bc 41%,#3a91b9 41.2%,#3a91b9 41.8%,#479fb3 42.2%,#479fb3 44%,#4098b6 44.2%,#4098b6 45.8%,#3a91b9 46%,#3a91b9 47.5%,#3389bc 47.8%,#3389bc 50%,#3881ba 50.2%,#3881ba 54%,#3e78b5 54.2%,#3e78b5 62.5%,#456fb1 62.8%,#456fb1 73.8%,#3e78b5 74%,#3e78b5 78.5%,#3881ba 78.8%,#3881ba 86%,#3389bc 86.2%,#3389bc 93.8%,#3a91b9 94%,#3a91b9 96.2%,#3389bc 96.5%,#3389bc 97.2%,#3881ba 97.5%,#535da9 98%,#5a54a5 98.2%,#5a54a5 100%)"></i><i style="top:38.55px;background:linear-gradient(90deg,#3389bc 0%,#3389bc 3.5%,#3a91b9 3.8%,#3a91b9 6.5%,#4098b6 6.8%,#4098b6 9%,#479fb3 9.2%,#479fb3 11%,#4da6b0 11.2%,#4da6b0 12.8%,#54aead 13%,#54aead 14.2%,#5ab5aa 14.5%,#5ab5aa 15.5%,#61bca7 15.8%,#61bca7 16.5%,#68c3a5 16.8%,#68c3a5 17.5%,#73c7a6 17.8%,#73c7a6 18.5%,#7ecba6 18.8%,#7ecba6 19.8%,#88d0a6 20%,#88d0a6 20.5%,#93d4a7 20.8%,#93d4a7 22.8%,#88d0a6 23%,#88d0a6 23.5%,#7ecba6 23.8%,#7ecba6 24.8%,#73c7a6 25%,#73c7a6 26.2%,#68c3a5 26.5%,#68c3a5 27.5%,#61bca7 27.8%,#61bca7 28.8%,#5ab5aa 29%,#5ab5aa 30.2%,#54aead 30.5%,#54aead 31.5%,#4da6b0 31.8%,#4da6b0 33%,#479fb3 33.2%,#479fb3 34%,#4098b6 34.2%,#4098b6 35%,#3a91b9 35.2%,#3a91b9 36%,#3389bc 36.2%,#3389bc 37.8%,#3881ba 38%,#3881ba 41.2%,#3e78b5 41.5%,#3389bc 42%,#3a91b9 42.2%,#3a91b9 42.8%,#4098b6 43%,#4098b6 43.2%,#479fb3 43.5%,#479fb3 44.8%,#4098b6 45%,#4098b6 46.2%,#3a91b9 46.5%,#3a91b9 48%,#3389bc 48.2%,#3389bc 50.2%,#3881ba 50.5%,#3881ba 54.2%,#3e78b5 54.5%,#3e78b5 62.2%,#456fb1 62.5%,#456fb1 74.2%,#3e78b5 74.5%,#3e78b5 79%,#3881ba 79.2%,#3881ba 86.8%,#3389bc 87%,#3389bc 95.8%,#3a91b9 96%,#3a91b9 97.2%,#3389bc 97.5%,#3389bc 98.2%,#3881ba 98.5%,#4c66ad 98.8%,#5a54a5 99.2%,#5a54a5 100%)"></i><i style="top:46.25px;background:linear-gradient(90deg,#3389bc 0%,#3389bc 3.5%,#3a91b9 3.8%,#3a91b9 6.5%,#4098b6 6.8%,#4098b6 8.8%,#479fb3 9%,#479fb3 11%,#4da6b0 11.2%,#4da6b0 12.5%,#54aead 12.8%,#54aead 14%,#5ab5aa 14.2%,#5ab5aa 15.5%,#61bca7 15.8%,#61bca7 16.5%,#68c3a5 16.8%,#68c3a5 17.8%,#73c7a6 18%,#73c7a6 18.8%,#7ecba6 19%,#7ecba6 19.8%,#88d0a6 20%,#88d0a6 20.8%,#93d4a7 21%,#93d4a7 23%,#88d0a6 23.2%,#88d0a6 24%,#7ecba6 24.2%,#7ecba6 25%,#73c7a6 25.2%,#73c7a6 26.2%,#68c3a5 26.5%,#68c3a5 27.5%,#61bca7 27.8%,#61bca7 29%,#5ab5aa 29.2%,#5ab5aa 30.2%,#54aead 30.5%,#54aead 31.8%,#4da6b0 32%,#4da6b0 33%,#479fb3 33.2%,#479fb3 34.2%,#4098b6 34.5%,#4098b6 35.2%,#3a91b9 35.5%,#3a91b9 36.5%,#3389bc 36.8%,#3389bc 38.2%,#3881ba 38.5%,#3881ba 42.8%,#3389bc 43%,#3a91b9 43.2%,#3a91b9 43.8%,#4098b6 44%,#4098b6 44.2%,#479fb3 44.5%,#479fb3 45.8%,#4098b6 46%,#4098b6 47%,#3a91b9 47.2%,#3a91b9 48.5%,#3389bc 48.8%,#3389bc 50.8%,#3881ba 51%,#3881ba 54.5%,#3e78b5 54.8%,#3e78b5 62.2%,#456fb1 62.5%,#456fb1 74.8%,#3e78b5 75%,#3e78b5 79.2%,#3881ba 79.5%,#3881ba 87.8%,#3389bc 88%,#3389bc 99.2%,#3881ba 99.5%,#4c66ad 99.8%,#535da9 100%)"></i><i style="top:53.96px;background:linear-gradient(90deg,#3389bc 0%,#3389bc 3.2%,#3a91b9 3.5%,#3a91b9 6.2%,#4098b6 6.5%,#4098b6 8.8%,#479fb3 9%,#479fb3 10.8%,#4da6b0 11%,#4da6b0 12.5%,#54aead 12.8%,#54aead 14%,#5ab5aa 14.2%,#5ab5aa 15.5%,#61bca7 15.8%,#61bca7 16.5%,#68c3a5 16.8%,#68c3a5 17.8%,#73c7a6 18%,#73c7a6 18.8%,#7ecba6 19%,#7ecba6 19.8%,#88d0a6 20%,#88d0a6 20.8%,#93d4a7 21%,#93d4a7 21.8%,#9ed8a7 22%,#9ed8a7 22.2%,#93d4a7 22.5%,#93d4a7 23.2%,#88d0a6 23.5%,#88d0a6 24.2%,#7ecba6 24.5%,#7ecba6 25.2%,#73c7a6 25.5%,#73c7a6 26.5%,#68c3a5 26.8%,#68c3a5 27.8%,#61bca7 28%,#61bca7 29%,#5ab5aa 29.2%,#5ab5aa 30.2%,#54aead 30.5%,#54aead 31.8%,#4da6b0 32%,#4da6b0 33.2%,#479fb3 33.5%,#479fb3 34.5%,#4098b6 34.8%,#4098b6 35.5%,#3a91b9 35.8%,#3a91b9 37%,#3389bc 37.2%,#3389bc 39%,#3881ba 39.2%,#3881ba 43.8%,#3389bc 44%,#3a91b9 44.2%,#3a91b9 44.8%,#4098b6 45%,#4098b6 45.2%,#479fb3 45.5%,#479fb3 46.5%,#4098b6 46.8%,#4098b6 47.5%,#3a91b9 47.8%,#3a91b9 48.8%,#3389bc 49%,#3389bc 51%,#3881ba 51.2%,#3881ba 54.8%,#3e78b5 55%,#3e78b5 62%,#456fb1 62.2%,#456fb1 75%,#3e78b5 75.2%,#3e78b5 79.5%,#3881ba 79.8%,#3881ba 88.5%,#3389bc 88.8%,#3389bc 100%)"></i><i style="top:61.67px;background:linear-gradient(90deg,#3389bc 0%,#3389bc 3.2%,#3a91b9 3.5%,#3a91b9 6.2%,#4098b6 6.5%,#4098b6 8.5%,#479fb3 8.8%,#479fb3 10.5%,#4da6b0 10.8%,#4da6b0 12.5%,#54aead 12.8%,#54aead 14%,#5ab5aa 14.2%,#5ab5aa 15.5%,#61bca7 15.8%,#61bca7 16.5%,#68c3a5 16.8%,#68c3a5 17.8%,#73c7a6 18%,#73c7a6 18.8%,#7ecba6 19%,#7ecba6 19.8%,#88d0a6 20%,#88d0a6 20.8%,#93d4a7 21%,#93d4a7 21.8%,#9ed8a7 22%,#9ed8a7 22.8%,#93d4a7 23%,#93d4a7 23.5%,#88d0a6 23.8%,#88d0a6 24.5%,#7ecba6 24.8%,#7ecba6 25.5%,#73c7a6 25.8%,#73c7a6 26.8%,#68c3a5 27%,#68c3a5 27.8%,#61bca7 28%,#61bca7 29%,#5ab5aa 29.2%,#5ab5aa 30.5%,#54aead 30.8%,#54aead 31.8%,#4da6b0 32%,#4da6b0 33.2%,#479fb3 33.5%,#479fb3 34.8%,#4098b6 35%,#4098b6 36%,#3a91b9 36.2%,#3a91b9 37.2%,#3389bc 37.5%,#3389bc 39.8%,#3881ba 40%,#3881ba 44.8%,#3389bc 45%,#3389bc 45.2%,#3a91b9 45.5%,#3a91b9 46.2%,#479fb3 46.5%,#479fb3 46.8%,#4098b6 47%,#4098b6 48%,#3a91b9 48.2%,#3a91b9 49.5%,#3389bc 49.8%,#3389bc 51.8%,#3881ba 52%,#3881ba 55.5%,#3e78b5 55.8%,#3e78b5 62.8%,#456fb1 63%,#456fb1 75%,#3e78b5 75.2%,#3e78b5 79.2%,#3881ba 79.5%,#3881ba 88.2%,#3389bc 88.5%,#3389bc 100%)"></i><i style="top:69.38px;background:linear-gradient(90deg,#3389bc 0%,#3389bc 3.2%,#3a91b9 3.5%,#3a91b9 6%,#4098b6 6.2%,#4098b6 8.2%,#479fb3 8.5%,#479fb3 10.5%,#4da6b0 10.8%,#4da6b0 12.2%,#54aead 12.5%,#54aead 14%,#5ab5aa 14.2%,#5ab5aa 15.2%,#61bca7 15.5%,#61bca7 16.5%,#68c3a5 16.8%,#68c3a5 17.8%,#73c7a6 18%,#73c7a6 18.8%,#7ecba6 19%,#7ecba6 20%,#88d0a6 20.2%,#88d0a6 21%,#93d4a7 21.2%,#93d4a7 21.8%,#9ed8a7 22%,#9ed8a7 23.2%,#93d4a7 23.5%,#93d4a7 23.8%,#88d0a6 24%,#88d0a6 24.8%,#7ecba6 25%,#7ecba6 25.8%,#73c7a6 26%,#73c7a6 26.8%,#68c3a5 27%,#68c3a5 28%,#61bca7 28.2%,#61bca7 29.2%,#5ab5aa 29.5%,#5ab5aa 30.5%,#54aead 30.8%,#54aead 32%,#4da6b0 32.2%,#4da6b0 33.5%,#479fb3 33.8%,#479fb3 35%,#4098b6 35.2%,#4098b6 36.2%,#3a91b9 36.5%,#3a91b9 37.8%,#3389bc 38%,#3389bc 40.5%,#3881ba 40.8%,#3881ba 44.8%,#3389bc 45%,#3881ba 45.2%,#3881ba 46%,#3389bc 46.2%,#3a91b9 46.5%,#3a91b9 47.2%,#4098b6 47.5%,#4098b6 48.5%,#3a91b9 48.8%,#3a91b9 50.2%,#3389bc 50.5%,#3389bc 52.8%,#3881ba 53%,#3881ba 56.2%,#3e78b5 56.5%,#3e78b5 63.2%,#456fb1 63.5%,#456fb1 74.8%,#3e78b5 75%,#3e78b5 79%,#3881ba 79.2%,#3881ba 87.8%,#3389bc 88%,#3389bc 100%)"></i><i style="top:77.09px;background:linear-gradient(90deg,#3389bc 0%,#3389bc 3.2%,#3a91b9 3.5%,#3a91b9 6%,#4098b6 6.2%,#4098b6 8.2%,#479fb3 8.5%,#479fb3 10.2%,#4da6b0 10.5%,#4da6b0 12.2%,#54aead 12.5%,#54aead 13.8%,#5ab5aa 14%,#5ab5aa 15.2%,#61bca7 15.5%,#61bca7 16.5%,#68c3a5 16.8%,#68c3a5 17.8%,#73c7a6 18%,#73c7a6 18.8%,#7ecba6 19%,#7ecba6 20%,#88d0a6 20.2%,#88d0a6 21%,#93d4a7 21.2%,#93d4a7 21.8%,#9ed8a7 22%,#9ed8a7 23.5%,#93d4a7 23.8%,#93d4a7 24.2%,#88d0a6 24.5%,#88d0a6 25%,#7ecba6 25.2%,#7ecba6 26%,#73c7a6 26.2%,#73c7a6 27%,#68c3a5 27.2%,#68c3a5 28%,#61bca7 28.2%,#61bca7 29.2%,#5ab5aa 29.5%,#5ab5aa 30.5%,#54aead 30.8%,#54aead 32%,#4da6b0 32.2%,#4da6b0 33.8%,#479fb3 34%,#479fb3 35.2%,#4098b6 35.5%,#4098b6 36.5%,#3a91b9 36.8%,#3a91b9 38%,#3389bc 38.2%,#3389bc 41.5%,#3881ba 41.8%,#3881ba 45.8%,#3389bc 46%,#3881ba 46.2%,#3881ba 47%,#3389bc 47.2%,#3389bc 47.5%,#3a91b9 47.8%,#3a91b9 48.2%,#4098b6 48.5%,#4098b6 49.2%,#3a91b9 49.5%,#3a91b9 51%,#3389bc 51.2%,#3389bc 53.5%,#3881ba 53.8%,#3881ba 57%,#3e78b5 57.2%,#3e78b5 63.8%,#456fb1 64%,#456fb1 74.8%,#3e78b5 75%,#3e78b5 78.5%,#3881ba 78.8%,#3881ba 87%,#3389bc 87.2%,#3389bc 100%)"></i><i style="top:84.80px;background:linear-gradient(90deg,#3389bc 0%,#3389bc 3%,#3a91b9 3.2%,#3a91b9 5.8%,#4098b6 6%,#4098b6 8%,#479fb3 8.2%,#479fb3 10.2%,#4da6b0 10.5%,#4da6b0 12%,#54aead 12.2%,#54aead 13.8%,#5ab5aa 14%,#5ab5aa 15.2%,#61bca7 15.5%,#61bca7 16.5%,#68c3a5 16.8%,#68c3a5 17.8%,#73c7a6 18%,#73c7a6 18.8%,#7ecba6 19%,#7ecba6 20%,#88d0a6 20.2%,#88d0a6 21%,#93d4a7 21.2%,#93d4a7 21.8%,#9ed8a7 22%,#9ed8a7 23.8%,#93d4a7 24%,#93d4a7 24.5%,#88d0a6 24.8%,#88d0a6 25.2%,#7ecba6 25.5%,#7ecba6 26.2%,#73c7a6 26.5%,#73c7a6 27.2%,#68c3a5 27.5%,#68c3a5 28.2%,#61bca7 28.5%,#61bca7 29.2%,#5ab5aa 29.5%,#5ab5aa 30.8%,#54aead 31%,#54aead 32%,#4da6b0 32.2%,#4da6b0 33.8%,#479fb3 34%,#479fb3 35.5%,#4098b6 35.8%,#4098b6 36.8%,#3a91b9 37%,#3a91b9 38.5%,#3389bc 38.8%,#3389bc 42.2%,#3881ba 42.5%,#3881ba 46.8%,#3389bc 47%,#3881ba 47.2%,#3881ba 48%,#3389bc 48.2%,#3389bc 48.5%,#3a91b9 48.8%,#3a91b9 49.2%,#4098b6 49.5%,#4098b6 49.8%,#3a91b9 50%,#3a91b9 52%,#3389bc 52.2%,#3389bc 54.2%,#3881ba 54.5%,#3881ba 57.5%,#3e78b5 57.8%,#3e78b5 64%,#456fb1 64.2%,#456fb1 74.5%,#3e78b5 74.8%,#3e78b5 78.2%,#3881ba 78.5%,#3881ba 86.5%,#3389bc 86.8%,#3389bc 100%)"></i><i style="top:92.51px;background:linear-gradient(90deg,#3389bc 0%,#3389bc 3%,#3a91b9 3.2%,#3a91b9 5.8%,#4098b6 6%,#4098b6 8%,#479fb3 8.2%,#479fb3 10%,#4da6b0 10.2%,#4da6b0 12%,#54aead 12.2%,#54aead 13.8%,#5ab5aa 14%,#5ab5aa 15.2%,#61bca7 15.5%,#61bca7 16.5%,#68c3a5 16.8%,#68c3a5 17.8%,#73c7a6 18%,#73c7a6 18.8%,#7ecba6 19%,#7ecba6 19.8%,#88d0a6 20%,#88d0a6 20.8%,#93d4a7 21%,#93d4a7 21.5%,#9ed8a7 21.8%,#9ed8a7 22.5%,#a9dca8 22.8%,#a9dca8 23.5%,#9ed8a7 23.8%,#9ed8a7 24%,#93d4a7 24.2%,#93d4a7 24.8%,#88d0a6 25%,#88d0a6 25.5%,#7ecba6 25.8%,#7ecba6 26.5%,#73c7a6 26.8%,#73c7a6 27.2%,#68c3a5 27.5%,#68c3a5 28.2%,#61bca7 28.5%,#61bca7 29.5%,#5ab5aa 29.8%,#5ab5aa 30.8%,#54aead 31%,#54aead 32.2%,#4da6b0 32.5%,#4da6b0 34%,#479fb3 34.2%,#479fb3 35.8%,#4098b6 36%,#4098b6 37%,#3a91b9 37.2%,#3a91b9 39.2%,#3389bc 39.5%,#3389bc 43%,#3881ba 43.2%,#3881ba 47.8%,#3389bc 48%,#3881ba 48.2%,#3881ba 49%,#3389bc 49.2%,#3389bc 49.8%,#3a91b9 50%,#3a91b9 52.8%,#3389bc 53%,#3389bc 55%,#3881ba 55.2%,#3881ba 59%,#3e78b5 59.2%,#3e78b5 66.2%,#456fb1 66.5%,#456fb1 73.2%,#3e78b5 73.5%,#3e78b5 77.8%,#3881ba 78%,#3881ba 86.5%,#3389bc 86.8%,#3389bc 100%)"></i><i style="top:100.22px;background:linear-gradient(90deg,#3389bc 0%,#3389bc 3%,#3a91b9 3.2%,#3a91b9 5.8%,#4098b6 6%,#4098b6 8%,#479fb3 8.2%,#479fb3 10%,#4da6b0 10.2%,#4da6b0 12%,#54aead 12.2%,#54aead 13.8%,#5ab5aa 14%,#5ab5aa 15.2%,#61bca7 15.5%,#61bca7 16.5%,#68c3a5 16.8%,#68c3a5 17.5%,#73c7a6 17.8%,#73c7a6 18.5%,#7ecba6 18.8%,#7ecba6 19.5%,#88d0a6 19.8%,#88d0a6 20.5%,#93d4a7 20.8%,#93d4a7 21.5%,#9ed8a7 21.8%,#9ed8a7 22.2%,#a9dca8 22.5%,#a9dca8 23.8%,#9ed8a7 24%,#9ed8a7 24.2%,#93d4a7 24.5%,#93d4a7 25%,#88d0a6 25.2%,#88d0a6 25.8%,#7ecba6 26%,#7ecba6 26.5%,#73c7a6 26.8%,#73c7a6 27.5%,#68c3a5 27.8%,#68c3a5 28.5%,#61bca7 28.8%,#61bca7 29.5%,#5ab5aa 29.8%,#5ab5aa 30.8%,#54aead 31%,#54aead 32.2%,#4da6b0 32.5%,#4da6b0 34%,#479fb3 34.2%,#479fb3 35.8%,#4098b6 36%,#4098b6 37.5%,#3a91b9 37.8%,#3a91b9 40%,#3389bc 40.2%,#3389bc 43.8%,#3881ba 44%,#3881ba 48.8%,#3389bc 49%,#3389bc 49.2%,#3881ba 49.5%,#3881ba 49.8%,#3389bc 50%,#3389bc 50.8%,#3a91b9 51%,#3a91b9 53.2%,#3389bc 53.5%,#3389bc 55.5%,#3881ba 55.8%,#3881ba 60.8%,#3e78b5 61%,#3e78b5 77.2%,#3881ba 77.5%,#3881ba 86.5%,#3389bc 86.8%,#3389bc 100%)"></i><i style="top:107.93px;background:linear-gradient(90deg,#3389bc 0%,#3389bc 3%,#3a91b9 3.2%,#3a91b9 5.8%,#4098b6 6%,#4098b6 7.8%,#479fb3 8%,#479fb3 10%,#4da6b0 10.2%,#4da6b0 12%,#54aead 12.2%,#54aead 13.8%,#5ab5aa 14%,#5ab5aa 15.2%,#61bca7 15.5%,#61bca7 16.5%,#68c3a5 16.8%,#68c3a5 17.5%,#73c7a6 17.8%,#73c7a6 18.5%,#7ecba6 18.8%,#7ecba6 19.5%,#88d0a6 19.8%,#88d0a6 20.5%,#93d4a7 20.8%,#93d4a7 21.2%,#9ed8a7 21.5%,#9ed8a7 22%,#a9dca8 22.2%,#a9dca8 22.8%,#bce4a7 23%,#bce4a7 23.5%,#a9dca8 23.8%,#a9dca8 24%,#9ed8a7 24.2%,#9ed8a7 24.5%,#93d4a7 24.8%,#93d4a7 25.2%,#88d0a6 25.5%,#88d0a6 26%,#7ecba6 26.2%,#7ecba6 26.8%,#73c7a6 27%,#73c7a6 27.5%,#68c3a5 27.8%,#68c3a5 28.5%,#61bca7 28.8%,#61bca7 29.5%,#5ab5aa 29.8%,#5ab5aa 30.8%,#54aead 31%,#54aead 32.2%,#4da6b0 32.5%,#4da6b0 34.2%,#479fb3 34.5%,#479fb3 36%,#4098b6 36.2%,#4098b6 37.8%,#3a91b9 38%,#3a91b9 40.5%,#3389bc 40.8%,#3389bc 44.2%,#3881ba 44.5%,#3881ba 49.8%,#3389bc 50%,#3389bc 50.5%,#3881ba 50.8%,#3389bc 51%,#3389bc 51.8%,#3a91b9 52%,#3389bc 52.2%,#3a91b9 52.5%,#3a91b9 53.8%,#3389bc 54%,#3389bc 56.2%,#3881ba 56.5%,#3881ba 63%,#3e78b5 63.2%,#3e78b5 76.5%,#3881ba 76.8%,#3881ba 86.5%,#3389bc 86.8%,#3389bc 100%)"></i><i style="top:115.64px;background:linear-gradient(90deg,#3389bc 0%,#3389bc 3%,#3a91b9 3.2%,#3a91b9 5.5%,#4098b6 5.8%,#4098b6 7.8%,#479fb3 8%,#479fb3 10%,#4da6b0 10.2%,#4da6b0 12%,#54aead 12.2%,#54aead 13.5%,#5ab5aa 13.8%,#5ab5aa 15%,#61bca7 15.2%,#61bca7 16.2%,#68c3a5 16.5%,#68c3a5 17.5%,#73c7a6 17.8%,#73c7a6 18.5%,#7ecba6 18.8%,#7ecba6 19.2%,#88d0a6 19.5%,#88d0a6 20.2%,#93d4a7 20.5%,#93d4a7 21.2%,#9ed8a7 21.5%,#9ed8a7 21.8%,#a9dca8 22%,#a9dca8 22.5%,#bce4a7 22.8%,#bce4a7 23.8%,#a9dca8 24%,#a9dca8 24.2%,#9ed8a7 24.5%,#9ed8a7 24.8%,#93d4a7 25%,#93d4a7 25.5%,#88d0a6 25.8%,#88d0a6 26%,#7ecba6 26.2%,#7ecba6 26.8%,#73c7a6 27%,#73c7a6 27.8%,#68c3a5 28%,#68c3a5 28.5%,#61bca7 28.8%,#61bca7 29.5%,#5ab5aa 29.8%,#5ab5aa 31%,#54aead 31.2%,#54aead 32.5%,#4da6b0 32.8%,#4da6b0 34.2%,#479fb3 34.5%,#479fb3 36.2%,#4098b6 36.5%,#4098b6 38%,#3a91b9 38.2%,#3a91b9 40.8%,#3389bc 41%,#3389bc 44.8%,#3881ba 45%,#3881ba 50.8%,#3389bc 51%,#3389bc 53.2%,#3a91b9 53.5%,#3a91b9 54.2%,#3389bc 54.5%,#3389bc 57.2%,#3881ba 57.5%,#3881ba 65%,#3e78b5 65.2%,#3e78b5 75.8%,#3881ba 76%,#3881ba 86.5%,#3389bc 86.8%,#3389bc 100%)"></i><i style="top:123.35px;background:linear-gradient(90deg,#3389bc 0%,#3389bc 2.8%,#3a91b9 3%,#3a91b9 5.5%,#4098b6 5.8%,#4098b6 7.8%,#479fb3 8%,#479fb3 9.8%,#4da6b0 10%,#4da6b0 11.8%,#54aead 12%,#54aead 13.5%,#5ab5aa 13.8%,#5ab5aa 15%,#61bca7 15.2%,#61bca7 16.2%,#68c3a5 16.5%,#68c3a5 17.2%,#73c7a6 17.5%,#73c7a6 18.2%,#7ecba6 18.5%,#7ecba6 19.2%,#88d0a6 19.5%,#88d0a6 20%,#93d4a7 20.2%,#93d4a7 21%,#9ed8a7 21.2%,#9ed8a7 21.8%,#a9dca8 22%,#a9dca8 22.2%,#bce4a7 22.5%,#bce4a7 24%,#a9dca8 24.2%,#a9dca8 24.5%,#9ed8a7 24.8%,#9ed8a7 25%,#93d4a7 25.2%,#93d4a7 25.5%,#88d0a6 25.8%,#88d0a6 26.2%,#7ecba6 26.5%,#7ecba6 27%,#73c7a6 27.2%,#73c7a6 27.8%,#68c3a5 28%,#68c3a5 28.8%,#61bca7 29%,#61bca7 29.8%,#5ab5aa 30%,#5ab5aa 31%,#54aead 31.2%,#54aead 32.5%,#4da6b0 32.8%,#4da6b0 34.5%,#479fb3 34.8%,#479fb3 36.5%,#4098b6 36.8%,#4098b6 38.2%,#3a91b9 38.5%,#3a91b9 41.2%,#3389bc 41.5%,#3389bc 45.5%,#3881ba 45.8%,#3881ba 51.8%,#3389bc 52%,#3389bc 54.2%,#3a91b9 54.5%,#3a91b9 54.8%,#3389bc 55%,#3389bc 58.2%,#3881ba 58.5%,#3881ba 66.8%,#3e78b5 67%,#3e78b5 74.8%,#3881ba 75%,#3881ba 86.5%,#3389bc 86.8%,#3389bc 100%)"></i><i style="top:131.05px;background:linear-gradient(90deg,#3389bc 0%,#3389bc 2.8%,#3a91b9 3%,#3a91b9 5.5%,#4098b6 5.8%,#4098b6 7.8%,#479fb3 8%,#479fb3 9.8%,#4da6b0 10%,#4da6b0 11.8%,#54aead 12%,#54aead 13.5%,#5ab5aa 13.8%,#5ab5aa 15%,#61bca7 15.2%,#61bca7 16.2%,#68c3a5 16.5%,#68c3a5 17.2%,#73c7a6 17.5%,#73c7a6 18.2%,#7ecba6 18.5%,#7ecba6 19%,#88d0a6 19.2%,#88d0a6 20%,#93d4a7 20.2%,#93d4a7 20.8%,#9ed8a7 21%,#9ed8a7 21.5%,#a9dca8 21.8%,#a9dca8 22%,#bce4a7 22.2%,#bce4a7 22.8%,#d2eca5 23%,#d2eca5 23.8%,#bce4a7 24%,#bce4a7 24.2%,#a9dca8 24.5%,#9ed8a7 24.8%,#9ed8a7 25.2%,#93d4a7 25.5%,#93d4a7 25.8%,#88d0a6 26%,#88d0a6 26.5%,#7ecba6 26.8%,#7ecba6 27.2%,#73c7a6 27.5%,#73c7a6 28%,#68c3a5 28.2%,#68c3a5 28.8%,#61bca7 29%,#61bca7 29.8%,#5ab5aa 30%,#5ab5aa 31%,#54aead 31.2%,#54aead 32.8%,#4da6b0 33%,#4da6b0 34.5%,#479fb3 34.8%,#479fb3 36.8%,#4098b6 37%,#4098b6 38.5%,#3a91b9 38.8%,#3a91b9 41.8%,#3389bc 42%,#3389bc 46%,#3881ba 46.2%,#3881ba 52.8%,#3389bc 53%,#3389bc 59.2%,#3881ba 59.5%,#3881ba 68%,#3e78b5 68.2%,#3e78b5 74%,#3881ba 74.2%,#3881ba 87%,#3389bc 87.2%,#3389bc 100%)"></i><i style="top:138.76px;background:linear-gradient(90deg,#3389bc 0%,#3389bc 2.8%,#3a91b9 3%,#3a91b9 5.5%,#4098b6 5.8%,#4098b6 7.5%,#479fb3 7.8%,#479fb3 9.8%,#4da6b0 10%,#4da6b0 11.8%,#54aead 12%,#54aead 13.5%,#5ab5aa 13.8%,#5ab5aa 15%,#61bca7 15.2%,#61bca7 16%,#68c3a5 16.2%,#68c3a5 17.2%,#73c7a6 17.5%,#73c7a6 18%,#7ecba6 18.2%,#7ecba6 19%,#88d0a6 19.2%,#88d0a6 19.8%,#93d4a7 20%,#93d4a7 20.8%,#9ed8a7 21%,#9ed8a7 21.5%,#a9dca8 21.8%,#a9dca8 22%,#bce4a7 22.2%,#bce4a7 22.5%,#d2eca5 22.8%,#d2eca5 24%,#bce4a7 24.2%,#bce4a7 24.5%,#a9dca8 24.8%,#9ed8a7 25%,#9ed8a7 25.2%,#93d4a7 25.5%,#93d4a7 26%,#88d0a6 26.2%,#88d0a6 26.5%,#7ecba6 26.8%,#7ecba6 27.2%,#73c7a6 27.5%,#73c7a6 28%,#68c3a5 28.2%,#68c3a5 28.8%,#61bca7 29%,#61bca7 29.8%,#5ab5aa 30%,#5ab5aa 31%,#54aead 31.2%,#54aead 32.8%,#4da6b0 33%,#4da6b0 34.8%,#479fb3 35%,#479fb3 37%,#4098b6 37.2%,#4098b6 39%,#3a91b9 39.2%,#3a91b9 42%,#3389bc 42.2%,#3389bc 46.5%,#3881ba 46.8%,#3881ba 53.8%,#3389bc 54%,#3389bc 60%,#3881ba 60.2%,#3881ba 69.2%,#3e78b5 69.5%,#3e78b5 73%,#3881ba 73.2%,#3881ba 87.5%,#3389bc 87.8%,#3389bc 100%)"></i><i style="top:146.47px;background:linear-gradient(90deg,#3389bc 0%,#3389bc 2.8%,#3a91b9 3%,#3a91b9 5.2%,#4098b6 5.5%,#4098b6 7.5%,#479fb3 7.8%,#479fb3 9.5%,#4da6b0 9.8%,#4da6b0 11.8%,#54aead 12%,#54aead 13.5%,#5ab5aa 13.8%,#5ab5aa 15%,#61bca7 15.2%,#61bca7 16%,#68c3a5 16.2%,#68c3a5 17%,#73c7a6 17.2%,#73c7a6 18%,#7ecba6 18.2%,#7ecba6 18.8%,#88d0a6 19%,#88d0a6 19.8%,#93d4a7 20%,#93d4a7 20.5%,#9ed8a7 20.8%,#9ed8a7 21.2%,#a9dca8 21.5%,#a9dca8 21.8%,#bce4a7 22%,#bce4a7 22.2%,#d2eca5 22.5%,#d2eca5 23%,#e5f3a6 23.2%,#e5f3a6 23.8%,#d2eca5 24%,#d2eca5 24.2%,#a9dca8 24.8%,#a9dca8 25%,#9ed8a7 25.2%,#9ed8a7 25.5%,#93d4a7 25.8%,#93d4a7 26.2%,#88d0a6 26.5%,#88d0a6 26.8%,#7ecba6 27%,#7ecba6 27.5%,#73c7a6 27.8%,#73c7a6 28%,#68c3a5 28.2%,#68c3a5 29%,#61bca7 29.2%,#61bca7 29.8%,#5ab5aa 30%,#5ab5aa 31.2%,#54aead 31.5%,#54aead 32.8%,#4da6b0 33%,#4da6b0 34.8%,#479fb3 35%,#479fb3 37%,#4098b6 37.2%,#4098b6 39.2%,#3a91b9 39.5%,#3a91b9 42.5%,#3389bc 42.8%,#3389bc 47.2%,#3881ba 47.5%,#3881ba 54.8%,#3389bc 55%,#3389bc 60.8%,#3881ba 61%,#3881ba 88%,#3389bc 88.2%,#3389bc 100%)"></i><i style="top:154.18px;background:linear-gradient(90deg,#3389bc 0%,#3389bc 2.8%,#3a91b9 3%,#3a91b9 5.2%,#4098b6 5.5%,#4098b6 7.5%,#479fb3 7.8%,#479fb3 9.5%,#4da6b0 9.8%,#4da6b0 11.5%,#54aead 11.8%,#54aead 13.5%,#5ab5aa 13.8%,#5ab5aa 14.8%,#61bca7 15%,#61bca7 16%,#68c3a5 16.2%,#68c3a5 17%,#73c7a6 17.2%,#73c7a6 18%,#7ecba6 18.2%,#7ecba6 18.8%,#88d0a6 19%,#88d0a6 19.5%,#93d4a7 19.8%,#93d4a7 20.2%,#9ed8a7 20.5%,#9ed8a7 21.2%,#a9dca8 21.5%,#a9dca8 21.8%,#bce4a7 22%,#bce4a7 22.2%,#d2eca5 22.5%,#d2eca5 22.8%,#e5f3a6 23%,#e5f3a6 24%,#d2eca5 24.2%,#d2eca5 24.5%,#a9dca8 25%,#a9dca8 25.2%,#9ed8a7 25.5%,#9ed8a7 25.8%,#93d4a7 26%,#93d4a7 26.2%,#88d0a6 26.5%,#88d0a6 27%,#7ecba6 27.2%,#7ecba6 27.5%,#73c7a6 27.8%,#73c7a6 28.2%,#68c3a5 28.5%,#68c3a5 29%,#61bca7 29.2%,#61bca7 30%,#5ab5aa 30.2%,#5ab5aa 31.2%,#54aead 31.5%,#54aead 33%,#4da6b0 33.2%,#4da6b0 35%,#479fb3 35.2%,#479fb3 37.2%,#4098b6 37.5%,#4098b6 39.5%,#3a91b9 39.8%,#3a91b9 43%,#3389bc 43.2%,#3389bc 47.8%,#3881ba 48%,#3881ba 55.8%,#3389bc 56%,#3389bc 61.5%,#3881ba 61.8%,#3881ba 88.5%,#3389bc 88.8%,#3389bc 100%)"></i><i style="top:161.89px;background:linear-gradient(90deg,#3389bc 0%,#3389bc 2.5%,#3a91b9 2.8%,#3a91b9 5.2%,#4098b6 5.5%,#4098b6 7.2%,#479fb3 7.5%,#479fb3 9.5%,#4da6b0 9.8%,#4da6b0 11.5%,#54aead 11.8%,#54aead 13.2%,#5ab5aa 13.5%,#5ab5aa 14.8%,#61bca7 15%,#61bca7 16%,#68c3a5 16.2%,#68c3a5 17%,#73c7a6 17.2%,#73c7a6 17.8%,#7ecba6 18%,#7ecba6 18.8%,#88d0a6 19%,#88d0a6 19.5%,#93d4a7 19.8%,#93d4a7 20.2%,#9ed8a7 20.5%,#9ed8a7 21%,#a9dca8 21.2%,#a9dca8 21.8%,#d2eca5 22.2%,#d2eca5 22.5%,#e5f3a6 22.8%,#e5f3a6 23.2%,#f2f9af 23.5%,#f2f9af 23.8%,#e5f3a6 24%,#e5f3a6 24.2%,#bce4a7 24.8%,#bce4a7 25%,#a9dca8 25.2%,#9ed8a7 25.5%,#9ed8a7 26%,#93d4a7 26.2%,#93d4a7 26.5%,#88d0a6 26.8%,#88d0a6 27%,#7ecba6 27.2%,#7ecba6 27.8%,#73c7a6 28%,#73c7a6 28.2%,#68c3a5 28.5%,#68c3a5 29%,#61bca7 29.2%,#61bca7 30%,#5ab5aa 30.2%,#5ab5aa 31.2%,#54aead 31.5%,#54aead 33%,#4da6b0 33.2%,#4da6b0 35.2%,#479fb3 35.5%,#479fb3 37.5%,#4098b6 37.8%,#4098b6 39.8%,#3a91b9 40%,#3a91b9 43.2%,#3389bc 43.5%,#3389bc 48.2%,#3881ba 48.5%,#3881ba 55.2%,#3e78b5 55.5%,#3881ba 55.8%,#3881ba 56.8%,#3389bc 57%,#3389bc 58%,#3881ba 58.2%,#3881ba 58.5%,#3389bc 58.8%,#3389bc 62.5%,#3881ba 62.8%,#3881ba 89%,#3389bc 89.2%,#3389bc 100%)"></i><i style="top:169.60px;background:linear-gradient(90deg,#3389bc 0%,#3389bc 2.5%,#3a91b9 2.8%,#3a91b9 5.2%,#4098b6 5.5%,#4098b6 7.2%,#479fb3 7.5%,#479fb3 9.5%,#4da6b0 9.8%,#4da6b0 11.5%,#54aead 11.8%,#54aead 13.2%,#5ab5aa 13.5%,#5ab5aa 14.8%,#61bca7 15%,#61bca7 16%,#68c3a5 16.2%,#68c3a5 16.8%,#73c7a6 17%,#73c7a6 17.8%,#7ecba6 18%,#7ecba6 18.5%,#88d0a6 18.8%,#88d0a6 19.2%,#93d4a7 19.5%,#93d4a7 20%,#9ed8a7 20.2%,#9ed8a7 20.8%,#a9dca8 21%,#a9dca8 21.5%,#bce4a7 21.8%,#bce4a7 22%,#d2eca5 22.2%,#d2eca5 22.5%,#e5f3a6 22.8%,#e5f3a6 23%,#f2f9af 23.2%,#f2f9af 24%,#e5f3a6 24.2%,#e5f3a6 24.5%,#a9dca8 25.2%,#a9dca8 25.5%,#9ed8a7 25.8%,#9ed8a7 26%,#93d4a7 26.2%,#93d4a7 26.5%,#88d0a6 26.8%,#88d0a6 27.2%,#7ecba6 27.5%,#7ecba6 27.8%,#73c7a6 28%,#73c7a6 28.2%,#68c3a5 28.5%,#68c3a5 29%,#61bca7 29.2%,#61bca7 30%,#5ab5aa 30.2%,#5ab5aa 31.2%,#54aead 31.5%,#54aead 33%,#4da6b0 33.2%,#4da6b0 35.2%,#479fb3 35.5%,#479fb3 37.8%,#4098b6 38%,#4098b6 40%,#3a91b9 40.2%,#3a91b9 43.8%,#3389bc 44%,#3389bc 49%,#3881ba 49.2%,#3881ba 56.2%,#3e78b5 56.5%,#3881ba 56.8%,#3881ba 58%,#3389bc 58.2%,#3389bc 59%,#3881ba 59.2%,#3881ba 59.5%,#3389bc 59.8%,#3389bc 63.2%,#3881ba 63.5%,#3881ba 89.2%,#3389bc 89.5%,#3389bc 100%)"></i><i style="top:177.31px;background:linear-gradient(90deg,#3389bc 0%,#3389bc 2.5%,#3a91b9 2.8%,#3a91b9 5.2%,#4098b6 5.5%,#4098b6 7.2%,#479fb3 7.5%,#479fb3 9.5%,#4da6b0 9.8%,#4da6b0 11.5%,#54aead 11.8%,#54aead 13.2%,#5ab5aa 13.5%,#5ab5aa 14.8%,#61bca7 15%,#61bca7 15.8%,#68c3a5 16%,#68c3a5 16.8%,#73c7a6 17%,#73c7a6 17.8%,#7ecba6 18%,#7ecba6 18.5%,#88d0a6 18.8%,#88d0a6 19.2%,#93d4a7 19.5%,#93d4a7 20%,#9ed8a7 20.2%,#9ed8a7 20.5%,#a9dca8 20.8%,#a9dca8 21.2%,#bce4a7 21.5%,#bce4a7 21.8%,#d2eca5 22%,#d2eca5 22.2%,#e5f3a6 22.5%,#f2f9af 22.8%,#f2f9af 23%,#ffffb8 23.2%,#ffffb8 24%,#e5f3a6 24.5%,#bce4a7 25%,#bce4a7 25.2%,#a9dca8 25.5%,#a9dca8 25.8%,#9ed8a7 26%,#9ed8a7 26.2%,#93d4a7 26.5%,#93d4a7 26.8%,#88d0a6 27%,#88d0a6 27.2%,#7ecba6 27.5%,#7ecba6 27.8%,#73c7a6 28%,#73c7a6 28.5%,#68c3a5 28.8%,#68c3a5 29.2%,#61bca7 29.5%,#61bca7 30%,#5ab5aa 30.2%,#5ab5aa 31.2%,#54aead 31.5%,#54aead 33%,#4da6b0 33.2%,#4da6b0 35.2%,#479fb3 35.5%,#479fb3 37.8%,#4098b6 38%,#4098b6 40.2%,#3a91b9 40.5%,#3a91b9 44.2%,#3389bc 44.5%,#3389bc 49.5%,#3881ba 49.8%,#3881ba 57.2%,#3e78b5 57.5%,#3881ba 57.8%,#3881ba 59%,#3389bc 59.2%,#3389bc 60%,#3881ba 60.2%,#3881ba 60.8%,#3389bc 61%,#3389bc 64.2%,#3881ba 64.5%,#3881ba 89.2%,#3389bc 89.5%,#3389bc 100%)"></i><i style="top:185.02px;background:linear-gradient(90deg,#3389bc 0%,#3389bc 2.5%,#3a91b9 2.8%,#3a91b9 5.2%,#4098b6 5.5%,#4098b6 7.2%,#479fb3 7.5%,#479fb3 9.5%,#4da6b0 9.8%,#4da6b0 11.5%,#54aead 11.8%,#54aead 13.2%,#5ab5aa 13.5%,#5ab5aa 14.8%,#61bca7 15%,#61bca7 15.8%,#68c3a5 16%,#68c3a5 16.8%,#73c7a6 17%,#73c7a6 17.5%,#7ecba6 17.8%,#7ecba6 18.2%,#88d0a6 18.5%,#88d0a6 19%,#93d4a7 19.2%,#93d4a7 19.8%,#9ed8a7 20%,#9ed8a7 20.5%,#a9dca8 20.8%,#a9dca8 21%,#bce4a7 21.2%,#bce4a7 21.5%,#d2eca5 21.8%,#d2eca5 22%,#e5f3a6 22.2%,#f2f9af 22.5%,#f2f9af 22.8%,#ffffb8 23%,#ffffb8 23.2%,#fff1a4 23.5%,#fff1a4 23.8%,#ffffb8 24%,#ffffb8 24.2%,#e5f3a6 24.8%,#bce4a7 25.2%,#bce4a7 25.5%,#a9dca8 25.8%,#9ed8a7 26%,#9ed8a7 26.2%,#93d4a7 26.5%,#93d4a7 26.8%,#88d0a6 27%,#88d0a6 27.2%,#7ecba6 27.5%,#7ecba6 27.8%,#73c7a6 28%,#73c7a6 28.5%,#68c3a5 28.8%,#68c3a5 29.2%,#61bca7 29.5%,#61bca7 30%,#5ab5aa 30.2%,#5ab5aa 31.2%,#54aead 31.5%,#54aead 33%,#4da6b0 33.2%,#4da6b0 35.5%,#479fb3 35.8%,#479fb3 38%,#4098b6 38.2%,#4098b6 40.5%,#3a91b9 40.8%,#3a91b9 44.5%,#3389bc 44.8%,#3389bc 50.2%,#3881ba 50.5%,#3881ba 58%,#3e78b5 58.2%,#3e78b5 58.5%,#3881ba 58.8%,#3881ba 60%,#3389bc 60.2%,#3389bc 61%,#3881ba 61.2%,#3881ba 61.8%,#3389bc 62%,#3389bc 65.2%,#3881ba 65.5%,#3881ba 88.8%,#3389bc 89%,#3389bc 100%)"></i><i style="top:192.73px;background:linear-gradient(90deg,#3389bc 0%,#3389bc 2.5%,#3a91b9 2.8%,#3a91b9 5.2%,#4098b6 5.5%,#4098b6 7.2%,#479fb3 7.5%,#479fb3 9.5%,#4da6b0 9.8%,#4da6b0 11.5%,#54aead 11.8%,#54aead 13.2%,#5ab5aa 13.5%,#5ab5aa 14.8%,#61bca7 15%,#61bca7 15.8%,#68c3a5 16%,#68c3a5 16.8%,#73c7a6 17%,#73c7a6 17.5%,#7ecba6 17.8%,#7ecba6 18.2%,#88d0a6 18.5%,#88d0a6 19%,#93d4a7 19.2%,#93d4a7 19.5%,#9ed8a7 19.8%,#9ed8a7 20.2%,#a9dca8 20.5%,#a9dca8 20.8%,#bce4a7 21%,#bce4a7 21.5%,#e5f3a6 22%,#e5f3a6 22.2%,#ffffb8 22.8%,#fff1a4 23%,#fff1a4 23.5%,#fee390 23.8%,#fff1a4 24%,#fff1a4 24.2%,#ffffb8 24.5%,#e5f3a6 24.8%,#bce4a7 25.2%,#bce4a7 25.5%,#a9dca8 25.8%,#a9dca8 26%,#9ed8a7 26.2%,#9ed8a7 26.5%,#88d0a6 27%,#88d0a6 27.2%,#7ecba6 27.5%,#7ecba6 28%,#73c7a6 28.2%,#73c7a6 28.5%,#68c3a5 28.8%,#68c3a5 29.2%,#61bca7 29.5%,#61bca7 30%,#5ab5aa 30.2%,#5ab5aa 31.2%,#54aead 31.5%,#54aead 33.2%,#4da6b0 33.5%,#4da6b0 35.5%,#479fb3 35.8%,#479fb3 38.2%,#4098b6 38.5%,#4098b6 40.8%,#3a91b9 41%,#3a91b9 45%,#3389bc 45.2%,#3389bc 50.8%,#3881ba 51%,#3881ba 59%,#3e78b5 59.2%,#3e78b5 59.5%,#3881ba 59.8%,#3881ba 61%,#3389bc 61.2%,#3389bc 62%,#3881ba 62.2%,#3881ba 62.8%,#3389bc 63%,#3389bc 66.2%,#3881ba 66.5%,#3881ba 88%,#3389bc 88.2%,#3389bc 100%)"></i><i style="top:200.44px;background:linear-gradient(90deg,#3389bc 0%,#3389bc 2.5%,#3a91b9 2.8%,#3a91b9 5%,#4098b6 5.2%,#4098b6 7.2%,#479fb3 7.5%,#479fb3 9.2%,#4da6b0 9.5%,#4da6b0 11.5%,#54aead 11.8%,#54aead 13.2%,#5ab5aa 13.5%,#5ab5aa 14.8%,#61bca7 15%,#61bca7 15.8%,#68c3a5 16%,#68c3a5 16.8%,#73c7a6 17%,#73c7a6 17.5%,#7ecba6 17.8%,#7ecba6 18.2%,#88d0a6 18.5%,#88d0a6 19%,#93d4a7 19.2%,#93d4a7 19.5%,#9ed8a7 19.8%,#9ed8a7 20.2%,#a9dca8 20.5%,#a9dca8 20.8%,#bce4a7 21%,#bce4a7 21.2%,#e5f3a6 21.8%,#ffffb8 22.2%,#fee390 22.8%,#fee390 23%,#fec978 23.5%,#fec978 23.8%,#fee390 24.2%,#fff1a4 24.5%,#f2f9af 24.8%,#e5f3a6 25%,#a9dca8 25.8%,#a9dca8 26%,#9ed8a7 26.2%,#9ed8a7 26.5%,#88d0a6 27%,#88d0a6 27.2%,#7ecba6 27.5%,#7ecba6 28%,#73c7a6 28.2%,#73c7a6 28.5%,#68c3a5 28.8%,#68c3a5 29.2%,#61bca7 29.5%,#61bca7 30%,#5ab5aa 30.2%,#5ab5aa 31.5%,#54aead 31.8%,#54aead 33.2%,#4da6b0 33.5%,#4da6b0 35.8%,#479fb3 36%,#479fb3 38.2%,#4098b6 38.5%,#4098b6 40.8%,#3a91b9 41%,#3a91b9 45%,#3389bc 45.2%,#3389bc 51%,#3881ba 51.2%,#3881ba 59.5%,#3e78b5 59.8%,#3e78b5 60.5%,#3881ba 60.8%,#3881ba 62%,#3389bc 62.2%,#3389bc 63%,#3881ba 63.2%,#3881ba 64%,#3389bc 64.2%,#3389bc 67.5%,#3881ba 67.8%,#3881ba 86%,#3389bc 86.2%,#3389bc 100%)"></i><i style="top:208.15px;background:linear-gradient(90deg,#3389bc 0%,#3389bc 2.5%,#3a91b9 2.8%,#3a91b9 5%,#4098b6 5.2%,#4098b6 7%,#479fb3 7.2%,#479fb3 9.2%,#4da6b0 9.5%,#4da6b0 11.5%,#54aead 11.8%,#54aead 13.2%,#5ab5aa 13.5%,#5ab5aa 14.8%,#61bca7 15%,#61bca7 15.8%,#68c3a5 16%,#68c3a5 16.8%,#73c7a6 17%,#73c7a6 17.5%,#7ecba6 17.8%,#7ecba6 18.2%,#88d0a6 18.5%,#88d0a6 19%,#93d4a7 19.2%,#93d4a7 19.5%,#9ed8a7 19.8%,#9ed8a7 20%,#a9dca8 20.2%,#a9dca8 20.5%,#bce4a7 20.8%,#bce4a7 21%,#d2eca5 21.2%,#d2eca5 21.5%,#e5f3a6 21.8%,#f2f9af 22%,#fff1a4 22.2%,#fee390 22.5%,#fdaf62 23.5%,#fdaf62 23.8%,#fec978 24.2%,#fee390 24.5%,#ffffb8 24.8%,#f2f9af 25%,#d2eca5 25.2%,#bce4a7 25.5%,#bce4a7 25.8%,#a9dca8 26%,#9ed8a7 26.2%,#9ed8a7 26.5%,#93d4a7 26.8%,#93d4a7 27%,#88d0a6 27.2%,#88d0a6 27.5%,#7ecba6 27.8%,#7ecba6 28%,#73c7a6 28.2%,#73c7a6 28.5%,#68c3a5 28.8%,#68c3a5 29.2%,#61bca7 29.5%,#61bca7 30.2%,#5ab5aa 30.5%,#5ab5aa 31.5%,#54aead 31.8%,#54aead 33.2%,#4da6b0 33.5%,#4da6b0 35.8%,#479fb3 36%,#479fb3 38.5%,#4098b6 38.8%,#4098b6 41%,#3a91b9 41.2%,#3a91b9 45.2%,#3389bc 45.5%,#3389bc 51.2%,#3881ba 51.5%,#3881ba 59.8%,#3e78b5 60%,#3e78b5 61.5%,#3881ba 61.8%,#3881ba 63%,#3389bc 63.2%,#3389bc 64%,#3881ba 64.2%,#3881ba 65%,#3389bc 65.2%,#3389bc 68.8%,#3881ba 69%,#3881ba 77%,#3389bc 77.2%,#3389bc 100%)"></i><i style="top:215.85px;background:linear-gradient(90deg,#3389bc 0%,#3389bc 2.5%,#3a91b9 2.8%,#3a91b9 5%,#4098b6 5.2%,#4098b6 7%,#479fb3 7.2%,#479fb3 9%,#4da6b0 9.2%,#4da6b0 11.5%,#54aead 11.8%,#54aead 13.2%,#5ab5aa 13.5%,#5ab5aa 14.8%,#61bca7 15%,#61bca7 16%,#68c3a5 16.2%,#68c3a5 16.8%,#73c7a6 17%,#73c7a6 17.5%,#7ecba6 17.8%,#7ecba6 18.2%,#88d0a6 18.5%,#88d0a6 19%,#93d4a7 19.2%,#93d4a7 19.5%,#9ed8a7 19.8%,#9ed8a7 20%,#a9dca8 20.2%,#a9dca8 20.5%,#bce4a7 20.8%,#bce4a7 21%,#e5f3a6 21.5%,#ffffb8 22%,#fee390 22.2%,#fed683 22.5%,#fdbc6d 22.8%,#fdaf62 23%,#fb9e5a 23.5%,#fb9e5a 23.8%,#fca65d 24%,#fdbc6d 24.2%,#fed683 24.5%,#fff1a4 24.8%,#f2f9af 25%,#e5f3a6 25.2%,#a9dca8 26%,#a9dca8 26.2%,#93d4a7 26.8%,#93d4a7 27%,#88d0a6 27.2%,#88d0a6 27.5%,#7ecba6 27.8%,#7ecba6 28%,#73c7a6 28.2%,#73c7a6 28.5%,#68c3a5 28.8%,#68c3a5 29.2%,#61bca7 29.5%,#61bca7 30.2%,#5ab5aa 30.5%,#5ab5aa 31.5%,#54aead 31.8%,#54aead 33.5%,#4da6b0 33.8%,#4da6b0 36%,#479fb3 36.2%,#479fb3 38.5%,#4098b6 38.8%,#4098b6 41%,#3a91b9 41.2%,#3a91b9 45.2%,#3389bc 45.5%,#3389bc 51.5%,#3881ba 51.8%,#3881ba 60.2%,#3e78b5 60.5%,#3e78b5 62.8%,#3881ba 63%,#3881ba 64.2%,#3389bc 64.5%,#3389bc 65%,#3881ba 65.2%,#3881ba 66%,#3389bc 66.2%,#3389bc 70.5%,#3881ba 70.8%,#3881ba 75.2%,#3389bc 75.5%,#3389bc 100%)"></i><i style="top:223.56px;background:linear-gradient(90deg,#3389bc 0%,#3389bc 2.5%,#3a91b9 2.8%,#3a91b9 4.8%,#4098b6 5%,#4098b6 6.8%,#479fb3 7%,#479fb3 9%,#4da6b0 9.2%,#4da6b0 11.2%,#54aead 11.5%,#54aead 13.2%,#5ab5aa 13.5%,#5ab5aa 14.8%,#61bca7 15%,#61bca7 15.8%,#68c3a5 16%,#68c3a5 16.8%,#73c7a6 17%,#73c7a6 17.5%,#7ecba6 17.8%,#7ecba6 18.2%,#88d0a6 18.5%,#88d0a6 18.8%,#93d4a7 19%,#93d4a7 19.2%,#9ed8a7 19.5%,#9ed8a7 19.8%,#a9dca8 20%,#a9dca8 20.2%,#bce4a7 20.5%,#bce4a7 20.8%,#d2eca5 21%,#d2eca5 21.2%,#e5f3a6 21.5%,#ffffb8 21.8%,#fff1a4 22%,#fed683 22.2%,#fdbc6d 22.5%,#fb9e5a 23%,#f88d52 23.5%,#f88d52 23.8%,#fa9556 24%,#fca65d 24.2%,#fec978 24.5%,#fee390 24.8%,#ffffb8 25%,#e5f3a6 25.2%,#a9dca8 26%,#a9dca8 26.2%,#93d4a7 26.8%,#93d4a7 27%,#88d0a6 27.2%,#88d0a6 27.5%,#7ecba6 27.8%,#7ecba6 28%,#73c7a6 28.2%,#73c7a6 28.5%,#68c3a5 28.8%,#68c3a5 29.2%,#61bca7 29.5%,#61bca7 30.2%,#5ab5aa 30.5%,#5ab5aa 31.8%,#54aead 32%,#54aead 33.5%,#4da6b0 33.8%,#4da6b0 36%,#479fb3 36.2%,#479fb3 38.8%,#4098b6 39%,#4098b6 41.2%,#3a91b9 41.5%,#3a91b9 45.5%,#3389bc 45.8%,#3389bc 51.5%,#3881ba 51.8%,#3881ba 60.5%,#3e78b5 60.8%,#3e78b5 63.8%,#3881ba 64%,#3881ba 65.2%,#3389bc 65.5%,#3389bc 66%,#3881ba 66.2%,#3881ba 67%,#3389bc 67.2%,#3389bc 100%)"></i><i style="top:231.27px;background:linear-gradient(90deg,#3389bc 0%,#3389bc 2.2%,#3a91b9 2.5%,#3a91b9 4.8%,#4098b6 5%,#4098b6 6.8%,#479fb3 7%,#479fb3 8.8%,#4da6b0 9%,#4da6b0 11.2%,#54aead 11.5%,#54aead 13.2%,#5ab5aa 13.5%,#5ab5aa 14.8%,#61bca7 15%,#61bca7 15.8%,#68c3a5 16%,#68c3a5 16.8%,#73c7a6 17%,#73c7a6 17.5%,#7ecba6 17.8%,#7ecba6 18%,#88d0a6 18.2%,#88d0a6 18.8%,#93d4a7 19%,#93d4a7 19.2%,#9ed8a7 19.5%,#9ed8a7 19.8%,#a9dca8 20%,#a9dca8 20.2%,#d2eca5 20.8%,#d2eca5 21%,#e5f3a6 21.2%,#ffffb8 21.8%,#fee390 22%,#fdaf62 22.5%,#f88d52 23%,#f7844e 23.2%,#f7844e 23.8%,#f88d52 24%,#fb9e5a 24.2%,#fdbc6d 24.5%,#fee390 24.8%,#ffffb8 25%,#e5f3a6 25.2%,#bce4a7 25.8%,#bce4a7 26%,#a9dca8 26.2%,#9ed8a7 26.5%,#9ed8a7 26.8%,#88d0a6 27.2%,#88d0a6 27.5%,#7ecba6 27.8%,#7ecba6 28%,#73c7a6 28.2%,#73c7a6 28.8%,#68c3a5 29%,#68c3a5 29.5%,#61bca7 29.8%,#61bca7 30.2%,#5ab5aa 30.5%,#5ab5aa 31.8%,#54aead 32%,#54aead 33.5%,#4da6b0 33.8%,#4da6b0 36.2%,#479fb3 36.5%,#479fb3 38.8%,#4098b6 39%,#4098b6 41.2%,#3a91b9 41.5%,#3a91b9 45.5%,#3389bc 45.8%,#3389bc 51.8%,#3881ba 52%,#3881ba 60.8%,#3e78b5 61%,#3e78b5 64.8%,#3881ba 65%,#3881ba 66.2%,#3389bc 66.5%,#3389bc 67.2%,#3881ba 67.5%,#3881ba 68%,#3389bc 68.2%,#3389bc 100%)"></i><i style="top:238.98px;background:linear-gradient(90deg,#3389bc 0%,#3389bc 2.2%,#3a91b9 2.5%,#3a91b9 4.5%,#4098b6 4.8%,#4098b6 6.5%,#479fb3 6.8%,#479fb3 8.8%,#4da6b0 9%,#4da6b0 11.2%,#54aead 11.5%,#54aead 13.2%,#5ab5aa 13.5%,#5ab5aa 14.5%,#61bca7 14.8%,#61bca7 15.8%,#68c3a5 16%,#68c3a5 16.5%,#73c7a6 16.8%,#73c7a6 17.2%,#7ecba6 17.5%,#7ecba6 18%,#88d0a6 18.2%,#88d0a6 18.5%,#93d4a7 18.8%,#93d4a7 19%,#9ed8a7 19.2%,#9ed8a7 19.5%,#a9dca8 19.8%,#a9dca8 20%,#bce4a7 20.2%,#bce4a7 20.5%,#e5f3a6 21%,#e5f3a6 21.2%,#ffffb8 21.5%,#fff1a4 21.8%,#fed683 22%,#fb9e5a 22.5%,#f88d52 22.8%,#f57346 23.5%,#f57346 23.8%,#f7844e 24%,#fb9e5a 24.2%,#fdaf62 24.5%,#fed683 24.8%,#ffffb8 25%,#e5f3a6 25.5%,#a9dca8 26.2%,#9ed8a7 26.5%,#9ed8a7 26.8%,#93d4a7 27%,#93d4a7 27.2%,#7ecba6 27.8%,#7ecba6 28%,#73c7a6 28.2%,#73c7a6 28.8%,#68c3a5 29%,#68c3a5 29.5%,#61bca7 29.8%,#61bca7 30.5%,#5ab5aa 30.8%,#5ab5aa 31.8%,#54aead 32%,#54aead 33.8%,#4da6b0 34%,#4da6b0 36.2%,#479fb3 36.5%,#479fb3 39%,#4098b6 39.2%,#4098b6 41.5%,#3a91b9 41.8%,#3a91b9 45.5%,#3389bc 45.8%,#3389bc 52%,#3881ba 52.2%,#3881ba 61%,#3e78b5 61.2%,#3e78b5 65.8%,#3881ba 66%,#3881ba 67.2%,#3389bc 67.5%,#3389bc 68.2%,#3881ba 68.5%,#3881ba 69.2%,#3389bc 69.5%,#3389bc 100%)"></i><i style="top:246.69px;background:linear-gradient(90deg,#3389bc 0%,#3389bc 2%,#3a91b9 2.2%,#3a91b9 4.5%,#4098b6 4.8%,#4098b6 6.5%,#479fb3 6.8%,#479fb3 8.5%,#4da6b0 8.8%,#4da6b0 11%,#54aead 11.2%,#54aead 13%,#5ab5aa 13.2%,#5ab5aa 14.5%,#61bca7 14.8%,#61bca7 15.8%,#68c3a5 16%,#68c3a5 16.5%,#73c7a6 16.8%,#73c7a6 17.2%,#7ecba6 17.5%,#7ecba6 18%,#88d0a6 18.2%,#88d0a6 18.5%,#93d4a7 18.8%,#93d4a7 19%,#9ed8a7 19.2%,#9ed8a7 19.5%,#a9dca8 19.8%,#bce4a7 20%,#bce4a7 20.2%,#d2eca5 20.5%,#d2eca5 20.8%,#e5f3a6 21%,#ffffb8 21.5%,#fee390 21.8%,#fec978 22%,#fca65d 22.2%,#f57346 23%,#ed6246 23.5%,#f36b44 23.8%,#f67c4a 24%,#fdaf62 24.5%,#fed683 24.8%,#fff1a4 25%,#f2f9af 25.2%,#e5f3a6 25.5%,#a9dca8 26.2%,#a9dca8 26.5%,#93d4a7 27%,#93d4a7 27.2%,#88d0a6 27.5%,#88d0a6 27.8%,#7ecba6 28%,#7ecba6 28.2%,#73c7a6 28.5%,#73c7a6 28.8%,#68c3a5 29%,#68c3a5 29.5%,#61bca7 29.8%,#61bca7 30.5%,#5ab5aa 30.8%,#5ab5aa 31.8%,#54aead 32%,#54aead 33.8%,#4da6b0 34%,#4da6b0 36.5%,#479fb3 36.8%,#479fb3 39%,#4098b6 39.2%,#4098b6 41.5%,#3a91b9 41.8%,#3a91b9 45.5%,#3389bc 45.8%,#3389bc 52%,#3881ba 52.2%,#3881ba 61%,#3e78b5 61.2%,#3e78b5 66.8%,#3881ba 67%,#3881ba 68.2%,#3389bc 68.5%,#3389bc 69.2%,#3881ba 69.5%,#3881ba 70.2%,#3389bc 70.5%,#3389bc 70.8%,#3881ba 71%,#3389bc 71.2%,#3389bc 91.5%,#3881ba 91.8%,#3881ba 94%,#3389bc 94.2%,#3389bc 100%)"></i><i style="top:254.40px;background:linear-gradient(90deg,#3389bc 0%,#3389bc 2%,#3a91b9 2.2%,#3a91b9 4.2%,#4098b6 4.5%,#4098b6 6.2%,#479fb3 6.5%,#479fb3 8.5%,#4da6b0 8.8%,#4da6b0 11%,#54aead 11.2%,#54aead 13%,#5ab5aa 13.2%,#5ab5aa 14.5%,#61bca7 14.8%,#61bca7 15.5%,#68c3a5 15.8%,#68c3a5 16.5%,#73c7a6 16.8%,#73c7a6 17.2%,#7ecba6 17.5%,#7ecba6 17.8%,#88d0a6 18%,#88d0a6 18.2%,#93d4a7 18.5%,#93d4a7 18.8%,#9ed8a7 19%,#9ed8a7 19.2%,#a9dca8 19.5%,#a9dca8 19.8%,#d2eca5 20.2%,#d2eca5 20.5%,#e5f3a6 20.8%,#ffffb8 21.2%,#fff1a4 21.5%,#fed683 21.8%,#fdaf62 22%,#f88d52 22.5%,#f57346 22.8%,#ed6246 23.2%,#e75a48 23.5%,#ed6246 23.8%,#f57346 24%,#f88d52 24.2%,#fdaf62 24.5%,#fed683 24.8%,#fff1a4 25%,#f2f9af 25.2%,#e5f3a6 25.5%,#a9dca8 26.2%,#a9dca8 26.5%,#93d4a7 27%,#93d4a7 27.2%,#88d0a6 27.5%,#88d0a6 27.8%,#7ecba6 28%,#7ecba6 28.2%,#73c7a6 28.5%,#73c7a6 28.8%,#68c3a5 29%,#68c3a5 29.5%,#61bca7 29.8%,#61bca7 30.5%,#5ab5aa 30.8%,#5ab5aa 32%,#54aead 32.2%,#54aead 33.8%,#4da6b0 34%,#4da6b0 36.5%,#479fb3 36.8%,#479fb3 39.2%,#4098b6 39.5%,#4098b6 41.8%,#3a91b9 42%,#3a91b9 46.2%,#3389bc 46.5%,#3389bc 52.8%,#3881ba 53%,#3881ba 61.8%,#3e78b5 62%,#3e78b5 67.8%,#3881ba 68%,#3881ba 69.2%,#3389bc 69.5%,#3389bc 70.2%,#3881ba 70.5%,#3881ba 71.2%,#3389bc 71.5%,#3389bc 71.8%,#3881ba 72%,#3389bc 72.2%,#3389bc 91.2%,#3881ba 91.5%,#3881ba 100%)"></i><i style="top:262.11px;background:linear-gradient(90deg,#3389bc 0%,#3389bc 2%,#3a91b9 2.2%,#3a91b9 4.2%,#4098b6 4.5%,#4098b6 6.2%,#479fb3 6.5%,#479fb3 8.5%,#4da6b0 8.8%,#4da6b0 11%,#54aead 11.2%,#54aead 13%,#5ab5aa 13.2%,#5ab5aa 14.5%,#61bca7 14.8%,#61bca7 15.5%,#68c3a5 15.8%,#68c3a5 16.5%,#73c7a6 16.8%,#73c7a6 17%,#7ecba6 17.2%,#7ecba6 17.8%,#88d0a6 18%,#88d0a6 18.2%,#93d4a7 18.5%,#93d4a7 18.8%,#9ed8a7 19%,#9ed8a7 19.2%,#a9dca8 19.5%,#bce4a7 19.8%,#bce4a7 20%,#e5f3a6 20.5%,#e5f3a6 20.8%,#ffffb8 21.2%,#fee390 21.5%,#fec978 21.8%,#fca65d 22%,#fa9556 22.2%,#f67c4a 22.5%,#f36b44 22.8%,#e75a48 23%,#e2514a 23.2%,#e2514a 23.5%,#f57346 24%,#f88d52 24.2%,#fdaf62 24.5%,#fed683 24.8%,#ffffb8 25%,#e5f3a6 25.5%,#a9dca8 26.2%,#a9dca8 26.5%,#93d4a7 27%,#93d4a7 27.2%,#88d0a6 27.5%,#88d0a6 27.8%,#7ecba6 28%,#7ecba6 28.2%,#73c7a6 28.5%,#73c7a6 28.8%,#68c3a5 29%,#68c3a5 29.5%,#61bca7 29.8%,#61bca7 30.5%,#5ab5aa 30.8%,#5ab5aa 32%,#54aead 32.2%,#54aead 33.8%,#4da6b0 34%,#4da6b0 36.5%,#479fb3 36.8%,#479fb3 39.2%,#4098b6 39.5%,#4098b6 42%,#3a91b9 42.2%,#3a91b9 47.5%,#3389bc 47.8%,#3389bc 53.8%,#3881ba 54%,#3881ba 63.2%,#3e78b5 63.5%,#3e78b5 68.8%,#3881ba 69%,#3881ba 70.2%,#3389bc 70.5%,#3389bc 71%,#3881ba 71.2%,#3881ba 72.2%,#3389bc 72.5%,#3389bc 72.8%,#3881ba 73%,#3881ba 74%,#3389bc 74.2%,#3389bc 92.2%,#3881ba 92.5%,#3881ba 100%)"></i><i style="top:269.82px;background:linear-gradient(90deg,#3389bc 0%,#3389bc 2%,#3a91b9 2.2%,#3a91b9 4.2%,#4098b6 4.5%,#4098b6 6.2%,#479fb3 6.5%,#479fb3 8.5%,#4da6b0 8.8%,#4da6b0 11%,#54aead 11.2%,#54aead 13%,#5ab5aa 13.2%,#5ab5aa 14.5%,#61bca7 14.8%,#61bca7 15.5%,#68c3a5 15.8%,#68c3a5 16.2%,#73c7a6 16.5%,#73c7a6 17%,#7ecba6 17.2%,#7ecba6 17.8%,#88d0a6 18%,#88d0a6 18.2%,#93d4a7 18.5%,#93d4a7 18.8%,#a9dca8 19.2%,#a9dca8 19.5%,#d2eca5 20%,#d2eca5 20.2%,#e5f3a6 20.5%,#ffffb8 21%,#fff1a4 21.2%,#fed683 21.5%,#fb9e5a 22%,#f7844e 22.2%,#f57346 22.5%,#e2514a 23%,#dc484c 23.2%,#dc484c 23.5%,#e75a48 23.8%,#f57346 24%,#fa9556 24.2%,#fdaf62 24.5%,#fee390 24.8%,#ffffb8 25%,#e5f3a6 25.5%,#a9dca8 26.2%,#a9dca8 26.5%,#93d4a7 27%,#93d4a7 27.2%,#88d0a6 27.5%,#88d0a6 27.8%,#7ecba6 28%,#7ecba6 28.2%,#73c7a6 28.5%,#73c7a6 28.8%,#68c3a5 29%,#68c3a5 29.5%,#61bca7 29.8%,#61bca7 30.5%,#5ab5aa 30.8%,#5ab5aa 32%,#54aead 32.2%,#54aead 34%,#4da6b0 34.2%,#4da6b0 36.8%,#479fb3 37%,#479fb3 39.5%,#4098b6 39.8%,#4098b6 42%,#3a91b9 42.2%,#3a91b9 49%,#3389bc 49.2%,#3389bc 55%,#3881ba 55.2%,#3881ba 64.8%,#3e78b5 65%,#3e78b5 69.8%,#3881ba 70%,#3881ba 71.2%,#3389bc 71.5%,#3389bc 72%,#3881ba 72.2%,#3881ba 73.2%,#3389bc 73.5%,#3389bc 73.8%,#3881ba 74%,#3881ba 76.5%,#3389bc 76.8%,#3389bc 91%,#3881ba 91.2%,#3881ba 100%)"></i><i style="top:277.53px;background:linear-gradient(90deg,#3389bc 0%,#3389bc 2%,#3a91b9 2.2%,#3a91b9 4.2%,#4098b6 4.5%,#4098b6 6.2%,#479fb3 6.5%,#479fb3 8.5%,#4da6b0 8.8%,#4da6b0 11%,#54aead 11.2%,#54aead 13%,#5ab5aa 13.2%,#5ab5aa 14.5%,#61bca7 14.8%,#61bca7 15.5%,#68c3a5 15.8%,#68c3a5 16.2%,#73c7a6 16.5%,#73c7a6 17%,#7ecba6 17.2%,#7ecba6 17.5%,#88d0a6 17.8%,#88d0a6 18%,#93d4a7 18.2%,#93d4a7 18.5%,#9ed8a7 18.8%,#9ed8a7 19%,#a9dca8 19.2%,#a9dca8 19.5%,#e5f3a6 20.2%,#e5f3a6 20.5%,#ffffb8 21%,#fee390 21.2%,#fdaf62 21.8%,#f67c4a 22.2%,#f36b44 22.5%,#e2514a 22.8%,#d6404f 23.2%,#dc484c 23.5%,#e75a48 23.8%,#f57346 24%,#fa9556 24.2%,#fdbc6d 24.5%,#fee390 24.8%,#ffffb8 25%,#e5f3a6 25.5%,#a9dca8 26.2%,#a9dca8 26.5%,#93d4a7 27%,#93d4a7 27.2%,#88d0a6 27.5%,#88d0a6 27.8%,#7ecba6 28%,#7ecba6 28.2%,#73c7a6 28.5%,#73c7a6 28.8%,#68c3a5 29%,#68c3a5 29.5%,#61bca7 29.8%,#61bca7 30.5%,#5ab5aa 30.8%,#5ab5aa 32%,#54aead 32.2%,#54aead 34%,#4da6b0 34.2%,#4da6b0 36.8%,#479fb3 37%,#479fb3 39.5%,#4098b6 39.8%,#4098b6 42.2%,#3a91b9 42.5%,#3a91b9 50.2%,#3389bc 50.5%,#3389bc 56.2%,#3881ba 56.5%,#3881ba 66.8%,#3e78b5 67%,#3e78b5 70.8%,#3881ba 71%,#3881ba 72.2%,#3389bc 72.5%,#3389bc 73%,#3881ba 73.2%,#3881ba 74.2%,#3389bc 74.5%,#3389bc 74.8%,#3881ba 75%,#3881ba 78.5%,#3389bc 78.8%,#3389bc 90.5%,#3881ba 90.8%,#3881ba 100%)"></i><i style="top:285.24px;background:linear-gradient(90deg,#3389bc 0%,#3389bc 2%,#3a91b9 2.2%,#3a91b9 4.2%,#4098b6 4.5%,#4098b6 6.2%,#479fb3 6.5%,#479fb3 8.5%,#4da6b0 8.8%,#4da6b0 11%,#54aead 11.2%,#54aead 13%,#5ab5aa 13.2%,#5ab5aa 14.5%,#61bca7 14.8%,#61bca7 15.5%,#68c3a5 15.8%,#68c3a5 16.2%,#73c7a6 16.5%,#73c7a6 17%,#7ecba6 17.2%,#7ecba6 17.5%,#88d0a6 17.8%,#88d0a6 18%,#93d4a7 18.2%,#93d4a7 18.5%,#9ed8a7 18.8%,#9ed8a7 19%,#a9dca8 19.2%,#bce4a7 19.5%,#bce4a7 19.8%,#e5f3a6 20.2%,#ffffb8 20.8%,#fee390 21.2%,#fdbc6d 21.5%,#f57346 22.2%,#e75a48 22.5%,#dc484c 22.8%,#ce364d 23.2%,#d6404f 23.5%,#f57346 24%,#fa9556 24.2%,#fdbc6d 24.5%,#fee390 24.8%,#ffffb8 25%,#e5f3a6 25.5%,#a9dca8 26.2%,#a9dca8 26.5%,#93d4a7 27%,#93d4a7 27.2%,#88d0a6 27.5%,#88d0a6 27.8%,#7ecba6 28%,#7ecba6 28.2%,#73c7a6 28.5%,#73c7a6 28.8%,#68c3a5 29%,#68c3a5 29.5%,#61bca7 29.8%,#61bca7 30.5%,#5ab5aa 30.8%,#5ab5aa 32%,#54aead 32.2%,#54aead 34%,#4da6b0 34.2%,#4da6b0 37%,#479fb3 37.2%,#479fb3 39.8%,#4098b6 40%,#4098b6 42.2%,#3a91b9 42.5%,#3a91b9 51.8%,#3389bc 52%,#3389bc 57.5%,#3881ba 57.8%,#3881ba 69.5%,#3e78b5 69.8%,#3e78b5 71.8%,#3881ba 72%,#3881ba 73.2%,#3389bc 73.5%,#3389bc 74%,#3881ba 74.2%,#3881ba 75.2%,#3389bc 75.5%,#3389bc 75.8%,#3881ba 76%,#3881ba 79.5%,#3389bc 79.8%,#3389bc 90.2%,#3881ba 90.5%,#3881ba 100%)"></i><i style="top:292.95px;background:linear-gradient(90deg,#3389bc 0%,#3389bc 2%,#3a91b9 2.2%,#3a91b9 4.2%,#4098b6 4.5%,#4098b6 6.2%,#479fb3 6.5%,#479fb3 8.5%,#4da6b0 8.8%,#4da6b0 11%,#54aead 11.2%,#54aead 13%,#5ab5aa 13.2%,#5ab5aa 14.2%,#61bca7 14.5%,#61bca7 15.2%,#68c3a5 15.5%,#68c3a5 16%,#73c7a6 16.2%,#73c7a6 16.8%,#7ecba6 17%,#7ecba6 17.2%,#88d0a6 17.5%,#88d0a6 17.8%,#93d4a7 18%,#93d4a7 18.2%,#9ed8a7 18.5%,#9ed8a7 18.8%,#a9dca8 19%,#bce4a7 19.2%,#bce4a7 19.5%,#e5f3a6 20%,#f2f9af 20.2%,#f2f9af 20.5%,#ffffb8 20.8%,#fee390 21%,#fec978 21.2%,#fca65d 21.5%,#f88d52 21.8%,#f67c4a 22%,#ed6246 22.2%,#d6404f 22.8%,#d6404f 23.2%,#e2514a 23.5%,#f57346 23.8%,#fa9556 24%,#fdaf62 24.2%,#fee390 24.5%,#ffffb8 24.8%,#e5f3a6 25.2%,#d2eca5 25.5%,#d2eca5 25.8%,#a9dca8 26.2%,#9ed8a7 26.5%,#9ed8a7 26.8%,#88d0a6 27.2%,#88d0a6 27.5%,#7ecba6 27.8%,#7ecba6 28%,#73c7a6 28.2%,#73c7a6 28.8%,#68c3a5 29%,#68c3a5 29.5%,#61bca7 29.8%,#61bca7 30.5%,#5ab5aa 30.8%,#5ab5aa 31.8%,#54aead 32%,#54aead 34%,#4da6b0 34.2%,#4da6b0 37%,#479fb3 37.2%,#479fb3 39.8%,#4098b6 40%,#4098b6 42.5%,#3a91b9 42.8%,#3a91b9 53%,#3389bc 53.2%,#3389bc 58.8%,#3881ba 59%,#3881ba 74%,#3389bc 74.2%,#3389bc 75%,#3881ba 75.2%,#3881ba 80.5%,#3389bc 80.8%,#3389bc 83.2%,#3a91b9 83.5%,#3a91b9 85%,#3389bc 85.2%,#3389bc 91%,#3881ba 91.2%,#3881ba 100%)"></i><i style="top:300.65px;background:linear-gradient(90deg,#3389bc 0%,#3389bc 2%,#3a91b9 2.2%,#3a91b9 4.2%,#4098b6 4.5%,#4098b6 6.2%,#479fb3 6.5%,#479fb3 8.5%,#4da6b0 8.8%,#4da6b0 11%,#54aead 11.2%,#54aead 12.8%,#5ab5aa 13%,#5ab5aa 14.2%,#61bca7 14.5%,#61bca7 15.2%,#68c3a5 15.5%,#68c3a5 16%,#73c7a6 16.2%,#73c7a6 16.5%,#7ecba6 16.8%,#7ecba6 17.2%,#88d0a6 17.5%,#88d0a6 17.8%,#9ed8a7 18.2%,#9ed8a7 18.5%,#a9dca8 18.8%,#a9dca8 19%,#e5f3a6 19.8%,#e5f3a6 20%,#ffffb8 20.5%,#fee390 20.8%,#fdaf62 21.2%,#f67c4a 21.8%,#f36b44 22%,#dc484c 22.5%,#d6404f 22.8%,#e2514a 23.2%,#f36b44 23.5%,#fdaf62 24%,#fed683 24.2%,#fff1a4 24.5%,#f2f9af 24.8%,#f2f9af 25%,#e5f3a6 25.2%,#a9dca8 26%,#a9dca8 26.2%,#93d4a7 26.8%,#93d4a7 27%,#88d0a6 27.2%,#88d0a6 27.5%,#7ecba6 27.8%,#7ecba6 28%,#73c7a6 28.2%,#73c7a6 28.5%,#68c3a5 28.8%,#68c3a5 29.2%,#61bca7 29.5%,#61bca7 30.2%,#5ab5aa 30.5%,#5ab5aa 31.8%,#54aead 32%,#54aead 34%,#4da6b0 34.2%,#4da6b0 37%,#479fb3 37.2%,#479fb3 39.8%,#4098b6 40%,#4098b6 42.5%,#3a91b9 42.8%,#3a91b9 54.2%,#3389bc 54.5%,#3389bc 60%,#3881ba 60.2%,#3881ba 75%,#3389bc 75.2%,#3389bc 76%,#3881ba 76.2%,#3881ba 81.2%,#3389bc 81.5%,#3389bc 83.5%,#3a91b9 83.8%,#3a91b9 86.2%,#3389bc 86.5%,#3389bc 91.8%,#3881ba 92%,#3881ba 100%)"></i><i style="top:308.36px;background:linear-gradient(90deg,#3389bc 0%,#3389bc 2%,#3a91b9 2.2%,#3a91b9 4.2%,#4098b6 4.5%,#4098b6 6.2%,#479fb3 6.5%,#479fb3 8.5%,#4da6b0 8.8%,#4da6b0 11%,#54aead 11.2%,#54aead 12.8%,#5ab5aa 13%,#5ab5aa 14%,#61bca7 14.2%,#61bca7 15%,#68c3a5 15.2%,#68c3a5 15.8%,#73c7a6 16%,#73c7a6 16.5%,#7ecba6 16.8%,#7ecba6 17%,#88d0a6 17.2%,#88d0a6 17.5%,#93d4a7 17.8%,#93d4a7 18%,#a9dca8 18.5%,#a9dca8 18.8%,#e5f3a6 19.5%,#e5f3a6 19.8%,#ffffb8 20.2%,#fff1a4 20.5%,#fed683 20.8%,#fdaf62 21%,#fb9e5a 21.2%,#f7844e 21.5%,#f57346 21.8%,#e75a48 22%,#dc484c 22.5%,#dc484c 22.8%,#f36b44 23.2%,#f88d52 23.5%,#fca65d 23.8%,#fec978 24%,#fff1a4 24.2%,#ffffb8 24.5%,#e5f3a6 25%,#bce4a7 25.5%,#bce4a7 25.8%,#a9dca8 26%,#93d4a7 26.5%,#93d4a7 26.8%,#88d0a6 27%,#88d0a6 27.2%,#7ecba6 27.5%,#7ecba6 27.8%,#73c7a6 28%,#73c7a6 28.5%,#68c3a5 28.8%,#68c3a5 29.2%,#61bca7 29.5%,#61bca7 30.2%,#5ab5aa 30.5%,#5ab5aa 31.8%,#54aead 32%,#54aead 33.8%,#4da6b0 34%,#4da6b0 36.8%,#479fb3 37%,#479fb3 39.8%,#4098b6 40%,#4098b6 42.5%,#3a91b9 42.8%,#3a91b9 55.8%,#3389bc 56%,#3389bc 61.2%,#3881ba 61.5%,#3881ba 76%,#3389bc 76.2%,#3389bc 77%,#3881ba 77.2%,#3881ba 77.8%,#3e78b5 78%,#3881ba 78.2%,#3881ba 81.8%,#3389bc 82%,#3389bc 84%,#3a91b9 84.2%,#3a91b9 87.5%,#3389bc 87.8%,#3389bc 92.5%,#3881ba 92.8%,#3881ba 100%)"></i><i style="top:316.07px;background:linear-gradient(90deg,#3389bc 0%,#3389bc 2%,#3a91b9 2.2%,#3a91b9 4.2%,#4098b6 4.5%,#4098b6 6.2%,#479fb3 6.5%,#479fb3 8.5%,#4da6b0 8.8%,#4da6b0 10.8%,#54aead 11%,#54aead 12.5%,#5ab5aa 12.8%,#5ab5aa 14%,#61bca7 14.2%,#61bca7 14.8%,#68c3a5 15%,#68c3a5 15.5%,#73c7a6 15.8%,#73c7a6 16.2%,#7ecba6 16.5%,#7ecba6 16.8%,#88d0a6 17%,#88d0a6 17.2%,#93d4a7 17.5%,#93d4a7 17.8%,#a9dca8 18.2%,#a9dca8 18.5%,#d2eca5 19%,#d2eca5 19.2%,#e5f3a6 19.5%,#ffffb8 20%,#fff1a4 20.2%,#fed683 20.5%,#fb9e5a 21%,#f88d52 21.2%,#f57346 21.5%,#e2514a 22%,#dc484c 22.2%,#dc484c 22.5%,#f36b44 23%,#f7844e 23.2%,#fca65d 23.5%,#fec978 23.8%,#fee390 24%,#ffffb8 24.2%,#e5f3a6 24.8%,#d2eca5 25%,#d2eca5 25.2%,#a9dca8 25.8%,#9ed8a7 26%,#9ed8a7 26.2%,#93d4a7 26.5%,#93d4a7 26.8%,#7ecba6 27.2%,#7ecba6 27.8%,#73c7a6 28%,#73c7a6 28.2%,#68c3a5 28.5%,#68c3a5 29%,#61bca7 29.2%,#61bca7 30%,#5ab5aa 30.2%,#5ab5aa 31.5%,#54aead 31.8%,#54aead 33.8%,#4da6b0 34%,#4da6b0 36.8%,#479fb3 37%,#479fb3 39.8%,#4098b6 40%,#4098b6 42.5%,#3a91b9 42.8%,#3a91b9 46.8%,#4098b6 47%,#4098b6 47.5%,#3a91b9 47.8%,#3a91b9 57.2%,#3389bc 57.5%,#3389bc 62.5%,#3881ba 62.8%,#3881ba 77%,#3389bc 77.2%,#3389bc 78%,#3881ba 78.2%,#3881ba 78.8%,#3e78b5 79%,#3881ba 79.2%,#3881ba 82.2%,#3389bc 82.5%,#3389bc 84.8%,#3a91b9 85%,#3a91b9 88.8%,#3389bc 89%,#3389bc 93.5%,#3881ba 93.8%,#3881ba 100%)"></i><i style="top:323.78px;background:linear-gradient(90deg,#3389bc 0%,#3389bc 2%,#3a91b9 2.2%,#3a91b9 4.2%,#4098b6 4.5%,#4098b6 6.5%,#479fb3 6.8%,#479fb3 8.5%,#4da6b0 8.8%,#4da6b0 10.8%,#54aead 11%,#54aead 12.5%,#5ab5aa 12.8%,#5ab5aa 13.8%,#61bca7 14%,#61bca7 14.8%,#68c3a5 15%,#68c3a5 15.5%,#73c7a6 15.8%,#73c7a6 16%,#7ecba6 16.2%,#7ecba6 16.5%,#88d0a6 16.8%,#88d0a6 17%,#93d4a7 17.2%,#93d4a7 17.5%,#9ed8a7 17.8%,#9ed8a7 18%,#a9dca8 18.2%,#bce4a7 18.5%,#bce4a7 18.8%,#e5f3a6 19.2%,#ffffb8 19.8%,#fee390 20.2%,#fec978 20.5%,#fca65d 20.8%,#fa9556 21%,#f67c4a 21.2%,#f36b44 21.5%,#e75a48 21.8%,#e2514a 22%,#e2514a 22.2%,#e75a48 22.5%,#f36b44 22.8%,#fb9e5a 23.2%,#fdbc6d 23.5%,#fee390 23.8%,#ffffb8 24%,#e5f3a6 24.5%,#e5f3a6 24.8%,#a9dca8 25.5%,#a9dca8 25.8%,#93d4a7 26.2%,#93d4a7 26.5%,#88d0a6 26.8%,#88d0a6 27%,#7ecba6 27.2%,#7ecba6 27.5%,#73c7a6 27.8%,#73c7a6 28.2%,#68c3a5 28.5%,#68c3a5 29%,#61bca7 29.2%,#61bca7 30%,#5ab5aa 30.2%,#5ab5aa 31.5%,#54aead 31.8%,#54aead 33.8%,#4da6b0 34%,#4da6b0 36.8%,#479fb3 37%,#479fb3 39.8%,#4098b6 40%,#4098b6 42.5%,#3a91b9 42.8%,#3a91b9 58%,#3389bc 58.2%,#3389bc 63.2%,#3881ba 63.5%,#3881ba 78%,#3389bc 78.2%,#3389bc 79%,#3881ba 79.2%,#3881ba 79.8%,#3e78b5 80%,#3881ba 80.2%,#3881ba 83%,#3389bc 83.2%,#3389bc 85.2%,#3a91b9 85.5%,#3a91b9 89.8%,#3389bc 90%,#3389bc 94.8%,#3881ba 95%,#3881ba 100%)"></i><i style="top:331.49px;background:linear-gradient(90deg,#3389bc 0%,#3389bc 2%,#3a91b9 2.2%,#3a91b9 4.2%,#4098b6 4.5%,#4098b6 6.2%,#479fb3 6.5%,#479fb3 8.2%,#4da6b0 8.5%,#4da6b0 10.5%,#54aead 10.8%,#54aead 12.2%,#5ab5aa 12.5%,#5ab5aa 13.5%,#61bca7 13.8%,#61bca7 14.5%,#68c3a5 14.8%,#68c3a5 15.2%,#73c7a6 15.5%,#73c7a6 15.8%,#7ecba6 16%,#7ecba6 16.2%,#88d0a6 16.5%,#88d0a6 16.8%,#93d4a7 17%,#93d4a7 17.2%,#9ed8a7 17.5%,#9ed8a7 17.8%,#a9dca8 18%,#bce4a7 18.2%,#bce4a7 18.5%,#e5f3a6 19%,#ffffb8 19.5%,#fff1a4 19.8%,#fed683 20%,#fdbc6d 20.2%,#f88d52 20.8%,#f36b44 21.2%,#e75a48 21.8%,#ed6246 22%,#f57346 22.2%,#f7844e 22.5%,#fb9e5a 22.8%,#fdbc6d 23%,#fee390 23.2%,#ffffb8 23.5%,#e5f3a6 24%,#e5f3a6 24.2%,#a9dca8 25%,#a9dca8 25.2%,#93d4a7 25.8%,#93d4a7 26%,#88d0a6 26.2%,#88d0a6 26.5%,#7ecba6 26.8%,#7ecba6 27.2%,#73c7a6 27.5%,#73c7a6 27.8%,#68c3a5 28%,#68c3a5 28.5%,#61bca7 28.8%,#61bca7 29.8%,#5ab5aa 30%,#5ab5aa 31.2%,#54aead 31.5%,#54aead 33.5%,#4da6b0 33.8%,#4da6b0 36.5%,#479fb3 36.8%,#479fb3 39.5%,#4098b6 39.8%,#4098b6 42%,#3a91b9 42.2%,#3a91b9 57.5%,#3389bc 57.8%,#3389bc 63.5%,#3881ba 63.8%,#3881ba 79%,#3389bc 79.2%,#3389bc 80%,#3881ba 80.2%,#3881ba 80.8%,#3e78b5 81%,#3881ba 81.2%,#3881ba 83.5%,#3389bc 83.8%,#3389bc 85.8%,#3a91b9 86%,#3a91b9 91.2%,#3389bc 91.5%,#3389bc 96.5%,#3881ba 96.8%,#3881ba 100%)"></i><i style="top:339.20px;background:linear-gradient(90deg,#3389bc 0%,#3389bc 2%,#3a91b9 2.2%,#3a91b9 4.2%,#4098b6 4.5%,#4098b6 6.2%,#479fb3 6.5%,#479fb3 8.2%,#4da6b0 8.5%,#4da6b0 10.2%,#54aead 10.5%,#54aead 12%,#5ab5aa 12.2%,#5ab5aa 13.2%,#61bca7 13.5%,#61bca7 14.2%,#68c3a5 14.5%,#68c3a5 15%,#73c7a6 15.2%,#73c7a6 15.5%,#7ecba6 15.8%,#7ecba6 16%,#88d0a6 16.2%,#88d0a6 16.5%,#93d4a7 16.8%,#93d4a7 17%,#9ed8a7 17.2%,#9ed8a7 17.5%,#a9dca8 17.8%,#bce4a7 18%,#bce4a7 18.2%,#e5f3a6 18.8%,#ffffb8 19.2%,#fff1a4 19.5%,#fed683 19.8%,#fdaf62 20%,#f67c4a 20.8%,#f36b44 21.2%,#f67c4a 21.8%,#f88d52 22%,#fdbc6d 22.5%,#fee390 22.8%,#ffffb8 23%,#e5f3a6 23.5%,#d2eca5 23.8%,#d2eca5 24%,#a9dca8 24.5%,#a9dca8 24.8%,#93d4a7 25.2%,#93d4a7 25.5%,#88d0a6 25.8%,#88d0a6 26%,#7ecba6 26.2%,#7ecba6 26.8%,#73c7a6 27%,#73c7a6 27.5%,#68c3a5 27.8%,#68c3a5 28.2%,#61bca7 28.5%,#61bca7 29.2%,#5ab5aa 29.5%,#5ab5aa 31%,#54aead 31.2%,#54aead 33.2%,#4da6b0 33.5%,#4da6b0 36.2%,#479fb3 36.5%,#479fb3 39.2%,#4098b6 39.5%,#4098b6 41.8%,#3a91b9 42%,#3a91b9 57%,#3389bc 57.2%,#3389bc 63.5%,#3881ba 63.8%,#3881ba 80%,#3389bc 80.2%,#3389bc 81%,#3881ba 81.2%,#3881ba 81.8%,#3e78b5 82%,#3881ba 82.2%,#3881ba 84%,#3389bc 84.2%,#3389bc 86.2%,#3a91b9 86.5%,#3a91b9 92.5%,#3389bc 92.8%,#3389bc 98%,#3881ba 98.2%,#3881ba 100%)"></i><i style="top:346.91px;background:linear-gradient(90deg,#3389bc 0%,#3389bc 2%,#3a91b9 2.2%,#3a91b9 4.2%,#4098b6 4.5%,#4098b6 6.2%,#479fb3 6.5%,#479fb3 8.2%,#4da6b0 8.5%,#4da6b0 10.2%,#54aead 10.5%,#54aead 11.8%,#5ab5aa 12%,#5ab5aa 13%,#61bca7 13.2%,#61bca7 14%,#68c3a5 14.2%,#68c3a5 14.8%,#73c7a6 15%,#73c7a6 15.2%,#7ecba6 15.5%,#7ecba6 15.8%,#88d0a6 16%,#88d0a6 16.2%,#93d4a7 16.5%,#93d4a7 16.8%,#9ed8a7 17%,#9ed8a7 17.2%,#a9dca8 17.5%,#bce4a7 17.8%,#bce4a7 18%,#e5f3a6 18.5%,#ffffb8 19%,#fee390 19.2%,#fdaf62 19.8%,#f88d52 20.2%,#f67c4a 20.8%,#f67c4a 21%,#f7844e 21.2%,#fca65d 21.8%,#fec978 22%,#fee390 22.2%,#ffffb8 22.5%,#e5f3a6 22.8%,#e5f3a6 23%,#bce4a7 23.5%,#bce4a7 23.8%,#a9dca8 24%,#9ed8a7 24.2%,#9ed8a7 24.5%,#93d4a7 24.8%,#93d4a7 25%,#88d0a6 25.2%,#88d0a6 25.5%,#7ecba6 25.8%,#7ecba6 26.2%,#73c7a6 26.5%,#73c7a6 27%,#68c3a5 27.2%,#68c3a5 27.8%,#61bca7 28%,#61bca7 29%,#5ab5aa 29.2%,#5ab5aa 30.5%,#54aead 30.8%,#54aead 32.8%,#4da6b0 33%,#4da6b0 36%,#479fb3 36.2%,#479fb3 38.8%,#4098b6 39%,#4098b6 41.5%,#3a91b9 41.8%,#3a91b9 56.2%,#3389bc 56.5%,#3389bc 63.5%,#3881ba 63.8%,#3881ba 81%,#3389bc 81.2%,#3389bc 82%,#3881ba 82.2%,#3881ba 82.8%,#3e78b5 83%,#3881ba 83.2%,#3881ba 84.8%,#3389bc 85%,#3389bc 86.8%,#3a91b9 87%,#3a91b9 94%,#3389bc 94.2%,#3389bc 99.8%,#3881ba 100%)"></i><i style="top:354.62px;background:linear-gradient(90deg,#3389bc 0%,#3389bc 2%,#3a91b9 2.2%,#3a91b9 4.2%,#4098b6 4.5%,#4098b6 6%,#479fb3 6.2%,#479fb3 8%,#4da6b0 8.2%,#4da6b0 10%,#54aead 10.2%,#54aead 11.5%,#5ab5aa 11.8%,#5ab5aa 12.8%,#61bca7 13%,#61bca7 13.8%,#68c3a5 14%,#68c3a5 14.5%,#73c7a6 14.8%,#73c7a6 15.2%,#7ecba6 15.5%,#7ecba6 15.8%,#88d0a6 16%,#88d0a6 16.2%,#93d4a7 16.5%,#93d4a7 16.8%,#a9dca8 17.2%,#a9dca8 17.5%,#bce4a7 17.8%,#bce4a7 18%,#e5f3a6 18.5%,#ffffb8 18.8%,#fee390 19%,#fec978 19.2%,#fdbc6d 19.5%,#fca65d 19.8%,#fb9e5a 20%,#fb9e5a 20.5%,#fca65d 20.8%,#fdbc6d 21%,#fed683 21.2%,#fff1a4 21.5%,#f2f9af 21.8%,#e5f3a6 22%,#bce4a7 22.5%,#bce4a7 22.8%,#a9dca8 23%,#a9dca8 23.2%,#9ed8a7 23.5%,#9ed8a7 23.8%,#93d4a7 24%,#93d4a7 24.2%,#88d0a6 24.5%,#88d0a6 24.8%,#7ecba6 25%,#7ecba6 25.5%,#73c7a6 25.8%,#73c7a6 26.2%,#68c3a5 26.5%,#68c3a5 27%,#61bca7 27.2%,#61bca7 28.2%,#5ab5aa 28.5%,#5ab5aa 30%,#54aead 30.2%,#54aead 32%,#4da6b0 32.2%,#4da6b0 35%,#479fb3 35.2%,#479fb3 38%,#4098b6 38.2%,#4098b6 40.8%,#3a91b9 41%,#3a91b9 55.8%,#3389bc 56%,#3389bc 63.2%,#3881ba 63.5%,#3881ba 82%,#3389bc 82.2%,#3389bc 83%,#3881ba 83.2%,#3881ba 83.8%,#3e78b5 84%,#3881ba 84.2%,#3881ba 84.8%,#3389bc 85%,#3881ba 85.2%,#3389bc 85.5%,#3389bc 87.2%,#3a91b9 87.5%,#3a91b9 90%,#4098b6 90.2%,#4098b6 91.8%,#3a91b9 92%,#3a91b9 95.2%,#3389bc 95.5%,#3389bc 100%)"></i><i style="top:362.33px;background:linear-gradient(90deg,#3389bc 0%,#3389bc 2%,#3a91b9 2.2%,#3a91b9 4.2%,#4098b6 4.5%,#4098b6 6%,#479fb3 6.2%,#479fb3 8%,#4da6b0 8.2%,#4da6b0 9.8%,#54aead 10%,#54aead 11.2%,#5ab5aa 11.5%,#5ab5aa 12.5%,#61bca7 12.8%,#61bca7 13.5%,#68c3a5 13.8%,#68c3a5 14.2%,#73c7a6 14.5%,#73c7a6 15%,#7ecba6 15.2%,#7ecba6 15.5%,#88d0a6 15.8%,#88d0a6 16.2%,#93d4a7 16.5%,#93d4a7 16.8%,#a9dca8 17.2%,#a9dca8 17.5%,#e5f3a6 18.2%,#f2f9af 18.5%,#fff1a4 18.8%,#fee390 19%,#fec978 19.5%,#fec978 19.8%,#fee390 20.2%,#fff1a4 20.5%,#f2f9af 20.8%,#e5f3a6 21%,#a9dca8 21.8%,#a9dca8 22%,#9ed8a7 22.2%,#9ed8a7 22.5%,#93d4a7 22.8%,#93d4a7 23%,#88d0a6 23.2%,#88d0a6 23.8%,#7ecba6 24%,#7ecba6 24.5%,#73c7a6 24.8%,#73c7a6 25.2%,#68c3a5 25.5%,#68c3a5 26.2%,#61bca7 26.5%,#61bca7 27.5%,#5ab5aa 27.8%,#5ab5aa 29%,#54aead 29.2%,#54aead 31.2%,#4da6b0 31.5%,#4da6b0 34%,#479fb3 34.2%,#479fb3 37%,#4098b6 37.2%,#4098b6 40%,#3a91b9 40.2%,#3a91b9 54.8%,#3389bc 55%,#3389bc 63.2%,#3881ba 63.5%,#3881ba 83%,#3389bc 83.2%,#3389bc 84%,#3881ba 84.2%,#3881ba 84.8%,#3e78b5 85%,#3881ba 85.2%,#3881ba 85.5%,#3389bc 85.8%,#3389bc 87.8%,#3a91b9 88%,#3a91b9 90.5%,#4098b6 90.8%,#4098b6 93%,#3a91b9 93.2%,#3a91b9 96.2%,#3389bc 96.5%,#3389bc 100%)"></i><i style="top:370.04px;background:linear-gradient(90deg,#3389bc 0%,#3389bc 2%,#3a91b9 2.2%,#3a91b9 4.2%,#4098b6 4.5%,#4098b6 6%,#479fb3 6.2%,#479fb3 7.8%,#4da6b0 8%,#4da6b0 9.5%,#54aead 9.8%,#54aead 11.2%,#5ab5aa 11.5%,#5ab5aa 12.2%,#61bca7 12.5%,#61bca7 13.2%,#68c3a5 13.5%,#68c3a5 14%,#73c7a6 14.2%,#73c7a6 14.8%,#7ecba6 15%,#7ecba6 15.5%,#88d0a6 15.8%,#88d0a6 16%,#93d4a7 16.2%,#93d4a7 16.5%,#9ed8a7 16.8%,#9ed8a7 17%,#a9dca8 17.2%,#e5f3a6 18%,#ffffb8 18.5%,#ffffb8 18.8%,#fff1a4 19%,#ffffb8 19.2%,#ffffb8 19.5%,#e5f3a6 20%,#a9dca8 20.8%,#a9dca8 21%,#9ed8a7 21.2%,#9ed8a7 21.5%,#93d4a7 21.8%,#93d4a7 22%,#88d0a6 22.2%,#88d0a6 22.8%,#7ecba6 23%,#7ecba6 23.5%,#73c7a6 23.8%,#73c7a6 24.2%,#68c3a5 24.5%,#68c3a5 25.2%,#61bca7 25.5%,#61bca7 26.5%,#5ab5aa 26.8%,#5ab5aa 28%,#54aead 28.2%,#54aead 30.2%,#4da6b0 30.5%,#4da6b0 33%,#479fb3 33.2%,#479fb3 36%,#4098b6 36.2%,#4098b6 39.2%,#3a91b9 39.5%,#3a91b9 54%,#3389bc 54.2%,#3389bc 62.8%,#3881ba 63%,#3881ba 84%,#3389bc 84.2%,#3389bc 85%,#3881ba 85.2%,#3881ba 86.5%,#3389bc 86.8%,#3389bc 88.5%,#3a91b9 88.8%,#3a91b9 91%,#4098b6 91.2%,#4098b6 94%,#3a91b9 94.2%,#3a91b9 97%,#3389bc 97.2%,#3389bc 100%)"></i><i style="top:377.75px;background:linear-gradient(90deg,#3389bc 0%,#3389bc 2%,#3a91b9 2.2%,#3a91b9 4%,#4098b6 4.2%,#4098b6 6%,#479fb3 6.2%,#479fb3 7.8%,#4da6b0 8%,#4da6b0 9.5%,#54aead 9.8%,#54aead 11%,#5ab5aa 11.2%,#5ab5aa 12%,#61bca7 12.2%,#61bca7 13%,#68c3a5 13.2%,#68c3a5 13.8%,#73c7a6 14%,#73c7a6 14.5%,#7ecba6 14.8%,#7ecba6 15%,#88d0a6 15.2%,#88d0a6 15.8%,#93d4a7 16%,#93d4a7 16.2%,#9ed8a7 16.5%,#9ed8a7 16.8%,#a9dca8 17%,#e5f3a6 17.8%,#f2f9af 18%,#f2f9af 18.8%,#e5f3a6 19%,#d2eca5 19.2%,#d2eca5 19.5%,#a9dca8 20%,#9ed8a7 20.2%,#9ed8a7 20.5%,#93d4a7 20.8%,#93d4a7 21.2%,#88d0a6 21.5%,#88d0a6 21.8%,#7ecba6 22%,#7ecba6 22.5%,#73c7a6 22.8%,#73c7a6 23.2%,#68c3a5 23.5%,#68c3a5 24.2%,#61bca7 24.5%,#61bca7 25.2%,#5ab5aa 25.5%,#5ab5aa 27%,#54aead 27.2%,#54aead 29%,#4da6b0 29.2%,#4da6b0 31.8%,#479fb3 32%,#479fb3 35%,#4098b6 35.2%,#4098b6 38.8%,#3a91b9 39%,#3a91b9 52.5%,#3389bc 52.8%,#3389bc 62.2%,#3881ba 62.5%,#3881ba 85%,#3389bc 85.2%,#3389bc 86%,#3881ba 86.2%,#3881ba 87.2%,#3389bc 87.5%,#3389bc 89%,#3a91b9 89.2%,#3a91b9 91.5%,#4098b6 91.8%,#4098b6 95%,#3a91b9 95.2%,#3a91b9 98%,#3389bc 98.2%,#3389bc 100%)"></i><i style="top:385.45px;background:linear-gradient(90deg,#3389bc 0%,#3389bc 1.8%,#3a91b9 2%,#3a91b9 4%,#4098b6 4.2%,#4098b6 6%,#479fb3 6.2%,#479fb3 7.8%,#4da6b0 8%,#4da6b0 9.2%,#54aead 9.5%,#54aead 10.8%,#5ab5aa 11%,#5ab5aa 11.8%,#61bca7 12%,#61bca7 12.8%,#68c3a5 13%,#68c3a5 13.5%,#73c7a6 13.8%,#73c7a6 14.2%,#7ecba6 14.5%,#7ecba6 14.8%,#88d0a6 15%,#88d0a6 15.2%,#93d4a7 15.5%,#93d4a7 16%,#a9dca8 16.5%,#a9dca8 16.8%,#d2eca5 17.2%,#d2eca5 18.5%,#a9dca8 19%,#a9dca8 19.2%,#9ed8a7 19.5%,#9ed8a7 19.8%,#93d4a7 20%,#93d4a7 20.2%,#88d0a6 20.5%,#88d0a6 21%,#7ecba6 21.2%,#7ecba6 21.8%,#73c7a6 22%,#73c7a6 22.5%,#68c3a5 22.8%,#68c3a5 23.2%,#61bca7 23.5%,#61bca7 24.2%,#5ab5aa 24.5%,#5ab5aa 26%,#54aead 26.2%,#54aead 28%,#4da6b0 28.2%,#4da6b0 30.8%,#479fb3 31%,#479fb3 34.2%,#4098b6 34.5%,#4098b6 38%,#3a91b9 38.2%,#3a91b9 49.8%,#3389bc 50%,#3389bc 61%,#3881ba 61.2%,#3881ba 86%,#3389bc 86.2%,#3389bc 87%,#3881ba 87.2%,#3881ba 88.2%,#3389bc 88.5%,#3389bc 89.8%,#3a91b9 90%,#3a91b9 92.2%,#4098b6 92.5%,#4098b6 95.8%,#3a91b9 96%,#3a91b9 98.8%,#3389bc 99%,#3389bc 100%)"></i><i style="top:393.16px;background:linear-gradient(90deg,#3389bc 0%,#3389bc 1.8%,#3a91b9 2%,#3a91b9 4%,#4098b6 4.2%,#4098b6 6%,#479fb3 6.2%,#479fb3 7.5%,#4da6b0 7.8%,#4da6b0 9%,#54aead 9.2%,#54aead 10.5%,#5ab5aa 10.8%,#5ab5aa 11.5%,#61bca7 11.8%,#61bca7 12.2%,#68c3a5 12.5%,#68c3a5 13%,#73c7a6 13.2%,#73c7a6 13.8%,#7ecba6 14%,#7ecba6 14.5%,#88d0a6 14.8%,#88d0a6 15%,#93d4a7 15.2%,#93d4a7 15.5%,#9ed8a7 15.8%,#9ed8a7 16%,#a9dca8 16.2%,#a9dca8 16.5%,#bce4a7 16.8%,#bce4a7 17.5%,#a9dca8 17.8%,#a9dca8 18.2%,#9ed8a7 18.5%,#9ed8a7 18.8%,#93d4a7 19%,#93d4a7 19.2%,#88d0a6 19.5%,#88d0a6 20%,#7ecba6 20.2%,#7ecba6 20.8%,#73c7a6 21%,#73c7a6 21.5%,#68c3a5 21.8%,#68c3a5 22.2%,#61bca7 22.5%,#61bca7 23.2%,#5ab5aa 23.5%,#5ab5aa 24.8%,#54aead 25%,#54aead 27%,#4da6b0 27.2%,#4da6b0 29.8%,#479fb3 30%,#479fb3 33.2%,#4098b6 33.5%,#4098b6 37.2%,#3a91b9 37.5%,#3a91b9 47.5%,#3389bc 47.8%,#3389bc 59.8%,#3881ba 60%,#3881ba 87%,#3389bc 87.2%,#3389bc 88%,#3881ba 88.2%,#3881ba 89.2%,#3389bc 89.5%,#3389bc 91%,#3a91b9 91.2%,#3a91b9 93.2%,#4098b6 93.5%,#4098b6 96.2%,#3a91b9 96.5%,#3a91b9 99.2%,#3389bc 99.5%,#3389bc 100%)"></i><i style="top:400.87px;background:linear-gradient(90deg,#3389bc 0%,#3389bc 1.8%,#3a91b9 2%,#3a91b9 3.8%,#4098b6 4%,#4098b6 5.8%,#479fb3 6%,#479fb3 7.2%,#4da6b0 7.5%,#4da6b0 8.8%,#54aead 9%,#54aead 10%,#5ab5aa 10.2%,#5ab5aa 11.2%,#61bca7 11.5%,#61bca7 12%,#68c3a5 12.2%,#68c3a5 12.8%,#73c7a6 13%,#73c7a6 13.5%,#7ecba6 13.8%,#7ecba6 14%,#88d0a6 14.2%,#88d0a6 14.8%,#93d4a7 15%,#93d4a7 15.2%,#9ed8a7 15.5%,#9ed8a7 16%,#a9dca8 16.2%,#a9dca8 16.8%,#9ed8a7 17%,#9ed8a7 17.5%,#93d4a7 17.8%,#93d4a7 18.2%,#88d0a6 18.5%,#88d0a6 19%,#7ecba6 19.2%,#7ecba6 19.8%,#73c7a6 20%,#73c7a6 20.5%,#68c3a5 20.8%,#68c3a5 21.2%,#61bca7 21.5%,#61bca7 22%,#5ab5aa 22.2%,#5ab5aa 23.8%,#54aead 24%,#54aead 25.8%,#4da6b0 26%,#4da6b0 28.8%,#479fb3 29%,#479fb3 32.2%,#4098b6 32.5%,#4098b6 36.2%,#3a91b9 36.5%,#3a91b9 45.2%,#3389bc 45.5%,#3389bc 59.2%,#3881ba 59.5%,#3881ba 88%,#3389bc 88.2%,#3389bc 88.8%,#3881ba 89%,#3881ba 90.2%,#3389bc 90.5%,#3389bc 92.2%,#3a91b9 92.5%,#3a91b9 94.8%,#4098b6 95%,#4098b6 96.5%,#3a91b9 96.8%,#3a91b9 99.8%,#3389bc 100%)"></i><i style="top:408.58px;background:linear-gradient(90deg,#3389bc 0%,#3389bc 1.5%,#3a91b9 1.8%,#3a91b9 3.5%,#4098b6 3.8%,#4098b6 5.2%,#479fb3 5.5%,#479fb3 6.8%,#4da6b0 7%,#4da6b0 8.2%,#54aead 8.5%,#54aead 9.5%,#5ab5aa 9.8%,#5ab5aa 10.5%,#61bca7 10.8%,#61bca7 11.5%,#68c3a5 11.8%,#68c3a5 12.2%,#73c7a6 12.5%,#73c7a6 13%,#7ecba6 13.2%,#7ecba6 13.8%,#88d0a6 14%,#88d0a6 14.5%,#93d4a7 14.8%,#93d4a7 15%,#9ed8a7 15.2%,#9ed8a7 16.2%,#93d4a7 16.5%,#93d4a7 17%,#88d0a6 17.2%,#88d0a6 17.8%,#7ecba6 18%,#7ecba6 18.8%,#73c7a6 19%,#73c7a6 19.5%,#68c3a5 19.8%,#68c3a5 20.2%,#61bca7 20.5%,#61bca7 21%,#5ab5aa 21.2%,#5ab5aa 22.8%,#54aead 23%,#54aead 24.8%,#4da6b0 25%,#4da6b0 27.8%,#479fb3 28%,#479fb3 31%,#4098b6 31.2%,#4098b6 35%,#3a91b9 35.2%,#3a91b9 42.5%,#3389bc 42.8%,#3389bc 58.8%,#3881ba 59%,#3881ba 89%,#3389bc 89.2%,#3389bc 89.8%,#3881ba 90%,#3881ba 91.2%,#3389bc 91.5%,#3389bc 93.5%,#3a91b9 93.8%,#3a91b9 100%)"></i><i style="top:416.29px;background:linear-gradient(90deg,#3389bc 0%,#3389bc 1.5%,#3a91b9 1.8%,#3a91b9 3.2%,#4098b6 3.5%,#4098b6 5%,#479fb3 5.2%,#479fb3 6.2%,#4da6b0 6.5%,#4da6b0 7.8%,#54aead 8%,#54aead 9%,#5ab5aa 9.2%,#5ab5aa 10%,#61bca7 10.2%,#61bca7 11%,#68c3a5 11.2%,#68c3a5 11.8%,#73c7a6 12%,#73c7a6 12.5%,#7ecba6 12.8%,#7ecba6 13.5%,#88d0a6 13.8%,#88d0a6 14%,#93d4a7 14.2%,#93d4a7 15.5%,#88d0a6 15.8%,#88d0a6 16.5%,#7ecba6 16.8%,#7ecba6 17.5%,#73c7a6 17.8%,#73c7a6 18.2%,#68c3a5 18.5%,#68c3a5 19%,#61bca7 19.2%,#61bca7 20%,#5ab5aa 20.2%,#5ab5aa 21.8%,#54aead 22%,#54aead 23.8%,#4da6b0 24%,#4da6b0 26.5%,#479fb3 26.8%,#479fb3 30%,#4098b6 30.2%,#4098b6 33.8%,#3a91b9 34%,#3a91b9 40%,#3389bc 40.2%,#3389bc 58.2%,#3881ba 58.5%,#3881ba 90%,#3389bc 90.2%,#3389bc 90.8%,#3881ba 91%,#3881ba 92.2%,#3389bc 92.5%,#3389bc 95%,#3a91b9 95.2%,#3a91b9 100%)"></i><i style="top:424.00px;background:linear-gradient(90deg,#3389bc 0%,#3389bc 1.2%,#3a91b9 1.5%,#3a91b9 3%,#4098b6 3.2%,#4098b6 4.5%,#479fb3 4.8%,#479fb3 5.8%,#4da6b0 6%,#4da6b0 7.2%,#54aead 7.5%,#54aead 8.5%,#5ab5aa 8.8%,#5ab5aa 9.5%,#61bca7 9.8%,#61bca7 10.5%,#68c3a5 10.8%,#68c3a5 11.2%,#73c7a6 11.5%,#73c7a6 12.2%,#7ecba6 12.5%,#7ecba6 13%,#88d0a6 13.2%,#88d0a6 15%,#7ecba6 15.2%,#7ecba6 16.2%,#73c7a6 16.5%,#73c7a6 17.2%,#68c3a5 17.5%,#68c3a5 18%,#61bca7 18.2%,#61bca7 19%,#5ab5aa 19.2%,#5ab5aa 20.8%,#54aead 21%,#54aead 22.8%,#4da6b0 23%,#4da6b0 25.5%,#479fb3 25.8%,#479fb3 28.8%,#4098b6 29%,#4098b6 32.5%,#3a91b9 32.8%,#3a91b9 37.8%,#3389bc 38%,#3389bc 57.8%,#3881ba 58%,#3881ba 89.8%,#3389bc 90%,#3389bc 91.8%,#3881ba 92%,#3881ba 93.2%,#3389bc 93.5%,#3389bc 96.5%,#3a91b9 96.8%,#3a91b9 100%)"></i><i style="top:431.71px;background:linear-gradient(90deg,#3389bc 0%,#3389bc 1.2%,#3a91b9 1.5%,#3a91b9 2.8%,#4098b6 3%,#4098b6 4%,#479fb3 4.2%,#479fb3 5.5%,#4da6b0 5.8%,#4da6b0 6.8%,#54aead 7%,#54aead 8%,#5ab5aa 8.2%,#5ab5aa 9%,#61bca7 9.2%,#61bca7 10%,#68c3a5 10.2%,#68c3a5 11%,#73c7a6 11.2%,#73c7a6 12%,#7ecba6 12.2%,#7ecba6 14.5%,#73c7a6 14.8%,#73c7a6 15.8%,#68c3a5 16%,#68c3a5 16.8%,#61bca7 17%,#61bca7 18%,#5ab5aa 18.2%,#5ab5aa 19.5%,#54aead 19.8%,#54aead 21.8%,#4da6b0 22%,#4da6b0 24.2%,#479fb3 24.5%,#479fb3 27.5%,#4098b6 27.8%,#4098b6 31%,#3a91b9 31.2%,#3a91b9 36%,#3389bc 36.2%,#3389bc 56.8%,#3881ba 57%,#3881ba 90.8%,#3389bc 91%,#3389bc 92.8%,#3881ba 93%,#3881ba 94.2%,#3389bc 94.5%,#3389bc 94.8%,#3881ba 95%,#3389bc 95.2%,#3389bc 97.5%,#3a91b9 97.8%,#3a91b9 100%)"></i><i style="top:439.42px;background:linear-gradient(90deg,#3389bc 0%,#3389bc 1%,#3a91b9 1.2%,#3a91b9 2.5%,#4098b6 2.8%,#4098b6 3.8%,#479fb3 4%,#479fb3 5%,#4da6b0 5.2%,#4da6b0 6.2%,#54aead 6.5%,#54aead 7.5%,#5ab5aa 7.8%,#5ab5aa 8.5%,#61bca7 8.8%,#61bca7 9.5%,#68c3a5 9.8%,#68c3a5 10.5%,#73c7a6 10.8%,#73c7a6 11.5%,#7ecba6 11.8%,#7ecba6 12.8%,#73c7a6 13%,#73c7a6 14%,#68c3a5 14.2%,#68c3a5 15.2%,#61bca7 15.5%,#61bca7 16.2%,#5ab5aa 16.5%,#5ab5aa 18%,#54aead 18.2%,#54aead 20.2%,#4da6b0 20.5%,#4da6b0 22.8%,#479fb3 23%,#479fb3 26%,#4098b6 26.2%,#4098b6 29.2%,#3a91b9 29.5%,#3a91b9 34.8%,#3389bc 35%,#3389bc 56%,#3881ba 56.2%,#3881ba 91.8%,#3389bc 92%,#3389bc 93.8%,#3881ba 94%,#3881ba 95.2%,#3389bc 95.5%,#3389bc 95.8%,#3881ba 96%,#3389bc 96.2%,#3389bc 98.2%,#3a91b9 98.5%,#3a91b9 100%)"></i><i style="top:447.13px;background:linear-gradient(90deg,#3389bc 0%,#3389bc 1%,#3a91b9 1.2%,#3a91b9 2.2%,#4098b6 2.5%,#4098b6 3.5%,#479fb3 3.8%,#479fb3 4.8%,#4da6b0 5%,#4da6b0 5.8%,#54aead 6%,#54aead 7%,#5ab5aa 7.2%,#5ab5aa 8%,#61bca7 8.2%,#61bca7 9%,#68c3a5 9.2%,#68c3a5 10%,#73c7a6 10.2%,#73c7a6 12%,#68c3a5 12.2%,#68c3a5 13.5%,#61bca7 13.8%,#61bca7 14.8%,#5ab5aa 15%,#5ab5aa 16.5%,#54aead 16.8%,#54aead 18.8%,#4da6b0 19%,#4da6b0 21.2%,#479fb3 21.5%,#479fb3 24.5%,#4098b6 24.8%,#4098b6 27.5%,#3a91b9 27.8%,#3a91b9 33.2%,#3389bc 33.5%,#3389bc 55%,#3881ba 55.2%,#3881ba 92.8%,#3389bc 93%,#3389bc 94.8%,#3881ba 95%,#3881ba 96.2%,#3389bc 96.5%,#3389bc 96.8%,#3881ba 97%,#3389bc 97.2%,#3389bc 99%,#3a91b9 99.2%,#3a91b9 100%)"></i><i style="top:454.84px;background:linear-gradient(90deg,#3389bc 0%,#3389bc 0.8%,#3a91b9 1%,#3a91b9 2.2%,#4098b6 2.5%,#4098b6 3.2%,#479fb3 3.5%,#479fb3 4.5%,#4da6b0 4.8%,#4da6b0 5.2%,#54aead 5.5%,#54aead 6.2%,#5ab5aa 6.5%,#5ab5aa 7.5%,#61bca7 7.8%,#61bca7 8.5%,#68c3a5 8.8%,#68c3a5 11.5%,#61bca7 11.8%,#61bca7 13%,#5ab5aa 13.2%,#5ab5aa 14.8%,#54aead 15%,#54aead 17.2%,#4da6b0 17.5%,#4da6b0 20%,#479fb3 20.2%,#479fb3 23%,#4098b6 23.2%,#4098b6 26%,#3a91b9 26.2%,#3a91b9 32%,#3389bc 32.2%,#3389bc 54%,#3881ba 54.2%,#3881ba 93%,#3389bc 93.2%,#3389bc 95.8%,#3881ba 96%,#3881ba 97.2%,#3389bc 97.5%,#3389bc 97.8%,#3881ba 98%,#3389bc 98.2%,#3389bc 99.8%,#3a91b9 100%)"></i><i style="top:462.55px;background:linear-gradient(90deg,#3389bc 0%,#3389bc 0.5%,#3a91b9 0.8%,#3a91b9 1.8%,#4098b6 2%,#4098b6 3%,#479fb3 3.2%,#479fb3 4%,#4da6b0 4.2%,#4da6b0 4.8%,#54aead 5%,#54aead 5.8%,#5ab5aa 6%,#5ab5aa 6.8%,#61bca7 7%,#61bca7 8.2%,#68c3a5 8.5%,#68c3a5 9.2%,#61bca7 9.5%,#61bca7 11.2%,#5ab5aa 11.5%,#5ab5aa 13%,#54aead 13.2%,#54aead 15.5%,#4da6b0 15.8%,#4da6b0 18.2%,#479fb3 18.5%,#479fb3 21.2%,#4098b6 21.5%,#4098b6 24.2%,#3a91b9 24.5%,#3a91b9 30.5%,#3389bc 30.8%,#3389bc 53%,#3881ba 53.2%,#3881ba 92.5%,#3389bc 92.8%,#3389bc 96.8%,#3881ba 97%,#3881ba 98.5%,#3389bc 98.8%,#3881ba 99%,#3389bc 99.2%,#3389bc 100%)"></i><i style="top:470.25px;background:linear-gradient(90deg,#3a91b9 0%,#3a91b9 1.2%,#4098b6 1.5%,#4098b6 2.2%,#479fb3 2.5%,#479fb3 3.2%,#4da6b0 3.5%,#4da6b0 4.2%,#54aead 4.5%,#54aead 5.2%,#5ab5aa 5.5%,#5ab5aa 6.2%,#61bca7 6.5%,#61bca7 9%,#5ab5aa 9.2%,#5ab5aa 11%,#54aead 11.2%,#54aead 13.2%,#4da6b0 13.5%,#4da6b0 16.2%,#479fb3 16.5%,#479fb3 19.2%,#4098b6 19.5%,#4098b6 22%,#3a91b9 22.2%,#3a91b9 28.5%,#3389bc 28.8%,#3389bc 49.5%,#3881ba 49.8%,#3881ba 92.8%,#3389bc 93%,#3389bc 97.8%,#3881ba 98%,#3881ba 99.2%,#3389bc 99.5%,#3389bc 99.8%,#3881ba 100%)"></i><i style="top:477.96px;background:linear-gradient(90deg,#3a91b9 0%,#3a91b9 0.5%,#4098b6 0.8%,#4098b6 1.8%,#479fb3 2%,#479fb3 2.8%,#4da6b0 3%,#4da6b0 3.5%,#54aead 3.8%,#54aead 4.5%,#5ab5aa 4.8%,#5ab5aa 6.2%,#61bca7 6.5%,#5ab5aa 6.8%,#5ab5aa 8.8%,#54aead 9%,#54aead 11.2%,#4da6b0 11.5%,#4da6b0 14.2%,#479fb3 14.5%,#479fb3 17.2%,#4098b6 17.5%,#4098b6 19.8%,#3a91b9 20%,#3a91b9 25.8%,#3389bc 26%,#3389bc 43.2%,#3881ba 43.5%,#3881ba 93.2%,#3389bc 93.5%,#3389bc 98.8%,#3881ba 99%,#3881ba 100%)"></i><i style="top:485.67px;background:linear-gradient(90deg,#3a91b9 0%,#4098b6 0.2%,#4098b6 1%,#479fb3 1.2%,#479fb3 2%,#4da6b0 2.2%,#4da6b0 2.8%,#54aead 3%,#54aead 4%,#5ab5aa 4.2%,#5ab5aa 6.5%,#54aead 6.8%,#54aead 9%,#4da6b0 9.2%,#4da6b0 12.2%,#479fb3 12.5%,#479fb3 15.2%,#4098b6 15.5%,#4098b6 17.8%,#3a91b9 18%,#3a91b9 22.8%,#3389bc 23%,#3389bc 37.2%,#3881ba 37.5%,#3881ba 93.8%,#3389bc 94%,#3389bc 99.8%,#3881ba 100%)"></i><i style="top:493.38px;background:linear-gradient(90deg,#4098b6 0%,#4098b6 0.2%,#479fb3 0.5%,#479fb3 1.2%,#4da6b0 1.5%,#4da6b0 2%,#54aead 2.2%,#54aead 6.5%,#4da6b0 6.8%,#4da6b0 10%,#479fb3 10.2%,#479fb3 13.5%,#4098b6 13.8%,#4098b6 15.8%,#3a91b9 16%,#3a91b9 19.5%,#3389bc 19.8%,#3389bc 31.8%,#3881ba 32%,#3881ba 94%,#3389bc 94.2%,#3389bc 100%)"></i><i style="top:501.09px;background:linear-gradient(90deg,#479fb3 0%,#479fb3 0.2%,#4da6b0 0.5%,#4da6b0 1.2%,#54aead 1.5%,#54aead 3.8%,#4da6b0 4%,#4da6b0 8%,#479fb3 8.2%,#479fb3 12.2%,#4098b6 12.5%,#4098b6 14.5%,#3a91b9 14.8%,#3a91b9 17.2%,#3389bc 17.5%,#3389bc 28.2%,#3881ba 28.5%,#3881ba 93.8%,#3389bc 94%,#3389bc 100%)"></i></div>
<div class="cb" style="left:711.9px;top:68.3px;width:36.8px;height:507.2px;background:linear-gradient(0deg,#2c2246 0.0%,#5e4fa2 10.0%,#3288bd 20.0%,#66c2a5 32.5%,#abdda8 42.5%,#e2f2a4 46.5%,#ffffb8 50.0%,#fee08b 53.5%,#fdae61 59.5%,#f46d43 71.5%,#d53e4f 80.0%,#9e0142 90.0%,#3c001c 100.0%)"></div>
<div class="cb" style="left:1510.1px;top:68.3px;width:36.7px;height:508.0px;background:linear-gradient(0deg,#2c2246 0.0%,#5e4fa2 10.0%,#3288bd 20.0%,#66c2a5 32.5%,#abdda8 42.5%,#e2f2a4 46.5%,#ffffb8 50.0%,#fee08b 53.5%,#fdae61 59.5%,#f46d43 71.5%,#d53e4f 80.0%,#9e0142 90.0%,#3c001c 100.0%)"></div>
<div class="cb" style="left:711.9px;top:719.3px;width:36.8px;height:503.2px;background:linear-gradient(0deg,#2c2246 0.0%,#5e4fa2 10.0%,#3288bd 20.0%,#66c2a5 32.5%,#abdda8 42.5%,#e2f2a4 46.5%,#ffffb8 50.0%,#fee08b 53.5%,#fdae61 59.5%,#f46d43 71.5%,#d53e4f 80.0%,#9e0142 90.0%,#3c001c 100.0%)"></div>
<div class="cb" style="left:1499.7px;top:718.3px;width:35.7px;height:508.2px;background:linear-gradient(0deg,#30264d 0.00% 1.56%,#382d5c 1.56% 3.12%,#40346a 3.12% 4.69%,#473b78 4.69% 6.25%,#4f4287 6.25% 7.81%,#574995 7.81% 9.38%,#5d50a2 9.38% 10.94%,#5659a7 10.94% 12.50%,#5062ab 12.50% 14.06%,#496baf 14.06% 15.62%,#4274b3 15.62% 17.19%,#3b7cb8 17.19% 18.75%,#3485bc 18.75% 20.31%,#378dbb 20.31% 21.88%,#3d94b8 21.88% 23.44%,#449cb5 23.44% 25.00%,#4aa3b2 25.00% 26.56%,#51aaaf 26.56% 28.12%,#57b1ac 28.12% 29.69%,#5eb9a9 29.69% 31.25%,#64c0a6 31.25% 32.81%,#6ec5a5 32.81% 34.38%,#78c9a6 34.38% 35.94%,#83cda6 35.94% 37.50%,#8ed2a7 37.50% 39.06%,#99d6a7 39.06% 40.62%,#a3daa8 40.62% 42.19%,#b1dfa8 42.19% 43.75%,#c7e8a6 43.75% 45.31%,#dcf0a4 45.31% 46.88%,#ecf6ab 46.88% 48.44%,#f9fcb4 48.44% 50.00%,#fff8ae 50.00% 51.56%,#feea9a 51.56% 53.12%,#fedd88 53.12% 54.69%,#fed07d 54.69% 56.25%,#fdc372 56.25% 57.81%,#fdb667 57.81% 59.38%,#fdaa5f 59.38% 60.94%,#fba25b 60.94% 62.50%,#fa9a58 62.50% 64.06%,#f99154 64.06% 65.62%,#f88950 65.62% 67.19%,#f7804c 67.19% 68.75%,#f57848 68.75% 70.31%,#f46f44 70.31% 71.88%,#f06745 71.88% 73.44%,#ea5e47 73.44% 75.00%,#e45549 75.00% 76.56%,#df4d4b 76.56% 78.12%,#d9444d 78.12% 79.69%,#d23b4e 79.69% 81.25%,#ca324c 81.25% 82.81%,#c1284a 82.81% 84.38%,#b91f48 84.38% 85.94%,#b01546 85.94% 87.50%,#a70b44 87.50% 89.06%,#9f0242 89.06% 90.62%,#90013d 90.62% 92.19%,#810137 92.19% 93.75%,#720131 93.75% 95.31%,#62002b 95.31% 96.88%,#530025 96.88% 98.44%,#44001f 98.44% 100.00%)"></div>
<svg id="ov" width="1611" height="1311" viewBox="0 0 1611 1311">
<rect x="166.0" y="67.0" width="517.2" height="506.3" fill="none" stroke="#161616" stroke-width="2.0"/>
<path d="M166.0 105.9h4M166.0 144.9h4M166.0 183.8h4M166.0 222.8h4M166.0 261.7h4M166.0 300.7h4M166.0 339.6h4M166.0 378.6h4M166.0 417.5h4M166.0 456.5h4M166.0 495.4h4M166.0 534.4h4M217.7 573.3v-4M269.4 573.3v-4M321.2 573.3v-4M372.9 573.3v-4M424.6 573.3v-4M476.3 573.3v-4M528.0 573.3v-4M579.8 573.3v-4M631.5 573.3v-4" stroke="#161616" stroke-width="1.8" fill="none"/>
<text transform="translate(155.8 79.2) scale(1.000 1.030)" font-size="28.1" class="s" text-anchor="end">150</text>
<text transform="translate(155.8 118.0) scale(1.000 1.030)" font-size="28.1" class="s" text-anchor="end">140</text>
<text transform="translate(155.8 156.7) scale(1.000 1.030)" font-size="28.1" class="s" text-anchor="end">130</text>
<text transform="translate(155.8 195.5) scale(1.000 1.030)" font-size="28.1" class="s" text-anchor="end">120</text>
<text transform="translate(155.8 234.2) scale(1.000 1.030)" font-size="28.1" class="s" text-anchor="end">110</text>
<text transform="translate(155.8 273.0) scale(1.000 1.030)" font-size="28.1" class="s" text-anchor="end">100</text>
<text transform="translate(155.8 311.8) scale(1.000 1.030)" font-size="28.1" class="s" text-anchor="end">90</text>
<text transform="translate(155.8 350.5) scale(1.000 1.030)" font-size="28.1" class="s" text-anchor="end">80</text>
<text transform="translate(155.8 389.3) scale(1.000 1.030)" font-size="28.1" class="s" text-anchor="end">70</text>
<text transform="translate(155.8 428.1) scale(1.000 1.030)" font-size="28.1" class="s" text-anchor="end">60</text>
<text transform="translate(155.8 466.8) scale(1.000 1.030)" font-size="28.1" class="s" text-anchor="end">50</text>
<text transform="translate(155.8 505.6) scale(1.000 1.030)" font-size="28.1" class="s" text-anchor="end">40</text>
<text transform="translate(155.8 544.3) scale(1.000 1.030)" font-size="28.1" class="s" text-anchor="end">30</text>
<text transform="translate(155.8 583.1) scale(1.000 1.030)" font-size="28.1" class="s" text-anchor="end">20</text>
<text transform="translate(165.3 603.9) scale(1.000 1.030)" font-size="28.1" class="s" text-anchor="middle">150</text>
<text transform="translate(217.7 603.9) scale(1.000 1.030)" font-size="28.1" class="s" text-anchor="middle">170</text>
<text transform="translate(270.2 603.9) scale(1.000 1.030)" font-size="28.1" class="s" text-anchor="middle">190</text>
<text transform="translate(322.6 603.9) scale(1.000 1.030)" font-size="28.1" class="s" text-anchor="middle">210</text>
<text transform="translate(375.1 603.9) scale(1.000 1.030)" font-size="28.1" class="s" text-anchor="middle">230</text>
<text transform="translate(427.5 603.9) scale(1.000 1.030)" font-size="28.1" class="s" text-anchor="middle">250</text>
<text transform="translate(479.9 603.9) scale(1.000 1.030)" font-size="28.1" class="s" text-anchor="middle">270</text>
<text transform="translate(532.4 603.9) scale(1.000 1.030)" font-size="28.1" class="s" text-anchor="middle">290</text>
<text transform="translate(584.8 603.9) scale(1.000 1.030)" font-size="28.1" class="s" text-anchor="middle">310</text>
<text transform="translate(637.3 603.9) scale(1.000 1.030)" font-size="28.1" class="s" text-anchor="middle">330</text>
<text transform="translate(689.7 603.9) scale(1.000 1.030)" font-size="28.1" class="s" text-anchor="middle">350</text>
<path d="M712.4 68.3V575.5M748.4 68.3V575.5" fill="none" stroke="#2a2a2a" stroke-width="1.2"/>
<text transform="translate(763.4 80.2) scale(1.000 1.030)" font-size="28.1" class="s">0.7</text>
<text transform="translate(763.4 145.5) scale(1.000 1.030)" font-size="28.1" class="s">0.6</text>
<text transform="translate(763.4 217.5) scale(1.000 1.030)" font-size="28.1" class="s">0.5</text>
<text transform="translate(763.4 289.5) scale(1.000 1.030)" font-size="28.1" class="s">0.4</text>
<text transform="translate(763.4 361.5) scale(1.000 1.030)" font-size="28.1" class="s">0.3</text>
<text transform="translate(763.4 433.5) scale(1.000 1.030)" font-size="28.1" class="s">0.2</text>
<text transform="translate(763.4 505.5) scale(1.000 1.030)" font-size="28.1" class="s">0.1</text>
<text transform="translate(763.4 577.5) scale(1.000 1.030)" font-size="28.1" class="s">0</text>
<path d="M748.7 68.3h9M748.7 140.8h9M748.7 213.2h9M748.7 285.7h9M748.7 358.1h9M748.7 430.6h9M748.7 503.0h9M748.7 575.5h9" stroke="#555" stroke-width="1.2" fill="none"/>
<path d="M166.0 357.0H294.4" stroke="#111" stroke-width="1.3" stroke-dasharray="1.6 1.2" fill="none"/>
<path d="M294.4 357.0V573.3" stroke="#111" stroke-width="1.3" stroke-dasharray="1.6 1.2" fill="none"/>
<circle cx="294.4" cy="357.0" r="3.7" fill="#0c0c0c"/>
<rect x="965.0" y="66.8" width="516.6" height="507.5" fill="none" stroke="#161616" stroke-width="2.0"/>
<path d="M965.0 105.8h4M965.0 144.9h4M965.0 183.9h4M965.0 223.0h4M965.0 262.0h4M965.0 301.0h4M965.0 340.1h4M965.0 379.1h4M965.0 418.1h4M965.0 457.2h4M965.0 496.2h4M965.0 535.3h4M1016.7 574.3v-4M1068.3 574.3v-4M1120.0 574.3v-4M1171.6 574.3v-4M1223.3 574.3v-4M1275.0 574.3v-4M1326.6 574.3v-4M1378.3 574.3v-4M1429.9 574.3v-4" stroke="#161616" stroke-width="1.8" fill="none"/>
<text transform="translate(961.3 79.4) scale(1.000 1.030)" font-size="28.1" class="s" text-anchor="end">150</text>
<text transform="translate(961.3 118.1) scale(1.000 1.030)" font-size="28.1" class="s" text-anchor="end">140</text>
<text transform="translate(961.3 156.9) scale(1.000 1.030)" font-size="28.1" class="s" text-anchor="end">130</text>
<text transform="translate(961.3 195.6) scale(1.000 1.030)" font-size="28.1" class="s" text-anchor="end">120</text>
<text transform="translate(961.3 234.4) scale(1.000 1.030)" font-size="28.1" class="s" text-anchor="end">110</text>
<text transform="translate(961.3 273.1) scale(1.000 1.030)" font-size="28.1" class="s" text-anchor="end">100</text>
<text transform="translate(961.3 311.9) scale(1.000 1.030)" font-size="28.1" class="s" text-anchor="end">90</text>
<text transform="translate(961.3 350.6) scale(1.000 1.030)" font-size="28.1" class="s" text-anchor="end">80</text>
<text transform="translate(961.3 389.4) scale(1.000 1.030)" font-size="28.1" class="s" text-anchor="end">70</text>
<text transform="translate(961.3 428.1) scale(1.000 1.030)" font-size="28.1" class="s" text-anchor="end">60</text>
<text transform="translate(961.3 466.9) scale(1.000 1.030)" font-size="28.1" class="s" text-anchor="end">50</text>
<text transform="translate(961.3 505.6) scale(1.000 1.030)" font-size="28.1" class="s" text-anchor="end">40</text>
<text transform="translate(961.3 544.4) scale(1.000 1.030)" font-size="28.1" class="s" text-anchor="end">30</text>
<text transform="translate(961.3 583.1) scale(1.000 1.030)" font-size="28.1" class="s" text-anchor="end">20</text>
<text transform="translate(970.0 603.9) scale(1.000 1.030)" font-size="28.1" class="s" text-anchor="middle">150</text>
<text transform="translate(1022.3 603.9) scale(1.000 1.030)" font-size="28.1" class="s" text-anchor="middle">170</text>
<text transform="translate(1074.7 603.9) scale(1.000 1.030)" font-size="28.1" class="s" text-anchor="middle">190</text>
<text transform="translate(1127.0 603.9) scale(1.000 1.030)" font-size="28.1" class="s" text-anchor="middle">210</text>
<text transform="translate(1179.4 603.9) scale(1.000 1.030)" font-size="28.1" class="s" text-anchor="middle">230</text>
<text transform="translate(1231.7 603.9) scale(1.000 1.030)" font-size="28.1" class="s" text-anchor="middle">250</text>
<text transform="translate(1284.0 603.9) scale(1.000 1.030)" font-size="28.1" class="s" text-anchor="middle">270</text>
<text transform="translate(1336.4 603.9) scale(1.000 1.030)" font-size="28.1" class="s" text-anchor="middle">290</text>
<text transform="translate(1388.7 603.9) scale(1.000 1.030)" font-size="28.1" class="s" text-anchor="middle">310</text>
<text transform="translate(1441.1 603.9) scale(1.000 1.030)" font-size="28.1" class="s" text-anchor="middle">330</text>
<text transform="translate(1493.4 603.9) scale(1.000 1.030)" font-size="28.1" class="s" text-anchor="middle">350</text>
<path d="M1510.6 68.3V576.3M1546.5 68.3V576.3" fill="none" stroke="#2a2a2a" stroke-width="1.2"/>
<text transform="translate(1561.1 81.9) scale(1.000 1.030)" font-size="28.1" class="s">0.7</text>
<text transform="translate(1561.1 153.5) scale(1.000 1.030)" font-size="28.1" class="s">0.6</text>
<text transform="translate(1561.1 225.1) scale(1.000 1.030)" font-size="28.1" class="s">0.5</text>
<text transform="translate(1561.1 296.7) scale(1.000 1.030)" font-size="28.1" class="s">0.4</text>
<text transform="translate(1561.1 368.4) scale(1.000 1.030)" font-size="28.1" class="s">0.3</text>
<text transform="translate(1561.1 440.0) scale(1.000 1.030)" font-size="28.1" class="s">0.2</text>
<text transform="translate(1561.1 511.6) scale(1.000 1.030)" font-size="28.1" class="s">0.1</text>
<text transform="translate(1561.1 583.2) scale(1.000 1.030)" font-size="28.1" class="s">0</text>
<path d="M1546.8 68.3h9M1546.8 140.9h9M1546.8 213.4h9M1546.8 286.0h9M1546.8 358.6h9M1546.8 431.2h9M1546.8 503.7h9M1546.8 576.3h9" stroke="#555" stroke-width="1.2" fill="none"/>
<path d="M965.0 358.0H1091.0" stroke="#111" stroke-width="1.3" stroke-dasharray="1.6 1.2" fill="none"/>
<path d="M1091.0 358.0V574.3" stroke="#111" stroke-width="1.3" stroke-dasharray="1.6 1.2" fill="none"/>
<path d="M966.2 358.0V573.1H1091.0" stroke="#111" stroke-width="1.6" stroke-dasharray="1.5 1.5" fill="none"/>
<circle cx="1091.0" cy="358.0" r="3.7" fill="#0c0c0c"/>
<rect x="165.0" y="718.0" width="518.3" height="502.8" fill="none" stroke="#161616" stroke-width="2.0"/>
<path d="M165.0 756.7h4M165.0 795.4h4M165.0 834.0h4M165.0 872.7h4M165.0 911.4h4M165.0 950.1h4M165.0 988.7h4M165.0 1027.4h4M165.0 1066.1h4M165.0 1104.8h4M165.0 1143.4h4M165.0 1182.1h4M216.8 1220.8v-4M268.7 1220.8v-4M320.5 1220.8v-4M372.3 1220.8v-4M424.1 1220.8v-4M476.0 1220.8v-4M527.8 1220.8v-4M579.6 1220.8v-4M631.5 1220.8v-4" stroke="#161616" stroke-width="1.8" fill="none"/>
<text transform="translate(154.2 727.7) scale(1.000 1.030)" font-size="28.1" class="s" text-anchor="end">150</text>
<text transform="translate(154.2 766.2) scale(1.000 1.030)" font-size="28.1" class="s" text-anchor="end">140</text>
<text transform="translate(154.2 804.6) scale(1.000 1.030)" font-size="28.1" class="s" text-anchor="end">130</text>
<text transform="translate(154.2 843.1) scale(1.000 1.030)" font-size="28.1" class="s" text-anchor="end">120</text>
<text transform="translate(154.2 881.5) scale(1.000 1.030)" font-size="28.1" class="s" text-anchor="end">110</text>
<text transform="translate(154.2 920.0) scale(1.000 1.030)" font-size="28.1" class="s" text-anchor="end">100</text>
<text transform="translate(154.2 958.4) scale(1.000 1.030)" font-size="28.1" class="s" text-anchor="end">90</text>
<text transform="translate(154.2 996.9) scale(1.000 1.030)" font-size="28.1" class="s" text-anchor="end">80</text>
<text transform="translate(154.2 1035.3) scale(1.000 1.030)" font-size="28.1" class="s" text-anchor="end">70</text>
<text transform="translate(154.2 1073.8) scale(1.000 1.030)" font-size="28.1" class="s" text-anchor="end">60</text>
<text transform="translate(154.2 1112.2) scale(1.000 1.030)" font-size="28.1" class="s" text-anchor="end">50</text>
<text transform="translate(154.2 1150.7) scale(1.000 1.030)" font-size="28.1" class="s" text-anchor="end">40</text>
<text transform="translate(154.2 1189.1) scale(1.000 1.030)" font-size="28.1" class="s" text-anchor="end">30</text>
<text transform="translate(154.2 1227.6) scale(1.000 1.030)" font-size="28.1" class="s" text-anchor="end">20</text>
<text transform="translate(163.6 1248.4) scale(1.000 1.030)" font-size="28.1" class="s" text-anchor="middle">150</text>
<text transform="translate(216.2 1248.4) scale(1.000 1.030)" font-size="28.1" class="s" text-anchor="middle">170</text>
<text transform="translate(268.8 1248.4) scale(1.000 1.030)" font-size="28.1" class="s" text-anchor="middle">190</text>
<text transform="translate(321.4 1248.4) scale(1.000 1.030)" font-size="28.1" class="s" text-anchor="middle">210</text>
<text transform="translate(374.0 1248.4) scale(1.000 1.030)" font-size="28.1" class="s" text-anchor="middle">230</text>
<text transform="translate(426.6 1248.4) scale(1.000 1.030)" font-size="28.1" class="s" text-anchor="middle">250</text>
<text transform="translate(479.2 1248.4) scale(1.000 1.030)" font-size="28.1" class="s" text-anchor="middle">270</text>
<text transform="translate(531.8 1248.4) scale(1.000 1.030)" font-size="28.1" class="s" text-anchor="middle">290</text>
<text transform="translate(584.4 1248.4) scale(1.000 1.030)" font-size="28.1" class="s" text-anchor="middle">310</text>
<text transform="translate(637.0 1248.4) scale(1.000 1.030)" font-size="28.1" class="s" text-anchor="middle">330</text>
<text transform="translate(689.6 1248.4) scale(1.000 1.030)" font-size="28.1" class="s" text-anchor="middle">350</text>
<path d="M712.4 719.3V1222.5M748.4 719.3V1222.5" fill="none" stroke="#2a2a2a" stroke-width="1.2"/>
<text transform="translate(775.9 730.7) scale(1.000 1.030)" font-size="28.1" class="s">0.5</text>
<text transform="translate(775.9 780.4) scale(1.000 1.030)" font-size="28.1" class="s">0.4</text>
<text transform="translate(775.9 830.1) scale(1.000 1.030)" font-size="28.1" class="s">0.3</text>
<text transform="translate(775.9 879.7) scale(1.000 1.030)" font-size="28.1" class="s">0.2</text>
<text transform="translate(775.9 929.4) scale(1.000 1.030)" font-size="28.1" class="s">0.1</text>
<text transform="translate(775.9 979.1) scale(1.000 1.030)" font-size="28.1" class="s">0</text>
<text transform="translate(760.3 1028.8) scale(1.000 1.030)" font-size="28.1" class="s">−</text>
<text transform="translate(778.8 1028.8) scale(1.000 1.030)" font-size="28.1" class="s">0.1</text>
<text transform="translate(760.3 1078.5) scale(1.000 1.030)" font-size="28.1" class="s">−</text>
<text transform="translate(778.8 1078.5) scale(1.000 1.030)" font-size="28.1" class="s">0.2</text>
<text transform="translate(760.3 1128.1) scale(1.000 1.030)" font-size="28.1" class="s">−</text>
<text transform="translate(778.8 1128.1) scale(1.000 1.030)" font-size="28.1" class="s">0.3</text>
<text transform="translate(760.3 1177.8) scale(1.000 1.030)" font-size="28.1" class="s">−</text>
<text transform="translate(778.8 1177.8) scale(1.000 1.030)" font-size="28.1" class="s">0.4</text>
<text transform="translate(760.3 1227.5) scale(1.000 1.030)" font-size="28.1" class="s">−</text>
<text transform="translate(778.8 1227.5) scale(1.000 1.030)" font-size="28.1" class="s">0.5</text>
<path d="M748.7 719.3h9M748.7 769.6h9M748.7 819.9h9M748.7 870.3h9M748.7 920.6h9M748.7 970.9h9M748.7 1021.2h9M748.7 1071.5h9M748.7 1121.9h9M748.7 1172.2h9M748.7 1222.5h9" stroke="#555" stroke-width="1.2" fill="none"/>
<path d="M165.0 1003.1H291.3" stroke="#111" stroke-width="1.3" stroke-dasharray="1.6 1.2" fill="none"/>
<path d="M291.3 1003.1V1220.8" stroke="#111" stroke-width="1.3" stroke-dasharray="1.6 1.2" fill="none"/>
<circle cx="291.3" cy="1003.1" r="3.7" fill="#0c0c0c"/>
<rect x="963.8" y="717.0" width="501.1" height="508.8" fill="none" stroke="#161616" stroke-width="2.0"/>
<path d="M963.8 756.1h4M963.8 795.3h4M963.8 834.4h4M963.8 873.6h4M963.8 912.7h4M963.8 951.8h4M963.8 991.0h4M963.8 1030.1h4M963.8 1069.2h4M963.8 1108.4h4M963.8 1147.5h4M963.8 1186.7h4M1013.9 1225.8v-4M1064.0 1225.8v-4M1114.1 1225.8v-4M1164.2 1225.8v-4M1214.4 1225.8v-4M1264.5 1225.8v-4M1314.6 1225.8v-4M1364.7 1225.8v-4M1414.8 1225.8v-4" stroke="#161616" stroke-width="1.8" fill="none"/>
<text transform="translate(952.4 730.7) scale(1.000 1.030)" font-size="28.1" class="s" text-anchor="end">150</text>
<text transform="translate(952.4 769.4) scale(1.000 1.030)" font-size="28.1" class="s" text-anchor="end">140</text>
<text transform="translate(952.4 808.2) scale(1.000 1.030)" font-size="28.1" class="s" text-anchor="end">130</text>
<text transform="translate(952.4 846.9) scale(1.000 1.030)" font-size="28.1" class="s" text-anchor="end">120</text>
<text transform="translate(952.4 885.7) scale(1.000 1.030)" font-size="28.1" class="s" text-anchor="end">110</text>
<text transform="translate(952.4 924.4) scale(1.000 1.030)" font-size="28.1" class="s" text-anchor="end">100</text>
<text transform="translate(952.4 963.1) scale(1.000 1.030)" font-size="28.1" class="s" text-anchor="end">90</text>
<text transform="translate(952.4 1001.9) scale(1.000 1.030)" font-size="28.1" class="s" text-anchor="end">80</text>
<text transform="translate(952.4 1040.6) scale(1.000 1.030)" font-size="28.1" class="s" text-anchor="end">70</text>
<text transform="translate(952.4 1079.3) scale(1.000 1.030)" font-size="28.1" class="s" text-anchor="end">60</text>
<text transform="translate(952.4 1118.1) scale(1.000 1.030)" font-size="28.1" class="s" text-anchor="end">50</text>
<text transform="translate(952.4 1156.8) scale(1.000 1.030)" font-size="28.1" class="s" text-anchor="end">40</text>
<text transform="translate(952.4 1195.6) scale(1.000 1.030)" font-size="28.1" class="s" text-anchor="end">30</text>
<text transform="translate(952.4 1234.3) scale(1.000 1.030)" font-size="28.1" class="s" text-anchor="end">20</text>
<text transform="translate(960.3 1256.6) scale(1.000 1.030)" font-size="28.1" class="s" text-anchor="middle">150</text>
<text transform="translate(1011.1 1256.6) scale(1.000 1.030)" font-size="28.1" class="s" text-anchor="middle">170</text>
<text transform="translate(1061.9 1256.6) scale(1.000 1.030)" font-size="28.1" class="s" text-anchor="middle">190</text>
<text transform="translate(1112.8 1256.6) scale(1.000 1.030)" font-size="28.1" class="s" text-anchor="middle">210</text>
<text transform="translate(1163.6 1256.6) scale(1.000 1.030)" font-size="28.1" class="s" text-anchor="middle">230</text>
<text transform="translate(1214.4 1256.6) scale(1.000 1.030)" font-size="28.1" class="s" text-anchor="middle">250</text>
<text transform="translate(1265.2 1256.6) scale(1.000 1.030)" font-size="28.1" class="s" text-anchor="middle">270</text>
<text transform="translate(1316.0 1256.6) scale(1.000 1.030)" font-size="28.1" class="s" text-anchor="middle">290</text>
<text transform="translate(1366.9 1256.6) scale(1.000 1.030)" font-size="28.1" class="s" text-anchor="middle">310</text>
<text transform="translate(1417.7 1256.6) scale(1.000 1.030)" font-size="28.1" class="s" text-anchor="middle">330</text>
<text transform="translate(1468.5 1256.6) scale(1.000 1.030)" font-size="28.1" class="s" text-anchor="middle">350</text>
<path d="M1500.2 718.3V1226.5M1535.1 718.3V1226.5" fill="none" stroke="#2a2a2a" stroke-width="1.2"/>
<text transform="translate(1552.5 730.7) scale(1.000 1.030)" font-size="28.1" class="s">10</text>
<text transform="translate(1581.1 718.8)" font-size="14.0" class="s">4</text>
<text transform="translate(1552.5 831.6) scale(1.000 1.030)" font-size="28.1" class="s">10</text>
<text transform="translate(1581.1 819.7)" font-size="14.0" class="s">3</text>
<text transform="translate(1552.5 932.6) scale(1.000 1.030)" font-size="28.1" class="s">10</text>
<text transform="translate(1581.1 920.7)" font-size="14.0" class="s">2</text>
<text transform="translate(1552.5 1033.5) scale(1.000 1.030)" font-size="28.1" class="s">10</text>
<text transform="translate(1581.1 1021.6)" font-size="14.0" class="s">1</text>
<text transform="translate(1552.5 1134.5) scale(1.000 1.030)" font-size="28.1" class="s">10</text>
<text transform="translate(1581.1 1122.6)" font-size="14.0" class="s">0</text>
<text transform="translate(1552.5 1235.4) scale(1.000 1.030)" font-size="28.1" class="s">10</text>
<text transform="translate(1578.8 1224.0) scale(0.780 1.000)" font-size="14.0" class="s">−1</text>
<path d="M1535.4 718.3h9M1535.4 819.9h9M1535.4 921.6h9M1535.4 1023.2h9M1535.4 1124.9h9M1535.4 1226.5h9" stroke="#555" stroke-width="1.2" fill="none"/>
<path d="M963.8 1004.6H1086.2" stroke="#2a3a4a" stroke-width="0.9" stroke-dasharray="1.6 1.2" fill="none"/>
<path d="M1086.2 1004.6V1225.8" stroke="#2a3a4a" stroke-width="0.9" stroke-dasharray="1.6 1.2" fill="none"/>
<circle cx="1086.2" cy="1004.6" r="3.2" fill="#0c0c0c"/>
<text transform="translate(17.8 106.0) scale(1.000 1.127)" font-size="58.5" class="s">(a)</text>
<text transform="translate(814.5 108.0) scale(1.000 1.127)" font-size="58.5" class="s">(b)</text>
<text transform="translate(17.8 752.0) scale(1.000 1.127)" font-size="58.5" class="s">(c)</text>
<text transform="translate(818.4 754.3) scale(1.000 1.127)" font-size="58.5" class="s">(d)</text>
<text transform="translate(377.6 632.0)" font-size="29.0" class="a" font-style="italic">L</text>
<text transform="translate(393.9 639.5)" font-size="21.0" class="a">3</text>
<text transform="translate(410.9 632.0) scale(1.045 1.000)" font-size="29.0" class="a">(nm)</text>
<text transform="translate(1181.8 632.2)" font-size="29.0" class="a" font-style="italic">L</text>
<text transform="translate(1198.1 639.7)" font-size="21.0" class="a">3</text>
<text transform="translate(1215.1 632.2) scale(1.045 1.000)" font-size="29.0" class="a">(nm)</text>
<text transform="translate(373.8 1279.7)" font-size="29.0" class="a" font-style="italic">L</text>
<text transform="translate(390.1 1287.2)" font-size="21.0" class="a">3</text>
<text transform="translate(407.1 1279.7) scale(1.045 1.000)" font-size="29.0" class="a">(nm)</text>
<text transform="translate(1166.8 1284.8)" font-size="29.0" class="a" font-style="italic">L</text>
<text transform="translate(1183.1 1292.3)" font-size="21.0" class="a">3</text>
<text transform="translate(1200.1 1284.8) scale(1.045 1.000)" font-size="29.0" class="a">(nm)</text>
<text transform="translate(107.4 372.3) rotate(-90) scale(0.800 1.000)" font-size="30.5" class="a" font-style="italic">W</text>
<text transform="translate(116.4 346.8) rotate(-90)" font-size="21.0" class="a">3</text>
<text transform="translate(107.4 330.8) rotate(-90) scale(1.060 1.000)" font-size="29.0" class="a">(nm)</text>
<text transform="translate(911.1 372.3) rotate(-90) scale(0.800 1.000)" font-size="30.5" class="a" font-style="italic">W</text>
<text transform="translate(920.1 346.8) rotate(-90)" font-size="21.0" class="a">3</text>
<text transform="translate(911.1 330.8) rotate(-90) scale(1.060 1.000)" font-size="29.0" class="a">(nm)</text>
<text transform="translate(107.0 1025.7) rotate(-90) scale(0.800 1.000)" font-size="30.5" class="a" font-style="italic">W</text>
<text transform="translate(116.0 1000.2) rotate(-90)" font-size="21.0" class="a">3</text>
<text transform="translate(107.0 984.2) rotate(-90) scale(1.060 1.000)" font-size="29.0" class="a">(nm)</text>
<text transform="translate(904.5 1022.0) rotate(-90) scale(0.800 1.000)" font-size="30.5" class="a" font-style="italic">W</text>
<text transform="translate(913.5 996.5) rotate(-90)" font-size="21.0" class="a">3</text>
<text transform="translate(904.5 980.5) rotate(-90) scale(1.060 1.000)" font-size="29.0" class="a">(nm)</text>
<text transform="translate(399.3 47.0) scale(1.000 1.130)" font-size="29.5" class="a">T</text>
<text transform="translate(412.3 54.8) scale(1.000 1.040)" font-size="18.7" class="a">RCP</text>
<text transform="translate(1203.5 51.5) scale(1.000 1.130)" font-size="29.5" class="a">T</text>
<text transform="translate(1216.5 59.3) scale(1.000 1.040)" font-size="18.7" class="a">LCP</text>
<text transform="translate(289.0 695.5) scale(1.000 1.100)" font-size="28.0" class="a">CPTD ( T</text>
<text transform="translate(408.5 702.5)" font-size="21.5" class="a">LCP</text>
<text transform="translate(456.0 695.5) scale(1.000 1.100)" font-size="28.0" class="a">−</text>
<text transform="translate(475.2 695.5) scale(1.000 1.100)" font-size="28.0" class="a">T</text>
<text transform="translate(488.0 702.5)" font-size="21.5" class="a">RCP</text>
<text transform="translate(533.0 695.5) scale(1.000 1.100)" font-size="28.0" class="a">)</text>
<text transform="translate(1092.0 689.9) scale(1.000 1.060)" font-size="29.8" class="a">CPER</text>
<text transform="translate(1174.8 690.7) scale(1.000 1.050)" font-size="23.0" class="a">(</text>
<text transform="translate(1184.4 689.9) scale(1.000 1.060)" font-size="29.8" class="a">T</text>
<text transform="translate(1197.1 697.9) scale(1.000 1.120)" font-size="20.8" class="a">LCP</text>
<text transform="translate(1239.8 689.9) scale(1.000 1.060)" font-size="29.8" class="a">/</text>
<text transform="translate(1251.4 689.9) scale(1.000 1.060)" font-size="29.8" class="a">T</text>
<text transform="translate(1262.4 697.9) scale(1.000 1.120)" font-size="20.8" class="a">RCP</text>
<text transform="translate(1307.4 690.7) scale(1.000 1.050)" font-size="23.0" class="a">)</text>
<text transform="translate(320.5 350.0)" font-size="32.3" class="a" letter-spacing="0.30">(258,136)</text>
<text transform="translate(299.0 392.4)" font-size="36.0" class="a">T</text>
<text transform="translate(316.2 402.4)" font-size="32.0" class="a">RCP</text>
<text transform="translate(386.6 402.4)" font-size="32.0" class="a">:0.0002712</text>
<text transform="translate(1120.0 370.0)" font-size="32.3" class="a" letter-spacing="0.30">(198,76)</text>
<text transform="translate(1100.0 415.5)" font-size="38.0" class="a">T</text>
<text transform="translate(1120.3 426.8)" font-size="30.8" class="a">LCP</text>
<text transform="translate(1186.5 423.9)" font-size="32.7" class="a">:0.2849</text>
<text transform="translate(301.0 1008.0)" font-size="32.3" class="a" letter-spacing="0.30">(198,76)</text>
<text transform="translate(296.3 1047.0)" font-size="32.8" class="a">CPTD:0.2847</text>
<text transform="translate(1090.5 1008.0)" font-size="31.8" class="a">(198,76)</text>
<text transform="translate(1088.0 1046.7)" font-size="31.3" class="a">CPER:1051</text>
<rect x="0" y="1294" width="1611" height="17" fill="#fff"/>
</svg>
</div>
</body></html>
